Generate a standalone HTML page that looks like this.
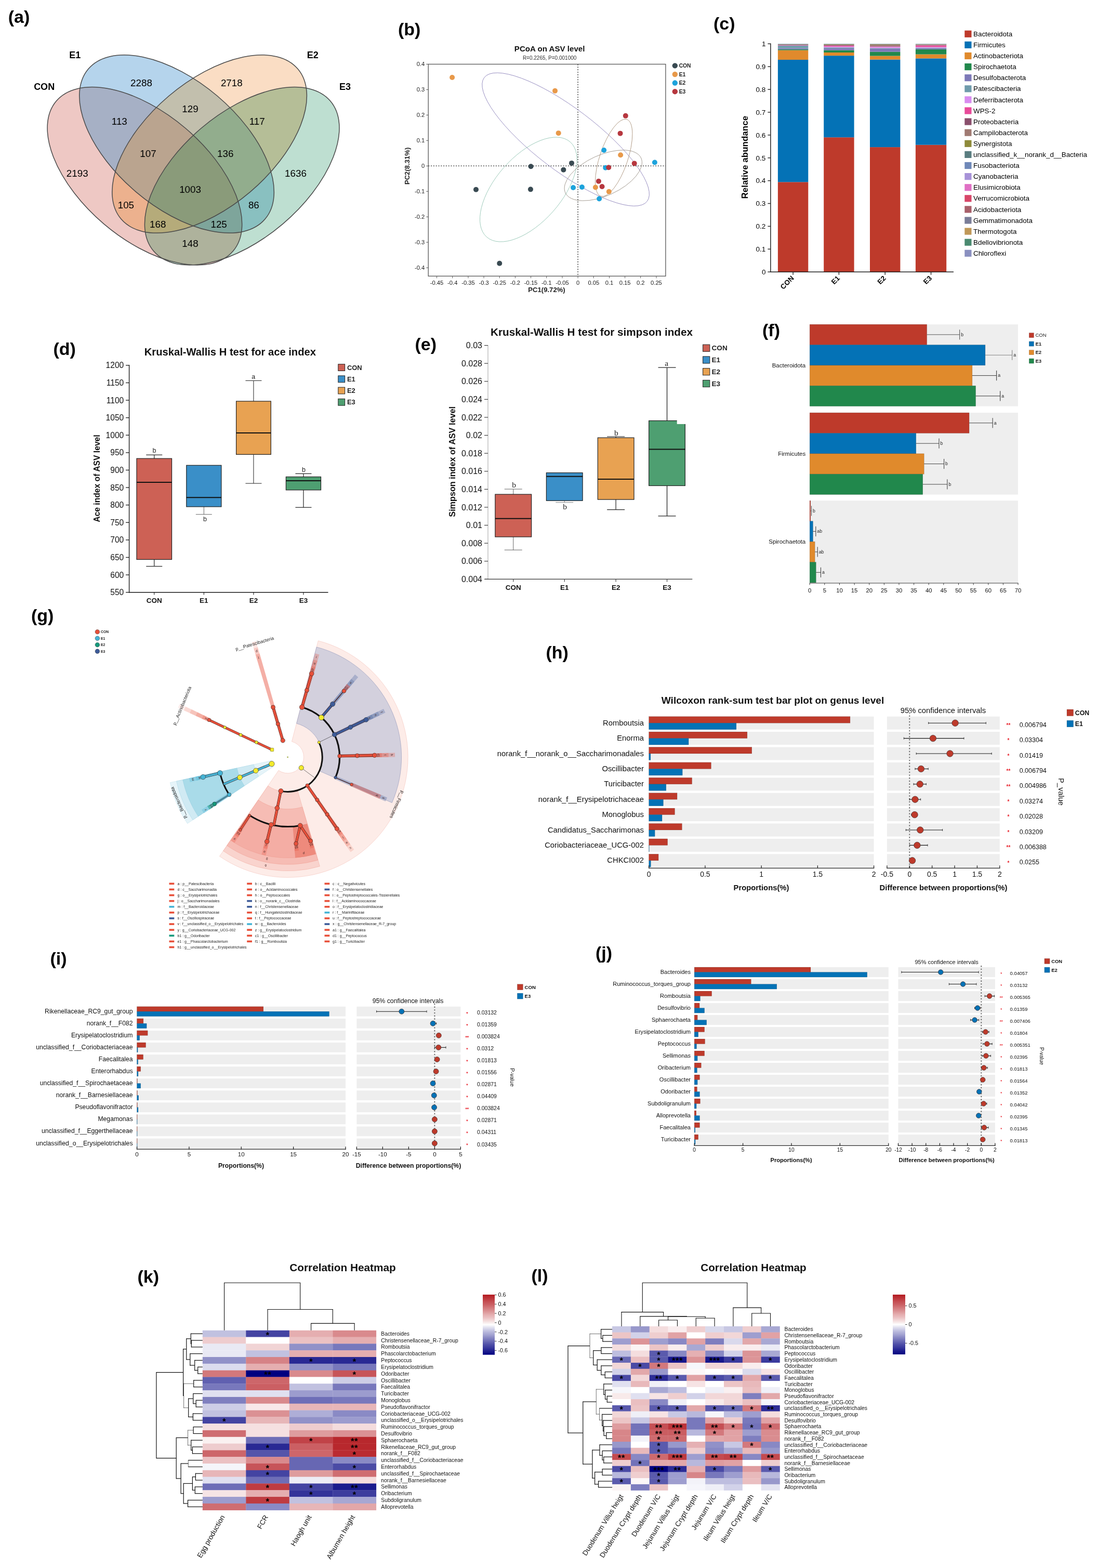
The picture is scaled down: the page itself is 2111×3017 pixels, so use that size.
<!DOCTYPE html>
<html lang="en">
<head>
<meta charset="utf-8">
<title>Figure</title>
<style>
html,body{margin:0;padding:0;background:#fff;}
body{width:2111px;height:3017px;overflow:hidden;}
svg{display:block;font-family:"Liberation Sans",Arial,sans-serif;}
</style>
</head>
<body>
<svg width="2111" height="3017" viewBox="0 0 2111 3017">
<rect x="0" y="0" width="2111" height="3017" fill="#ffffff"/>
<g id="p-a">
<text x="15.7" y="44" font-size="34" font-weight="bold">(a)</text>
<defs>
<clipPath id="vc0"><ellipse cx="278.4" cy="338.8" rx="223.1" ry="121" transform="rotate(40.3 278.4 338.8)" fill="#000"/></clipPath>
<clipPath id="vc1"><ellipse cx="340.05" cy="277.05" rx="223.1" ry="121" transform="rotate(40.3 340.05 277.05)" fill="#000"/></clipPath>
<clipPath id="vc2"><ellipse cx="403.1" cy="277.05" rx="223.1" ry="121" transform="rotate(-40.3 403.1 277.05)" fill="#000"/></clipPath>
<clipPath id="vc3"><ellipse cx="465.7" cy="338.8" rx="223.1" ry="121" transform="rotate(-40.3 465.7 338.8)" fill="#000"/></clipPath>
</defs>
<ellipse cx="278.4" cy="338.8" rx="223.1" ry="121" transform="rotate(40.3 278.4 338.8)" fill="rgb(238,200,196)"/>
<ellipse cx="340.05" cy="277.05" rx="223.1" ry="121" transform="rotate(40.3 340.05 277.05)" fill="rgb(181,212,236)"/>
<ellipse cx="403.1" cy="277.05" rx="223.1" ry="121" transform="rotate(-40.3 403.1 277.05)" fill="rgb(250,221,196)"/>
<ellipse cx="465.7" cy="338.8" rx="223.1" ry="121" transform="rotate(-40.3 465.7 338.8)" fill="rgb(190,223,209)"/>
<g clip-path="url(#vc0)"><ellipse cx="340.05" cy="277.05" rx="223.1" ry="121" transform="rotate(40.3 340.05 277.05)" fill="rgb(166,176,197)"/></g>
<g clip-path="url(#vc0)"><ellipse cx="403.1" cy="277.05" rx="223.1" ry="121" transform="rotate(-40.3 403.1 277.05)" fill="rgb(236,177,142)"/></g>
<g clip-path="url(#vc0)"><ellipse cx="465.7" cy="338.8" rx="223.1" ry="121" transform="rotate(-40.3 465.7 338.8)" fill="rgb(174,178,156)"/></g>
<g clip-path="url(#vc1)"><ellipse cx="403.1" cy="277.05" rx="223.1" ry="121" transform="rotate(-40.3 403.1 277.05)" fill="rgb(194,191,173)"/></g>
<g clip-path="url(#vc1)"><ellipse cx="465.7" cy="338.8" rx="223.1" ry="121" transform="rotate(-40.3 465.7 338.8)" fill="rgb(137,192,192)"/></g>
<g clip-path="url(#vc2)"><ellipse cx="465.7" cy="338.8" rx="223.1" ry="121" transform="rotate(-40.3 465.7 338.8)" fill="rgb(181,190,151)"/></g>
<g clip-path="url(#vc0)"><g clip-path="url(#vc1)"><ellipse cx="403.1" cy="277.05" rx="223.1" ry="121" transform="rotate(-40.3 403.1 277.05)" fill="rgb(186,164,143)"/></g></g>
<g clip-path="url(#vc0)"><g clip-path="url(#vc1)"><ellipse cx="465.7" cy="338.8" rx="223.1" ry="121" transform="rotate(-40.3 465.7 338.8)" fill="rgb(126,165,155)"/></g></g>
<g clip-path="url(#vc0)"><g clip-path="url(#vc2)"><ellipse cx="465.7" cy="338.8" rx="223.1" ry="121" transform="rotate(-40.3 465.7 338.8)" fill="rgb(181,171,122)"/></g></g>
<g clip-path="url(#vc1)"><g clip-path="url(#vc2)"><ellipse cx="465.7" cy="338.8" rx="223.1" ry="121" transform="rotate(-40.3 465.7 338.8)" fill="rgb(146,173,141)"/></g></g>
<g clip-path="url(#vc0)"><g clip-path="url(#vc1)"><g clip-path="url(#vc2)"><ellipse cx="465.7" cy="338.8" rx="223.1" ry="121" transform="rotate(-40.3 465.7 338.8)" fill="rgb(138,155,122)"/></g></g></g>
<ellipse cx="278.4" cy="338.8" rx="223.1" ry="121" transform="rotate(40.3 278.4 338.8)" fill="none" stroke="#4a4a4a" stroke-width="1.5"/>
<ellipse cx="340.05" cy="277.05" rx="223.1" ry="121" transform="rotate(40.3 340.05 277.05)" fill="none" stroke="#4a4a4a" stroke-width="1.5"/>
<ellipse cx="403.1" cy="277.05" rx="223.1" ry="121" transform="rotate(-40.3 403.1 277.05)" fill="none" stroke="#4a4a4a" stroke-width="1.5"/>
<ellipse cx="465.7" cy="338.8" rx="223.1" ry="121" transform="rotate(-40.3 465.7 338.8)" fill="none" stroke="#4a4a4a" stroke-width="1.5"/>
<text x="85.13" y="173.16" font-size="18" text-anchor="middle" font-weight="bold">CON</text>
<text x="144.27" y="112.23" font-size="18" text-anchor="middle" font-weight="bold">E1</text>
<text x="601.7" y="112.23" font-size="18" text-anchor="middle" font-weight="bold">E2</text>
<text x="663.98" y="173.16" font-size="18" text-anchor="middle" font-weight="bold">E3</text>
<text x="271.95" y="166.22" font-size="18.8" text-anchor="middle">2288</text>
<text x="445.79" y="166.22" font-size="18.8" text-anchor="middle">2718</text>
<text x="366.04" y="215.5" font-size="18.8" text-anchor="middle">129</text>
<text x="229.84" y="240.14" font-size="18.8" text-anchor="middle">113</text>
<text x="494.62" y="240.14" font-size="18.8" text-anchor="middle">117</text>
<text x="284.95" y="302.42" font-size="18.8" text-anchor="middle">107</text>
<text x="433.69" y="302.42" font-size="18.8" text-anchor="middle">136</text>
<text x="148.75" y="339.61" font-size="18.8" text-anchor="middle">2193</text>
<text x="569" y="339.61" font-size="18.8" text-anchor="middle">1636</text>
<text x="366.04" y="370.52" font-size="18.8" text-anchor="middle">1003</text>
<text x="242.38" y="401.43" font-size="18.8" text-anchor="middle">105</text>
<text x="488.35" y="401.43" font-size="18.8" text-anchor="middle">86</text>
<text x="303.76" y="438.17" font-size="18.8" text-anchor="middle">168</text>
<text x="421.15" y="438.17" font-size="18.8" text-anchor="middle">125</text>
<text x="366.04" y="475.36" font-size="18.8" text-anchor="middle">148</text>
</g>
<g id="p-b">
<text x="766" y="67.5" font-size="34" font-weight="bold">(b)</text>
<text x="1057.61" y="99.45" font-size="15.1" text-anchor="middle" font-weight="bold" fill="#111">PCoA on ASV level</text>
<text x="1057.61" y="115.14" font-size="10" text-anchor="middle" fill="#333">R=0.2265, P=0.001000</text>
<line x1="1112.1" y1="123.5" x2="1112.1" y2="531.3" stroke="#555" stroke-width="1.6" stroke-dasharray="2.2 2.6"/>
<line x1="824.2" y1="319.3" x2="1280.9" y2="319.3" stroke="#555" stroke-width="1.6" stroke-dasharray="2.2 2.6"/>
<ellipse cx="1088.6" cy="268.24" rx="196.79" ry="59.75" transform="rotate(37.2 1088.6 268.24)" fill="none" stroke="#8a80b8" stroke-width="0.8"/>
<ellipse cx="1016.91" cy="364.58" rx="121.73" ry="63.48" transform="rotate(-48.7 1016.91 364.58)" fill="none" stroke="#8fc3b0" stroke-width="0.8"/>
<ellipse cx="1160.78" cy="337.51" rx="80.17" ry="39.02" transform="rotate(-24.6 1160.78 337.51)" fill="none" stroke="#9a9186" stroke-width="0.8"/>
<ellipse cx="1181.21" cy="303.6" rx="78.04" ry="26.89" transform="rotate(-71.3 1181.21 303.6)" fill="none" stroke="#a89078" stroke-width="0.8"/>
<rect x="824.2" y="123.5" width="456.7" height="407.8" fill="none" stroke="#555" stroke-width="1.3"/>
<line x1="840.57" y1="531.3" x2="840.57" y2="535.3" stroke="#555" stroke-width="1"/>
<text x="840.57" y="548.3" font-size="11.2" text-anchor="middle" fill="#222">-0.45</text>
<line x1="870.74" y1="531.3" x2="870.74" y2="535.3" stroke="#555" stroke-width="1"/>
<text x="870.74" y="548.3" font-size="11.2" text-anchor="middle" fill="#222">-0.4</text>
<line x1="900.91" y1="531.3" x2="900.91" y2="535.3" stroke="#555" stroke-width="1"/>
<text x="900.91" y="548.3" font-size="11.2" text-anchor="middle" fill="#222">-0.35</text>
<line x1="931.08" y1="531.3" x2="931.08" y2="535.3" stroke="#555" stroke-width="1"/>
<text x="931.08" y="548.3" font-size="11.2" text-anchor="middle" fill="#222">-0.3</text>
<line x1="961.25" y1="531.3" x2="961.25" y2="535.3" stroke="#555" stroke-width="1"/>
<text x="961.25" y="548.3" font-size="11.2" text-anchor="middle" fill="#222">-0.25</text>
<line x1="991.42" y1="531.3" x2="991.42" y2="535.3" stroke="#555" stroke-width="1"/>
<text x="991.42" y="548.3" font-size="11.2" text-anchor="middle" fill="#222">-0.2</text>
<line x1="1021.59" y1="531.3" x2="1021.59" y2="535.3" stroke="#555" stroke-width="1"/>
<text x="1021.59" y="548.3" font-size="11.2" text-anchor="middle" fill="#222">-0.15</text>
<line x1="1051.76" y1="531.3" x2="1051.76" y2="535.3" stroke="#555" stroke-width="1"/>
<text x="1051.76" y="548.3" font-size="11.2" text-anchor="middle" fill="#222">-0.1</text>
<line x1="1081.93" y1="531.3" x2="1081.93" y2="535.3" stroke="#555" stroke-width="1"/>
<text x="1081.93" y="548.3" font-size="11.2" text-anchor="middle" fill="#222">-0.05</text>
<line x1="1112.1" y1="531.3" x2="1112.1" y2="535.3" stroke="#555" stroke-width="1"/>
<text x="1112.1" y="548.3" font-size="11.2" text-anchor="middle" fill="#222">0</text>
<line x1="1142.27" y1="531.3" x2="1142.27" y2="535.3" stroke="#555" stroke-width="1"/>
<text x="1142.27" y="548.3" font-size="11.2" text-anchor="middle" fill="#222">0.05</text>
<line x1="1172.44" y1="531.3" x2="1172.44" y2="535.3" stroke="#555" stroke-width="1"/>
<text x="1172.44" y="548.3" font-size="11.2" text-anchor="middle" fill="#222">0.1</text>
<line x1="1202.61" y1="531.3" x2="1202.61" y2="535.3" stroke="#555" stroke-width="1"/>
<text x="1202.61" y="548.3" font-size="11.2" text-anchor="middle" fill="#222">0.15</text>
<line x1="1232.78" y1="531.3" x2="1232.78" y2="535.3" stroke="#555" stroke-width="1"/>
<text x="1232.78" y="548.3" font-size="11.2" text-anchor="middle" fill="#222">0.2</text>
<line x1="1262.95" y1="531.3" x2="1262.95" y2="535.3" stroke="#555" stroke-width="1"/>
<text x="1262.95" y="548.3" font-size="11.2" text-anchor="middle" fill="#222">0.25</text>
<line x1="820.2" y1="515.14" x2="824.2" y2="515.14" stroke="#555" stroke-width="1"/>
<text x="817.2" y="519.14" font-size="11.2" text-anchor="end" fill="#222">-0.4</text>
<line x1="820.2" y1="466.18" x2="824.2" y2="466.18" stroke="#555" stroke-width="1"/>
<text x="817.2" y="470.18" font-size="11.2" text-anchor="end" fill="#222">-0.3</text>
<line x1="820.2" y1="417.22" x2="824.2" y2="417.22" stroke="#555" stroke-width="1"/>
<text x="817.2" y="421.22" font-size="11.2" text-anchor="end" fill="#222">-0.2</text>
<line x1="820.2" y1="368.26" x2="824.2" y2="368.26" stroke="#555" stroke-width="1"/>
<text x="817.2" y="372.26" font-size="11.2" text-anchor="end" fill="#222">-0.1</text>
<line x1="820.2" y1="319.3" x2="824.2" y2="319.3" stroke="#555" stroke-width="1"/>
<text x="817.2" y="323.3" font-size="11.2" text-anchor="end" fill="#222">0</text>
<line x1="820.2" y1="270.34" x2="824.2" y2="270.34" stroke="#555" stroke-width="1"/>
<text x="817.2" y="274.34" font-size="11.2" text-anchor="end" fill="#222">0.1</text>
<line x1="820.2" y1="221.38" x2="824.2" y2="221.38" stroke="#555" stroke-width="1"/>
<text x="817.2" y="225.38" font-size="11.2" text-anchor="end" fill="#222">0.2</text>
<line x1="820.2" y1="172.42" x2="824.2" y2="172.42" stroke="#555" stroke-width="1"/>
<text x="817.2" y="176.42" font-size="11.2" text-anchor="end" fill="#222">0.3</text>
<line x1="820.2" y1="123.46" x2="824.2" y2="123.46" stroke="#555" stroke-width="1"/>
<text x="817.2" y="127.46" font-size="11.2" text-anchor="end" fill="#222">0.4</text>
<text x="1052.01" y="561.74" font-size="13.1" text-anchor="middle" font-weight="bold" fill="#222">PC1(9.72%)</text>
<text x="788.38" y="319.4" font-size="13.1" text-anchor="middle" font-weight="bold" fill="#222" transform="rotate(-90 788.38 319.4)">PC2(8.31%)</text>
<circle cx="1021.59" cy="320.28" r="5" fill="#394a52"/>
<circle cx="1084.34" cy="326.64" r="5" fill="#394a52"/>
<circle cx="1100.03" cy="313.91" r="5" fill="#394a52"/>
<circle cx="915.99" cy="364.83" r="5" fill="#394a52"/>
<circle cx="1020.99" cy="364.34" r="5" fill="#394a52"/>
<circle cx="961.25" cy="506.82" r="5" fill="#394a52"/>
<circle cx="870.14" cy="148.92" r="5" fill="#e8994a"/>
<circle cx="1068.05" cy="174.87" r="5" fill="#e8994a"/>
<circle cx="1074.69" cy="256.14" r="5" fill="#e8994a"/>
<circle cx="1194.16" cy="298.25" r="5" fill="#e8994a"/>
<circle cx="1145.89" cy="360.43" r="5" fill="#e8994a"/>
<circle cx="1171.84" cy="368.75" r="5" fill="#e8994a"/>
<circle cx="1162.18" cy="288.94" r="5" fill="#1da3dc"/>
<circle cx="1259.93" cy="312.45" r="5" fill="#1da3dc"/>
<circle cx="1165.2" cy="322.73" r="5" fill="#1da3dc"/>
<circle cx="1103.05" cy="360.92" r="5" fill="#1da3dc"/>
<circle cx="1119.94" cy="359.94" r="5" fill="#1da3dc"/>
<circle cx="1153.13" cy="382.46" r="5" fill="#1da3dc"/>
<circle cx="1203.82" cy="222.85" r="5" fill="#b6373f"/>
<circle cx="1193.56" cy="256.63" r="5" fill="#b6373f"/>
<circle cx="1220.71" cy="314.4" r="5" fill="#b6373f"/>
<circle cx="1171.23" cy="322.24" r="5" fill="#b6373f"/>
<circle cx="1151.92" cy="348.68" r="5" fill="#b6373f"/>
<circle cx="1158.56" cy="358.96" r="5" fill="#b6373f"/>
<circle cx="1298.83" cy="126.34" r="5.2" fill="#394a52"/>
<text x="1306.68" y="129.94" font-size="10.3" font-weight="bold" fill="#222">CON</text>
<circle cx="1298.83" cy="142.96" r="5.2" fill="#e8994a"/>
<text x="1306.68" y="146.56" font-size="10.3" font-weight="bold" fill="#222">E1</text>
<circle cx="1298.83" cy="159.57" r="5.2" fill="#1da3dc"/>
<text x="1306.68" y="163.17" font-size="10.3" font-weight="bold" fill="#222">E2</text>
<circle cx="1298.83" cy="176.19" r="5.2" fill="#b6373f"/>
<text x="1306.68" y="179.79" font-size="10.3" font-weight="bold" fill="#222">E3</text>
</g>
<g id="p-c">
<text x="1373" y="56.5" font-size="34" font-weight="bold">(c)</text>
<rect x="1496.9" y="350.27" width="58.4" height="172.93" fill="#be3a2b"/>
<rect x="1496.9" y="115.02" width="58.4" height="235.25" fill="#0472b6"/>
<rect x="1496.9" y="96.59" width="58.4" height="18.43" fill="#e08a2c"/>
<rect x="1496.9" y="94.83" width="58.4" height="1.76" fill="#21884c"/>
<rect x="1496.9" y="92.64" width="58.4" height="2.19" fill="#7d79b8"/>
<rect x="1496.9" y="87.81" width="58.4" height="4.83" fill="#6f9bab"/>
<rect x="1496.9" y="87.37" width="58.4" height="0.44" fill="#d98cf0"/>
<rect x="1496.9" y="86.93" width="58.4" height="0.44" fill="#e84a9a"/>
<rect x="1496.9" y="86.06" width="58.4" height="0.88" fill="#8a4f6c"/>
<rect x="1496.9" y="85.62" width="58.4" height="0.44" fill="#a07a72"/>
<rect x="1496.9" y="85.18" width="58.4" height="0.44" fill="#8e8a3a"/>
<rect x="1496.9" y="84.74" width="58.4" height="0.44" fill="#5a7d80"/>
<rect x="1496.9" y="84.3" width="58.4" height="0.44" fill="#6f88b8"/>
<rect x="1585.2" y="264.25" width="58.4" height="258.95" fill="#be3a2b"/>
<rect x="1585.2" y="107.12" width="58.4" height="157.13" fill="#0472b6"/>
<rect x="1585.2" y="100.98" width="58.4" height="6.14" fill="#e08a2c"/>
<rect x="1585.2" y="96.59" width="58.4" height="4.39" fill="#21884c"/>
<rect x="1585.2" y="93.08" width="58.4" height="3.51" fill="#7d79b8"/>
<rect x="1585.2" y="91.32" width="58.4" height="1.76" fill="#6f9bab"/>
<rect x="1585.2" y="89.57" width="58.4" height="1.76" fill="#d98cf0"/>
<rect x="1585.2" y="87.81" width="58.4" height="1.76" fill="#e84a9a"/>
<rect x="1585.2" y="86.93" width="58.4" height="0.88" fill="#8a4f6c"/>
<rect x="1585.2" y="86.06" width="58.4" height="0.88" fill="#a07a72"/>
<rect x="1585.2" y="85.18" width="58.4" height="0.88" fill="#8e8a3a"/>
<rect x="1585.2" y="84.74" width="58.4" height="0.44" fill="#5a7d80"/>
<rect x="1585.2" y="84.3" width="58.4" height="0.44" fill="#6f88b8"/>
<rect x="1674" y="283.12" width="58.4" height="240.08" fill="#be3a2b"/>
<rect x="1674" y="114.58" width="58.4" height="168.54" fill="#0472b6"/>
<rect x="1674" y="107.56" width="58.4" height="7.02" fill="#e08a2c"/>
<rect x="1674" y="99.66" width="58.4" height="7.9" fill="#21884c"/>
<rect x="1674" y="93.96" width="58.4" height="5.71" fill="#7d79b8"/>
<rect x="1674" y="92.64" width="58.4" height="1.32" fill="#6f9bab"/>
<rect x="1674" y="90.44" width="58.4" height="2.19" fill="#d98cf0"/>
<rect x="1674" y="89.57" width="58.4" height="0.88" fill="#e84a9a"/>
<rect x="1674" y="88.25" width="58.4" height="1.32" fill="#8a4f6c"/>
<rect x="1674" y="86.06" width="58.4" height="2.19" fill="#a07a72"/>
<rect x="1674" y="85.18" width="58.4" height="0.88" fill="#8e8a3a"/>
<rect x="1674" y="84.74" width="58.4" height="0.44" fill="#5a7d80"/>
<rect x="1674" y="84.3" width="58.4" height="0.44" fill="#6f88b8"/>
<rect x="1761.9" y="278.73" width="59.3" height="244.47" fill="#be3a2b"/>
<rect x="1761.9" y="112.39" width="59.3" height="166.34" fill="#0472b6"/>
<rect x="1761.9" y="104.49" width="59.3" height="7.9" fill="#e08a2c"/>
<rect x="1761.9" y="94.83" width="59.3" height="9.66" fill="#21884c"/>
<rect x="1761.9" y="92.64" width="59.3" height="2.19" fill="#7d79b8"/>
<rect x="1761.9" y="91.76" width="59.3" height="0.88" fill="#6f9bab"/>
<rect x="1761.9" y="90.44" width="59.3" height="1.32" fill="#d98cf0"/>
<rect x="1761.9" y="87.37" width="59.3" height="3.07" fill="#e84a9a"/>
<rect x="1761.9" y="86.49" width="59.3" height="0.88" fill="#8a4f6c"/>
<rect x="1761.9" y="85.62" width="59.3" height="0.88" fill="#a07a72"/>
<rect x="1761.9" y="85.18" width="59.3" height="0.44" fill="#8e8a3a"/>
<rect x="1761.9" y="84.74" width="59.3" height="0.44" fill="#5a7d80"/>
<rect x="1761.9" y="84.3" width="59.3" height="0.44" fill="#6f88b8"/>
<line x1="1482.9" y1="83.6" x2="1482.9" y2="523.9" stroke="#222" stroke-width="1.5"/>
<line x1="1482.2" y1="523.2" x2="1835" y2="523.2" stroke="#222" stroke-width="1.5"/>
<line x1="1477.4" y1="523.2" x2="1482.9" y2="523.2" stroke="#222" stroke-width="1.4"/>
<text x="1473.4" y="528" font-size="13.5" text-anchor="end">0</text>
<line x1="1477.4" y1="479.31" x2="1482.9" y2="479.31" stroke="#222" stroke-width="1.4"/>
<text x="1473.4" y="484.11" font-size="13.5" text-anchor="end">0.1</text>
<line x1="1477.4" y1="435.42" x2="1482.9" y2="435.42" stroke="#222" stroke-width="1.4"/>
<text x="1473.4" y="440.22" font-size="13.5" text-anchor="end">0.2</text>
<line x1="1477.4" y1="391.53" x2="1482.9" y2="391.53" stroke="#222" stroke-width="1.4"/>
<text x="1473.4" y="396.33" font-size="13.5" text-anchor="end">0.3</text>
<line x1="1477.4" y1="347.64" x2="1482.9" y2="347.64" stroke="#222" stroke-width="1.4"/>
<text x="1473.4" y="352.44" font-size="13.5" text-anchor="end">0.4</text>
<line x1="1477.4" y1="303.75" x2="1482.9" y2="303.75" stroke="#222" stroke-width="1.4"/>
<text x="1473.4" y="308.55" font-size="13.5" text-anchor="end">0.5</text>
<line x1="1477.4" y1="259.86" x2="1482.9" y2="259.86" stroke="#222" stroke-width="1.4"/>
<text x="1473.4" y="264.66" font-size="13.5" text-anchor="end">0.6</text>
<line x1="1477.4" y1="215.97" x2="1482.9" y2="215.97" stroke="#222" stroke-width="1.4"/>
<text x="1473.4" y="220.77" font-size="13.5" text-anchor="end">0.7</text>
<line x1="1477.4" y1="172.08" x2="1482.9" y2="172.08" stroke="#222" stroke-width="1.4"/>
<text x="1473.4" y="176.88" font-size="13.5" text-anchor="end">0.8</text>
<line x1="1477.4" y1="128.19" x2="1482.9" y2="128.19" stroke="#222" stroke-width="1.4"/>
<text x="1473.4" y="132.99" font-size="13.5" text-anchor="end">0.9</text>
<line x1="1477.4" y1="84.3" x2="1482.9" y2="84.3" stroke="#222" stroke-width="1.4"/>
<text x="1473.4" y="89.1" font-size="13.5" text-anchor="end">1</text>
<text x="1439.44" y="302.71" font-size="17" text-anchor="middle" font-weight="bold" transform="rotate(-90 1439.44 302.71)">Relative abundance</text>
<line x1="1526.1" y1="523.2" x2="1526.1" y2="528.7" stroke="#222" stroke-width="1.4"/>
<text x="1528.6" y="536.2" font-size="13.5" text-anchor="end" font-weight="bold" transform="rotate(-45 1528.6 536.2)">CON</text>
<line x1="1614.4" y1="523.2" x2="1614.4" y2="528.7" stroke="#222" stroke-width="1.4"/>
<text x="1616.9" y="536.2" font-size="13.5" text-anchor="end" font-weight="bold" transform="rotate(-45 1616.9 536.2)">E1</text>
<line x1="1703.2" y1="523.2" x2="1703.2" y2="528.7" stroke="#222" stroke-width="1.4"/>
<text x="1705.7" y="536.2" font-size="13.5" text-anchor="end" font-weight="bold" transform="rotate(-45 1705.7 536.2)">E2</text>
<line x1="1791.55" y1="523.2" x2="1791.55" y2="528.7" stroke="#222" stroke-width="1.4"/>
<text x="1794.05" y="536.2" font-size="13.5" text-anchor="end" font-weight="bold" transform="rotate(-45 1794.05 536.2)">E3</text>
<rect x="1856.3" y="58.7" width="13.2" height="13.2" fill="#be3a2b"/>
<text x="1873" y="69.9" font-size="13.4">Bacteroidota</text>
<rect x="1856.3" y="79.8" width="13.2" height="13.2" fill="#0472b6"/>
<text x="1873" y="91" font-size="13.4">Firmicutes</text>
<rect x="1856.3" y="100.9" width="13.2" height="13.2" fill="#e08a2c"/>
<text x="1873" y="112.1" font-size="13.4">Actinobacteriota</text>
<rect x="1856.3" y="122" width="13.2" height="13.2" fill="#21884c"/>
<text x="1873" y="133.2" font-size="13.4">Spirochaetota</text>
<rect x="1856.3" y="143.1" width="13.2" height="13.2" fill="#7d79b8"/>
<text x="1873" y="154.3" font-size="13.4">Desulfobacterota</text>
<rect x="1856.3" y="164.2" width="13.2" height="13.2" fill="#6f9bab"/>
<text x="1873" y="175.4" font-size="13.4">Patescibacteria</text>
<rect x="1856.3" y="185.3" width="13.2" height="13.2" fill="#d98cf0"/>
<text x="1873" y="196.5" font-size="13.4">Deferribacterota</text>
<rect x="1856.3" y="206.4" width="13.2" height="13.2" fill="#e84a9a"/>
<text x="1873" y="217.6" font-size="13.4">WPS-2</text>
<rect x="1856.3" y="227.5" width="13.2" height="13.2" fill="#8a4f6c"/>
<text x="1873" y="238.7" font-size="13.4">Proteobacteria</text>
<rect x="1856.3" y="248.6" width="13.2" height="13.2" fill="#a07a72"/>
<text x="1873" y="259.8" font-size="13.4">Campilobacterota</text>
<rect x="1856.3" y="269.7" width="13.2" height="13.2" fill="#8e8a3a"/>
<text x="1873" y="280.9" font-size="13.4">Synergistota</text>
<rect x="1856.3" y="290.8" width="13.2" height="13.2" fill="#5a7d80"/>
<text x="1873" y="302" font-size="13.4">unclassified_k__norank_d__Bacteria</text>
<rect x="1856.3" y="311.9" width="13.2" height="13.2" fill="#6f88b8"/>
<text x="1873" y="323.1" font-size="13.4">Fusobacteriota</text>
<rect x="1856.3" y="333" width="13.2" height="13.2" fill="#a792d8"/>
<text x="1873" y="344.2" font-size="13.4">Cyanobacteria</text>
<rect x="1856.3" y="354.1" width="13.2" height="13.2" fill="#e070c4"/>
<text x="1873" y="365.3" font-size="13.4">Elusimicrobiota</text>
<rect x="1856.3" y="375.2" width="13.2" height="13.2" fill="#d84668"/>
<text x="1873" y="386.4" font-size="13.4">Verrucomicrobiota</text>
<rect x="1856.3" y="396.3" width="13.2" height="13.2" fill="#a8606a"/>
<text x="1873" y="407.5" font-size="13.4">Acidobacteriota</text>
<rect x="1856.3" y="417.4" width="13.2" height="13.2" fill="#7a7d98"/>
<text x="1873" y="428.6" font-size="13.4">Gemmatimonadota</text>
<rect x="1856.3" y="438.5" width="13.2" height="13.2" fill="#c09858"/>
<text x="1873" y="449.7" font-size="13.4">Thermotogota</text>
<rect x="1856.3" y="459.6" width="13.2" height="13.2" fill="#4a8a70"/>
<text x="1873" y="470.8" font-size="13.4">Bdellovibrionota</text>
<rect x="1856.3" y="480.7" width="13.2" height="13.2" fill="#8a90c0"/>
<text x="1873" y="491.9" font-size="13.4">Chloroflexi</text>
</g>
<g id="p-d">
<text x="102.5" y="682.5" font-size="34" font-weight="bold">(d)</text>
<text x="442.85" y="684.47" font-size="20.2" text-anchor="middle" font-weight="bold" fill="#111">Kruskal-Wallis H test for ace index</text>
<line x1="296.75" y1="875.3" x2="296.75" y2="882.2" stroke="#222" stroke-width="1.2"/>
<line x1="281.25" y1="875.3" x2="312.25" y2="875.3" stroke="#222" stroke-width="1.2"/>
<line x1="296.75" y1="1076.5" x2="296.75" y2="1089.6" stroke="#222" stroke-width="1.2"/>
<line x1="281.25" y1="1089.6" x2="312.25" y2="1089.6" stroke="#222" stroke-width="1.2"/>
<rect x="263" y="882.2" width="67.5" height="194.3" fill="#cd6155" stroke="#222" stroke-width="1.2"/>
<line x1="263" y1="928" x2="330.5" y2="928" stroke="#111" stroke-width="2"/>
<line x1="392.35" y1="975" x2="392.35" y2="989.8" stroke="#555" stroke-width="0.9"/>
<line x1="376.85" y1="989.8" x2="407.85" y2="989.8" stroke="#555" stroke-width="0.9"/>
<rect x="358.8" y="895.3" width="67.1" height="79.7" fill="#3a8fc8" stroke="#222" stroke-width="1.2"/>
<line x1="358.8" y1="957.2" x2="425.9" y2="957.2" stroke="#111" stroke-width="2"/>
<line x1="487.95" y1="732.4" x2="487.95" y2="772" stroke="#333" stroke-width="1.1"/>
<line x1="472.45" y1="732.4" x2="503.45" y2="732.4" stroke="#333" stroke-width="1.1"/>
<line x1="487.95" y1="874.4" x2="487.95" y2="930.1" stroke="#333" stroke-width="1.1"/>
<line x1="472.45" y1="930.1" x2="503.45" y2="930.1" stroke="#333" stroke-width="1.1"/>
<rect x="454.6" y="772" width="66.7" height="102.4" fill="#e8a252" stroke="#222" stroke-width="1.2"/>
<line x1="454.6" y1="833" x2="521.3" y2="833" stroke="#111" stroke-width="2"/>
<line x1="583.95" y1="911.4" x2="583.95" y2="917.5" stroke="#222" stroke-width="1.2"/>
<line x1="568.45" y1="911.4" x2="599.45" y2="911.4" stroke="#222" stroke-width="1.2"/>
<line x1="583.95" y1="942.8" x2="583.95" y2="976.3" stroke="#222" stroke-width="1.2"/>
<line x1="568.45" y1="976.3" x2="599.45" y2="976.3" stroke="#222" stroke-width="1.2"/>
<rect x="550.4" y="917.5" width="67.1" height="25.3" fill="#4e9f71" stroke="#222" stroke-width="1.2"/>
<line x1="550.4" y1="924.9" x2="617.5" y2="924.9" stroke="#111" stroke-width="2"/>
<line x1="248.6" y1="702.1" x2="248.6" y2="1140.4" stroke="#1a1a1a" stroke-width="1.4"/>
<line x1="247.9" y1="1139.7" x2="631.5" y2="1139.7" stroke="#1a1a1a" stroke-width="1.4"/>
<line x1="242.1" y1="1139.7" x2="248.6" y2="1139.7" stroke="#1a1a1a" stroke-width="1.3"/>
<text x="238.3" y="1145.2" font-size="15.6" text-anchor="end" fill="#111">550</text>
<line x1="242.1" y1="1106.1" x2="248.6" y2="1106.1" stroke="#1a1a1a" stroke-width="1.3"/>
<text x="238.3" y="1111.6" font-size="15.6" text-anchor="end" fill="#111">600</text>
<line x1="242.1" y1="1072.5" x2="248.6" y2="1072.5" stroke="#1a1a1a" stroke-width="1.3"/>
<text x="238.3" y="1078" font-size="15.6" text-anchor="end" fill="#111">650</text>
<line x1="242.1" y1="1038.9" x2="248.6" y2="1038.9" stroke="#1a1a1a" stroke-width="1.3"/>
<text x="238.3" y="1044.4" font-size="15.6" text-anchor="end" fill="#111">700</text>
<line x1="242.1" y1="1005.3" x2="248.6" y2="1005.3" stroke="#1a1a1a" stroke-width="1.3"/>
<text x="238.3" y="1010.8" font-size="15.6" text-anchor="end" fill="#111">750</text>
<line x1="242.1" y1="971.7" x2="248.6" y2="971.7" stroke="#1a1a1a" stroke-width="1.3"/>
<text x="238.3" y="977.2" font-size="15.6" text-anchor="end" fill="#111">800</text>
<line x1="242.1" y1="938.1" x2="248.6" y2="938.1" stroke="#1a1a1a" stroke-width="1.3"/>
<text x="238.3" y="943.6" font-size="15.6" text-anchor="end" fill="#111">850</text>
<line x1="242.1" y1="904.5" x2="248.6" y2="904.5" stroke="#1a1a1a" stroke-width="1.3"/>
<text x="238.3" y="910" font-size="15.6" text-anchor="end" fill="#111">900</text>
<line x1="242.1" y1="870.9" x2="248.6" y2="870.9" stroke="#1a1a1a" stroke-width="1.3"/>
<text x="238.3" y="876.4" font-size="15.6" text-anchor="end" fill="#111">950</text>
<line x1="242.1" y1="837.3" x2="248.6" y2="837.3" stroke="#1a1a1a" stroke-width="1.3"/>
<text x="238.3" y="842.8" font-size="15.6" text-anchor="end" fill="#111">1000</text>
<line x1="242.1" y1="803.7" x2="248.6" y2="803.7" stroke="#1a1a1a" stroke-width="1.3"/>
<text x="238.3" y="809.2" font-size="15.6" text-anchor="end" fill="#111">1050</text>
<line x1="242.1" y1="770.1" x2="248.6" y2="770.1" stroke="#1a1a1a" stroke-width="1.3"/>
<text x="238.3" y="775.6" font-size="15.6" text-anchor="end" fill="#111">1100</text>
<line x1="242.1" y1="736.5" x2="248.6" y2="736.5" stroke="#1a1a1a" stroke-width="1.3"/>
<text x="238.3" y="742" font-size="15.6" text-anchor="end" fill="#111">1150</text>
<line x1="242.1" y1="702.9" x2="248.6" y2="702.9" stroke="#1a1a1a" stroke-width="1.3"/>
<text x="238.3" y="708.4" font-size="15.6" text-anchor="end" fill="#111">1200</text>
<text x="191.95" y="920.56" font-size="15.7" text-anchor="middle" font-weight="bold" fill="#111" transform="rotate(-90 191.95 920.56)">Ace index of ASV level</text>
<line x1="296.75" y1="1139.7" x2="296.75" y2="1144.5" stroke="#222" stroke-width="1.1"/>
<text x="296.75" y="1159.6" font-size="13.5" text-anchor="middle" font-weight="bold" fill="#111">CON</text>
<line x1="392.35" y1="1139.7" x2="392.35" y2="1144.5" stroke="#222" stroke-width="1.1"/>
<text x="392.35" y="1159.6" font-size="13.5" text-anchor="middle" font-weight="bold" fill="#111">E1</text>
<line x1="487.95" y1="1139.7" x2="487.95" y2="1144.5" stroke="#222" stroke-width="1.1"/>
<text x="487.95" y="1159.6" font-size="13.5" text-anchor="middle" font-weight="bold" fill="#111">E2</text>
<line x1="583.95" y1="1139.7" x2="583.95" y2="1144.5" stroke="#222" stroke-width="1.1"/>
<text x="583.95" y="1159.6" font-size="13.5" text-anchor="middle" font-weight="bold" fill="#111">E3</text>
<text x="296.93" y="871.34" font-size="12.5" text-anchor="middle" fill="#222">b</text>
<text x="394.5" y="1003.33" font-size="12.5" text-anchor="middle" fill="#222">b</text>
<text x="487.72" y="728.9" font-size="12.5" text-anchor="middle" fill="#222">a</text>
<text x="584.42" y="908.37" font-size="12.5" text-anchor="middle" fill="#222">b</text>
<rect x="650.8" y="700.72" width="12.8" height="12.8" fill="#cd6155" stroke="#222" stroke-width="1"/>
<text x="668" y="711.52" font-size="12.9" font-weight="bold" fill="#222">CON</text>
<rect x="650.8" y="722.93" width="12.8" height="12.8" fill="#3a8fc8" stroke="#222" stroke-width="1"/>
<text x="668" y="733.73" font-size="12.9" font-weight="bold" fill="#222">E1</text>
<rect x="650.8" y="745.15" width="12.8" height="12.8" fill="#e8a252" stroke="#222" stroke-width="1"/>
<text x="668" y="755.95" font-size="12.9" font-weight="bold" fill="#222">E2</text>
<rect x="650.8" y="767.37" width="12.8" height="12.8" fill="#4e9f71" stroke="#222" stroke-width="1"/>
<text x="668" y="778.17" font-size="12.9" font-weight="bold" fill="#222">E3</text>
</g>
<g id="p-e">
<text x="798.5" y="673.5" font-size="34" font-weight="bold">(e)</text>
<text x="1138.5" y="646.17" font-size="20.7" text-anchor="middle" font-weight="bold" fill="#111">Kruskal-Wallis H test for simpson index</text>
<line x1="987.75" y1="941.1" x2="987.75" y2="951.1" stroke="#555" stroke-width="0.9"/>
<line x1="970.75" y1="941.1" x2="1004.75" y2="941.1" stroke="#555" stroke-width="0.9"/>
<line x1="987.75" y1="1033" x2="987.75" y2="1058.2" stroke="#555" stroke-width="0.9"/>
<line x1="970.75" y1="1058.2" x2="1004.75" y2="1058.2" stroke="#555" stroke-width="0.9"/>
<rect x="952.9" y="951.1" width="69.7" height="81.9" fill="#cd6155" stroke="#222" stroke-width="1.2"/>
<line x1="952.9" y1="997.7" x2="1022.6" y2="997.7" stroke="#111" stroke-width="2"/>
<line x1="1086.25" y1="963.3" x2="1086.25" y2="966.8" stroke="#777" stroke-width="0.9"/>
<line x1="1069.25" y1="966.8" x2="1103.25" y2="966.8" stroke="#777" stroke-width="0.9"/>
<rect x="1051.4" y="909.7" width="69.7" height="53.6" fill="#3a8fc8" stroke="#222" stroke-width="1.2"/>
<line x1="1051.4" y1="916.7" x2="1121.1" y2="916.7" stroke="#111" stroke-width="2"/>
<line x1="1185.15" y1="840" x2="1185.15" y2="842.2" stroke="#222" stroke-width="1.2"/>
<line x1="1168.15" y1="840" x2="1202.15" y2="840" stroke="#222" stroke-width="1.2"/>
<line x1="1185.15" y1="961.1" x2="1185.15" y2="980.7" stroke="#222" stroke-width="1.2"/>
<line x1="1168.15" y1="980.7" x2="1202.15" y2="980.7" stroke="#222" stroke-width="1.2"/>
<rect x="1150.3" y="842.2" width="69.7" height="118.9" fill="#e8a252" stroke="#222" stroke-width="1.2"/>
<line x1="1150.3" y1="921.9" x2="1220" y2="921.9" stroke="#111" stroke-width="2"/>
<line x1="1283.55" y1="707.2" x2="1283.55" y2="809.5" stroke="#222" stroke-width="1.3"/>
<line x1="1266.55" y1="707.2" x2="1300.55" y2="707.2" stroke="#222" stroke-width="1.3"/>
<line x1="1283.55" y1="934.5" x2="1283.55" y2="992.9" stroke="#222" stroke-width="1.3"/>
<line x1="1266.55" y1="992.9" x2="1300.55" y2="992.9" stroke="#222" stroke-width="1.3"/>
<rect x="1248.7" y="809.5" width="69.7" height="125" fill="#4e9f71" stroke="#222" stroke-width="1.2"/>
<line x1="1248.7" y1="864.4" x2="1318.4" y2="864.4" stroke="#111" stroke-width="2"/>
<rect x="1302.72" y="807.34" width="19" height="8.6" fill="#fff"/>
<line x1="939" y1="664" x2="939" y2="1114.9" stroke="#aaa" stroke-width="1.1"/>
<line x1="933" y1="1114.4" x2="1332.3" y2="1114.4" stroke="#333" stroke-width="1.1"/>
<line x1="932" y1="1114.4" x2="939" y2="1114.4" stroke="#333" stroke-width="1.1"/>
<text x="928" y="1120" font-size="16" text-anchor="end" fill="#111">0.004</text>
<line x1="932" y1="1079.8" x2="939" y2="1079.8" stroke="#333" stroke-width="1.1"/>
<text x="928" y="1085.4" font-size="16" text-anchor="end" fill="#111">0.006</text>
<line x1="932" y1="1045.2" x2="939" y2="1045.2" stroke="#333" stroke-width="1.1"/>
<text x="928" y="1050.8" font-size="16" text-anchor="end" fill="#111">0.008</text>
<line x1="932" y1="1010.6" x2="939" y2="1010.6" stroke="#333" stroke-width="1.1"/>
<text x="928" y="1016.2" font-size="16" text-anchor="end" fill="#111">0.01</text>
<line x1="932" y1="976" x2="939" y2="976" stroke="#333" stroke-width="1.1"/>
<text x="928" y="981.6" font-size="16" text-anchor="end" fill="#111">0.012</text>
<line x1="932" y1="941.4" x2="939" y2="941.4" stroke="#333" stroke-width="1.1"/>
<text x="928" y="947" font-size="16" text-anchor="end" fill="#111">0.014</text>
<line x1="932" y1="906.8" x2="939" y2="906.8" stroke="#333" stroke-width="1.1"/>
<text x="928" y="912.4" font-size="16" text-anchor="end" fill="#111">0.016</text>
<line x1="932" y1="872.2" x2="939" y2="872.2" stroke="#333" stroke-width="1.1"/>
<text x="928" y="877.8" font-size="16" text-anchor="end" fill="#111">0.018</text>
<line x1="932" y1="837.6" x2="939" y2="837.6" stroke="#333" stroke-width="1.1"/>
<text x="928" y="843.2" font-size="16" text-anchor="end" fill="#111">0.02</text>
<line x1="932" y1="803" x2="939" y2="803" stroke="#333" stroke-width="1.1"/>
<text x="928" y="808.6" font-size="16" text-anchor="end" fill="#111">0.022</text>
<line x1="932" y1="768.4" x2="939" y2="768.4" stroke="#333" stroke-width="1.1"/>
<text x="928" y="774" font-size="16" text-anchor="end" fill="#111">0.024</text>
<line x1="932" y1="733.8" x2="939" y2="733.8" stroke="#333" stroke-width="1.1"/>
<text x="928" y="739.4" font-size="16" text-anchor="end" fill="#111">0.026</text>
<line x1="932" y1="699.2" x2="939" y2="699.2" stroke="#333" stroke-width="1.1"/>
<text x="928" y="704.8" font-size="16" text-anchor="end" fill="#111">0.028</text>
<line x1="932" y1="664.6" x2="939" y2="664.6" stroke="#333" stroke-width="1.1"/>
<text x="928" y="670.2" font-size="16" text-anchor="end" fill="#111">0.03</text>
<text x="876.27" y="888.37" font-size="16.2" text-anchor="middle" font-weight="bold" fill="#111" transform="rotate(-90 876.27 888.37)">Simpson index of ASV level</text>
<line x1="987.75" y1="1114.4" x2="987.75" y2="1119.5" stroke="#333" stroke-width="1.1"/>
<text x="987.75" y="1135" font-size="13.5" text-anchor="middle" font-weight="bold" fill="#111">CON</text>
<line x1="1086.25" y1="1114.4" x2="1086.25" y2="1119.5" stroke="#333" stroke-width="1.1"/>
<text x="1086.25" y="1135" font-size="13.5" text-anchor="middle" font-weight="bold" fill="#111">E1</text>
<line x1="1185.15" y1="1114.4" x2="1185.15" y2="1119.5" stroke="#333" stroke-width="1.1"/>
<text x="1185.15" y="1135" font-size="13.5" text-anchor="middle" font-weight="bold" fill="#111">E2</text>
<line x1="1283.55" y1="1114.4" x2="1283.55" y2="1119.5" stroke="#333" stroke-width="1.1"/>
<text x="1283.55" y="1135" font-size="13.5" text-anchor="middle" font-weight="bold" fill="#111">E3</text>
<text x="989.09" y="938.02" font-size="15.5" text-anchor="middle" fill="#222" font-family='"Liberation Serif", "Times New Roman", serif'>b</text>
<text x="1087.1" y="979.84" font-size="15.5" text-anchor="middle" fill="#222" font-family='"Liberation Serif", "Times New Roman", serif'>b</text>
<text x="1185.98" y="837.84" font-size="15.5" text-anchor="middle" fill="#222" font-family='"Liberation Serif", "Times New Roman", serif'>b</text>
<text x="1282.68" y="704.11" font-size="15.5" text-anchor="middle" fill="#222" font-family='"Liberation Serif", "Times New Roman", serif'>a</text>
<rect x="1352.6" y="663.1" width="13.2" height="13.2" fill="#cd6155" stroke="#222" stroke-width="1"/>
<text x="1369.5" y="674.3" font-size="13.6" font-weight="bold" fill="#222">CON</text>
<rect x="1352.6" y="685.88" width="13.2" height="13.2" fill="#3a8fc8" stroke="#222" stroke-width="1"/>
<text x="1369.5" y="697.08" font-size="13.6" font-weight="bold" fill="#222">E1</text>
<rect x="1352.6" y="708.66" width="13.2" height="13.2" fill="#e8a252" stroke="#222" stroke-width="1"/>
<text x="1369.5" y="719.86" font-size="13.6" font-weight="bold" fill="#222">E2</text>
<rect x="1352.6" y="731.44" width="13.2" height="13.2" fill="#4e9f71" stroke="#222" stroke-width="1"/>
<text x="1369.5" y="742.64" font-size="13.6" font-weight="bold" fill="#222">E3</text>
</g>
<g id="p-f">
<text x="1467" y="647" font-size="34" font-weight="bold">(f)</text>
<rect x="1558.2" y="624.22" width="400.8" height="157.41" fill="#eeeeee"/>
<rect x="1558.2" y="624.22" width="225.43" height="39.35" fill="#be3a2b" stroke="rgba(0,0,0,0.25)" stroke-width="0.6"/>
<line x1="1783.63" y1="643.89" x2="1846.68" y2="643.89" stroke="#444" stroke-width="0.9"/>
<line x1="1846.68" y1="634.29" x2="1846.68" y2="653.5" stroke="#444" stroke-width="1"/>
<text x="1849.18" y="646.69" font-size="8.8" fill="#222">b</text>
<rect x="1558.2" y="663.57" width="337.75" height="39.35" fill="#0472b6" stroke="rgba(0,0,0,0.25)" stroke-width="0.6"/>
<line x1="1895.95" y1="683.25" x2="1947.72" y2="683.25" stroke="#777" stroke-width="0.9"/>
<line x1="1947.72" y1="673.64" x2="1947.72" y2="692.85" stroke="#777" stroke-width="1"/>
<text x="1950.22" y="686.05" font-size="8.8" fill="#222">a</text>
<rect x="1558.2" y="702.92" width="312.7" height="39.35" fill="#e08a2c" stroke="rgba(0,0,0,0.25)" stroke-width="0.6"/>
<line x1="1870.9" y1="722.6" x2="1917.66" y2="722.6" stroke="#222" stroke-width="0.9"/>
<line x1="1917.66" y1="713" x2="1917.66" y2="732.2" stroke="#222" stroke-width="1"/>
<text x="1920.16" y="725.4" font-size="8.8" fill="#222">a</text>
<rect x="1558.2" y="742.28" width="319.38" height="39.35" fill="#21884c" stroke="rgba(0,0,0,0.25)" stroke-width="0.6"/>
<line x1="1877.58" y1="761.95" x2="1924.76" y2="761.95" stroke="#222" stroke-width="0.9"/>
<line x1="1924.76" y1="752.35" x2="1924.76" y2="771.56" stroke="#222" stroke-width="1"/>
<text x="1927.26" y="764.75" font-size="8.8" fill="#222">a</text>
<text x="1550.23" y="706.72" font-size="11.5" text-anchor="end" fill="#111">Bacteroidota</text>
<rect x="1558.2" y="794.15" width="400.8" height="157.41" fill="#eeeeee"/>
<rect x="1558.2" y="794.15" width="306.85" height="39.35" fill="#be3a2b" stroke="rgba(0,0,0,0.25)" stroke-width="0.6"/>
<line x1="1865.05" y1="813.83" x2="1910.15" y2="813.83" stroke="#333" stroke-width="0.9"/>
<line x1="1910.15" y1="804.23" x2="1910.15" y2="823.43" stroke="#333" stroke-width="1"/>
<text x="1912.65" y="816.63" font-size="8.8" fill="#222">a</text>
<rect x="1558.2" y="833.51" width="204.56" height="39.35" fill="#0472b6" stroke="rgba(0,0,0,0.25)" stroke-width="0.6"/>
<line x1="1762.76" y1="853.18" x2="1807.01" y2="853.18" stroke="#333" stroke-width="0.9"/>
<line x1="1807.01" y1="843.58" x2="1807.01" y2="862.79" stroke="#333" stroke-width="1"/>
<text x="1809.51" y="855.98" font-size="8.8" fill="#222">b</text>
<rect x="1558.2" y="872.86" width="220" height="39.35" fill="#e08a2c" stroke="rgba(0,0,0,0.25)" stroke-width="0.6"/>
<line x1="1778.2" y1="892.54" x2="1816.62" y2="892.54" stroke="#333" stroke-width="0.9"/>
<line x1="1816.62" y1="882.93" x2="1816.62" y2="902.14" stroke="#333" stroke-width="1"/>
<text x="1819.12" y="895.34" font-size="8.8" fill="#222">b</text>
<rect x="1558.2" y="912.21" width="217.5" height="39.35" fill="#21884c" stroke="rgba(0,0,0,0.25)" stroke-width="0.6"/>
<line x1="1775.7" y1="931.89" x2="1822.88" y2="931.89" stroke="#333" stroke-width="0.9"/>
<line x1="1822.88" y1="922.29" x2="1822.88" y2="941.49" stroke="#333" stroke-width="1"/>
<text x="1825.38" y="934.69" font-size="8.8" fill="#222">b</text>
<text x="1550.23" y="876.66" font-size="11.5" text-anchor="end" fill="#111">Firmicutes</text>
<rect x="1558.2" y="963.26" width="400.8" height="157.83" fill="#eeeeee"/>
<rect x="1558.2" y="963.26" width="1.63" height="39.46" fill="#be3a2b" stroke="rgba(0,0,0,0.25)" stroke-width="0.6"/>
<line x1="1559.83" y1="982.99" x2="1561.5" y2="982.99" stroke="#555" stroke-width="0.9"/>
<line x1="1561.5" y1="973.38" x2="1561.5" y2="992.59" stroke="#555" stroke-width="1"/>
<text x="1564" y="985.79" font-size="8.8" fill="#222">b</text>
<rect x="1558.2" y="1002.71" width="6.23" height="39.46" fill="#0472b6" stroke="rgba(0,0,0,0.25)" stroke-width="0.6"/>
<line x1="1564.43" y1="1022.44" x2="1569.85" y2="1022.44" stroke="#333" stroke-width="0.9"/>
<line x1="1569.85" y1="1012.84" x2="1569.85" y2="1032.05" stroke="#333" stroke-width="1"/>
<text x="1572.35" y="1025.24" font-size="8.8" fill="#222">ab</text>
<rect x="1558.2" y="1042.17" width="9.98" height="39.46" fill="#e08a2c" stroke="rgba(0,0,0,0.25)" stroke-width="0.6"/>
<line x1="1568.18" y1="1061.9" x2="1573.19" y2="1061.9" stroke="#333" stroke-width="0.9"/>
<line x1="1573.19" y1="1052.3" x2="1573.19" y2="1071.5" stroke="#333" stroke-width="1"/>
<text x="1575.69" y="1064.7" font-size="8.8" fill="#222">ab</text>
<rect x="1558.2" y="1081.63" width="12.07" height="39.46" fill="#21884c" stroke="rgba(0,0,0,0.25)" stroke-width="0.6"/>
<line x1="1570.27" y1="1101.36" x2="1579.46" y2="1101.36" stroke="#333" stroke-width="0.9"/>
<line x1="1579.46" y1="1091.75" x2="1579.46" y2="1110.96" stroke="#333" stroke-width="1"/>
<text x="1581.96" y="1104.16" font-size="8.8" fill="#222">a</text>
<text x="1550.23" y="1045.97" font-size="11.5" text-anchor="end" fill="#111">Spirochaetota</text>
<line x1="1557.7" y1="1122" x2="1959.5" y2="1122" stroke="#333" stroke-width="1"/>
<line x1="1558.2" y1="1122" x2="1558.2" y2="1125.5" stroke="#333" stroke-width="1"/>
<text x="1558.2" y="1139.5" font-size="11.3" text-anchor="middle" fill="#111">0</text>
<line x1="1586.83" y1="1122" x2="1586.83" y2="1125.5" stroke="#333" stroke-width="1"/>
<text x="1586.83" y="1139.5" font-size="11.3" text-anchor="middle" fill="#111">5</text>
<line x1="1615.46" y1="1122" x2="1615.46" y2="1125.5" stroke="#333" stroke-width="1"/>
<text x="1615.46" y="1139.5" font-size="11.3" text-anchor="middle" fill="#111">10</text>
<line x1="1644.09" y1="1122" x2="1644.09" y2="1125.5" stroke="#333" stroke-width="1"/>
<text x="1644.09" y="1139.5" font-size="11.3" text-anchor="middle" fill="#111">15</text>
<line x1="1672.72" y1="1122" x2="1672.72" y2="1125.5" stroke="#333" stroke-width="1"/>
<text x="1672.72" y="1139.5" font-size="11.3" text-anchor="middle" fill="#111">20</text>
<line x1="1701.35" y1="1122" x2="1701.35" y2="1125.5" stroke="#333" stroke-width="1"/>
<text x="1701.35" y="1139.5" font-size="11.3" text-anchor="middle" fill="#111">25</text>
<line x1="1729.98" y1="1122" x2="1729.98" y2="1125.5" stroke="#333" stroke-width="1"/>
<text x="1729.98" y="1139.5" font-size="11.3" text-anchor="middle" fill="#111">30</text>
<line x1="1758.61" y1="1122" x2="1758.61" y2="1125.5" stroke="#333" stroke-width="1"/>
<text x="1758.61" y="1139.5" font-size="11.3" text-anchor="middle" fill="#111">35</text>
<line x1="1787.24" y1="1122" x2="1787.24" y2="1125.5" stroke="#333" stroke-width="1"/>
<text x="1787.24" y="1139.5" font-size="11.3" text-anchor="middle" fill="#111">40</text>
<line x1="1815.87" y1="1122" x2="1815.87" y2="1125.5" stroke="#333" stroke-width="1"/>
<text x="1815.87" y="1139.5" font-size="11.3" text-anchor="middle" fill="#111">45</text>
<line x1="1844.5" y1="1122" x2="1844.5" y2="1125.5" stroke="#333" stroke-width="1"/>
<text x="1844.5" y="1139.5" font-size="11.3" text-anchor="middle" fill="#111">50</text>
<line x1="1873.13" y1="1122" x2="1873.13" y2="1125.5" stroke="#333" stroke-width="1"/>
<text x="1873.13" y="1139.5" font-size="11.3" text-anchor="middle" fill="#111">55</text>
<line x1="1901.76" y1="1122" x2="1901.76" y2="1125.5" stroke="#333" stroke-width="1"/>
<text x="1901.76" y="1139.5" font-size="11.3" text-anchor="middle" fill="#111">60</text>
<line x1="1930.39" y1="1122" x2="1930.39" y2="1125.5" stroke="#333" stroke-width="1"/>
<text x="1930.39" y="1139.5" font-size="11.3" text-anchor="middle" fill="#111">65</text>
<line x1="1959.02" y1="1122" x2="1959.02" y2="1125.5" stroke="#333" stroke-width="1"/>
<text x="1959.02" y="1139.5" font-size="11.3" text-anchor="middle" fill="#111">70</text>
<rect x="1980.3" y="640.49" width="9.2" height="9.2" fill="#be3a2b" stroke="rgba(0,0,0,0.25)" stroke-width="0.6"/>
<text x="1992.4" y="648.39" font-size="9.6" fill="#222">CON</text>
<rect x="1980.3" y="656.99" width="9.2" height="9.2" fill="#0472b6" stroke="rgba(0,0,0,0.25)" stroke-width="0.6"/>
<text x="1992.4" y="664.89" font-size="9.6" font-weight="bold" fill="#222">E1</text>
<rect x="1980.3" y="673.48" width="9.2" height="9.2" fill="#e08a2c" stroke="rgba(0,0,0,0.25)" stroke-width="0.6"/>
<text x="1992.4" y="681.38" font-size="9.6" font-weight="bold" fill="#222">E2</text>
<rect x="1980.3" y="689.97" width="9.2" height="9.2" fill="#21884c" stroke="rgba(0,0,0,0.25)" stroke-width="0.6"/>
<text x="1992.4" y="697.87" font-size="9.6" font-weight="bold" fill="#222">E3</text>
</g>
<g id="p-g">
<text x="60" y="1196" font-size="34" font-weight="bold">(g)</text>
<path d="M561.47 1426.81L612.34 1232.88A231.5 231.5 0 1 1 422.48 1647.59L536.04 1482.35A31 31 0 1 0 561.47 1426.81Z" fill="#fdece8" stroke="#f2b8ae" stroke-width="0.5"/>
<path d="M570.6 1391.99L609.17 1244.97A219 219 0 0 1 754.28 1544.48L615 1483.62A67 67 0 0 0 570.6 1391.99Z" fill="#d3d0dd" stroke="#8d93b8" stroke-width="0.6"/>
<path d="M572.52 1521.07L615.43 1666.89A219 219 0 0 1 429.56 1637.28L515.65 1512.02A67 67 0 0 0 572.52 1521.07Z" fill="#f9d3cd" stroke="#f0a89d" stroke-width="0.5"/>
<path d="M581.83 1552.73L611.9 1654.9A206.5 206.5 0 0 1 436.64 1626.98L496.96 1539.21A100 100 0 0 0 581.83 1552.73Z" fill="#f6bcb4" stroke="#ee9a8e" stroke-width="0.5"/>
<path d="M591.43 1585.35L608.37 1642.91A194 194 0 0 1 443.72 1616.68L477.7 1567.23A134 134 0 0 0 591.43 1585.35Z" fill="#f4ada4" stroke="#ec9488" stroke-width="0.4"/>
<path d="M590.54 1585.61L607.07 1643.28A194 194 0 0 1 568.48 1650.23L563.88 1590.41A134 134 0 0 0 590.54 1585.61Z" fill="#ee8a7c" stroke="#e27a6c" stroke-width="0.4"/>
<path d="M526.08 1475.01L360.56 1584.57A231.5 231.5 0 0 1 327.33 1505.72L521.35 1463.77A33 33 0 0 0 526.08 1475.01Z" fill="#e6f4f9" stroke="#b9dfea" stroke-width="0.5"/>
<path d="M497.73 1493.78L370.98 1577.67A219 219 0 0 1 339.55 1503.08L488.11 1470.96A67 67 0 0 0 497.73 1493.78Z" fill="#d0eaf3" stroke="#a5d5e4" stroke-width="0.5"/>
<path d="M470.21 1511.99L381.4 1570.77A206.5 206.5 0 0 1 351.76 1500.44L455.86 1477.93A100 100 0 0 0 470.21 1511.99Z" fill="#a9dbe9" stroke="#8fcbdd" stroke-width="0.5"/>
<path d="M584.36 1361.59L614.43 1259.42L606.61 1257.18L577.96 1359.76Z" fill="#e8503a" fill-opacity="0.28"/>
<path d="M593.68 1329.1L610.99 1271.44L603.16 1269.19L587.28 1327.27Z" fill="#e8503a" fill-opacity="0.28"/>
<path d="M602.89 1296.99L607.4 1283.93L599.58 1281.69L596.49 1295.16Z" fill="#e8503a" fill-opacity="0.3"/>
<path d="M642.81 1356.76L689.3 1303.09L683.09 1297.82L637.73 1352.45Z" fill="#3d5b99" fill-opacity="0.28"/>
<path d="M642.68 1356.91L682.18 1311.47L675.97 1306.21L637.6 1352.6Z" fill="#3d5b99" fill-opacity="0.25"/>
<path d="M664.28 1331.44L673.77 1321.39L667.56 1316.12L659.2 1327.13Z" fill="#e8503a" fill-opacity="0.45"/>
<path d="M645.22 1416.59L741.59 1371.24L738.07 1363.9L642.34 1410.59Z" fill="#3d5b99" fill-opacity="0.28"/>
<path d="M675.7 1401.99L730.31 1376.65L726.8 1369.3L672.83 1395.98Z" fill="#3d5b99" fill-opacity="0.25"/>
<path d="M705.83 1387.56L718.59 1382.26L715.07 1374.92L702.95 1381.55Z" fill="#3d5b99" fill-opacity="0.25"/>
<path d="M653.65 1458.04L760.14 1456.54L759.97 1448.41L653.51 1451.38Z" fill="#e8503a" fill-opacity="0.28"/>
<path d="M687.44 1457.33L747.64 1456.81L747.47 1448.67L687.3 1450.67Z" fill="#e8503a" fill-opacity="0.28"/>
<path d="M720.83 1456.63L734.65 1457.08L734.48 1448.94L720.69 1449.97Z" fill="#e8503a" fill-opacity="0.3"/>
<path d="M644.2 1499.25L741.8 1541.89L745 1534.41L646.83 1493.13Z" fill="#3d5b99" fill-opacity="0.3"/>
<path d="M675.27 1512.57L730.31 1536.97L733.52 1529.48L677.89 1506.45Z" fill="#e8503a" fill-opacity="0.4"/>
<path d="M588.68 1513.51L674.61 1639.38L681.31 1634.76L594.16 1509.73Z" fill="#e8503a" fill-opacity="0.16"/>
<path d="M607.64 1541L667.51 1629.09L674.21 1624.47L613.13 1537.22Z" fill="#e8503a" fill-opacity="0.2"/>
<path d="M626.84 1568.83L660.41 1618.8L667.11 1614.18L632.32 1565.04Z" fill="#e8503a" fill-opacity="0.22"/>
<path d="M645.8 1596.32L653.03 1608.1L659.73 1603.48L651.28 1592.54Z" fill="#e8503a" fill-opacity="0.25"/>
<path d="M518.45 1585.94L503.37 1644.23L511.28 1646.17L524.92 1587.53Z" fill="#e8503a" fill-opacity="0.25"/>
<path d="M510.48 1618.38L506.47 1631.6L514.38 1633.55L516.95 1619.97Z" fill="#e8503a" fill-opacity="0.3"/>
<path d="M477.93 1567.2L444.53 1617.29L451.35 1621.72L483.52 1570.83Z" fill="#e8503a" fill-opacity="0.25"/>
<path d="M459.74 1595.21L451.61 1606.38L458.43 1610.82L465.33 1598.84Z" fill="#e8503a" fill-opacity="0.3"/>
<path d="M566.31 1623.55L566.9 1637.36L575 1636.58L572.94 1622.91Z" fill="#e8503a" fill-opacity="0.3"/>
<path d="M593.94 1619.09L596.82 1632.61L604.68 1630.49L600.37 1617.36Z" fill="#e8503a" fill-opacity="0.3"/>
<path d="M547.45 1423.9L492.53 1233.46L484.72 1235.75L541.06 1425.77Z" fill="#e8503a" fill-opacity="0.14"/>
<path d="M538.1 1391.94L496.04 1245.46L488.23 1247.74L531.71 1393.81Z" fill="#e8503a" fill-opacity="0.18"/>
<path d="M528.73 1359.88L499.55 1257.46L491.74 1259.74L522.34 1361.75Z" fill="#e8503a" fill-opacity="0.22"/>
<path d="M403.86 1382.34L346.04 1354.19L342.57 1361.55L401.01 1388.36Z" fill="#e8503a" fill-opacity="0.1"/>
<path d="M403.86 1382.34L357.35 1359.53L353.87 1366.89L401.01 1388.36Z" fill="#e8503a" fill-opacity="0.12"/>
<path d="M403.86 1382.34L368.65 1364.87L365.17 1372.23L401.01 1388.36Z" fill="#e8503a" fill-opacity="0.16"/>
<path d="M403.86 1382.34L379.95 1370.21L376.47 1377.57L401.01 1388.36Z" fill="#e8503a" fill-opacity="0.18"/>
<path d="M403.86 1382.34L391.7 1375.77L388.22 1383.13L401.01 1388.36Z" fill="#e8503a" fill-opacity="0.22"/>
<path d="M422.57 1484.11L363.8 1497.14L365.66 1505.06L424.1 1490.6Z" fill="#45b4d6" fill-opacity="0.3"/>
<path d="M390.06 1491.74L376.45 1494.17L378.31 1502.09L391.58 1498.22Z" fill="#45b4d6" fill-opacity="0.35"/>
<path d="M439.09 1526.08L387.97 1557.89L392.36 1564.75L442.67 1531.69Z" fill="#45b4d6" fill-opacity="0.3"/>
<path d="M410.95 1544.08L398.92 1550.89L403.31 1557.75L414.54 1549.69Z" fill="#159a7c" fill-opacity="0.5"/>
<line x1="579.8" y1="1477.35" x2="606.51" y2="1497.25" stroke="#222" stroke-width="0.6"/>
<line x1="613.81" y1="1428.34" x2="643.78" y2="1413.59" stroke="#222" stroke-width="0.6"/>
<path d="M613.81 1428.34A66.6 66.6 0 0 1 540.55 1522.11" fill="none" stroke="#111" stroke-width="3" stroke-linecap="round"/>
<path d="M581.16 1360.67A100 100 0 0 1 645.58 1496.03" fill="none" stroke="#111" stroke-width="3.2" stroke-linecap="round"/>
<path d="M577.75 1588.4A133.8 133.8 0 0 1 480.34 1568.76" fill="none" stroke="#111" stroke-width="3" stroke-linecap="round"/>
<path d="M441.01 1529.08A133.8 133.8 0 0 1 423.39 1487.58" fill="none" stroke="#111" stroke-width="3" stroke-linecap="round"/>
<line x1="544.25" y1="1424.84" x2="525.53" y2="1360.82" stroke="#3a1410" stroke-width="5.2"/>
<line x1="544.25" y1="1424.84" x2="525.53" y2="1360.82" stroke="#e8503a" stroke-width="4.1"/>
<line x1="523.49" y1="1442.57" x2="402.44" y2="1385.35" stroke="#3a1410" stroke-width="4.6"/>
<line x1="523.49" y1="1442.57" x2="402.44" y2="1385.35" stroke="#e8503a" stroke-width="3.5"/>
<line x1="522.92" y1="1469.76" x2="430.35" y2="1508.86" stroke="#3a1410" stroke-width="4.8"/>
<line x1="522.92" y1="1469.76" x2="430.35" y2="1508.86" stroke="#45b4d6" stroke-width="3.7"/>
<line x1="423.34" y1="1487.35" x2="390.82" y2="1494.98" stroke="#3a1410" stroke-width="4.8"/>
<line x1="423.34" y1="1487.35" x2="390.82" y2="1494.98" stroke="#45b4d6" stroke-width="3.7"/>
<line x1="440.88" y1="1528.89" x2="412.74" y2="1546.88" stroke="#3a1410" stroke-width="2.4"/>
<line x1="440.88" y1="1528.89" x2="412.74" y2="1546.88" stroke="#45b4d6" stroke-width="1.3"/>
<line x1="581.16" y1="1360.67" x2="599.69" y2="1296.08" stroke="#3a1410" stroke-width="5.2"/>
<line x1="581.16" y1="1360.67" x2="599.69" y2="1296.08" stroke="#e8503a" stroke-width="4.1"/>
<line x1="618.28" y1="1380.53" x2="640.14" y2="1354.75" stroke="#3a1410" stroke-width="5.2"/>
<line x1="618.28" y1="1380.53" x2="640.14" y2="1354.75" stroke="#3d5b99" stroke-width="4.1"/>
<line x1="640.14" y1="1354.75" x2="661.74" y2="1329.28" stroke="#3a1410" stroke-width="1.2"/>
<line x1="643.78" y1="1413.59" x2="704.39" y2="1384.56" stroke="#3a1410" stroke-width="5.2"/>
<line x1="643.78" y1="1413.59" x2="704.39" y2="1384.56" stroke="#3d5b99" stroke-width="4.1"/>
<line x1="653.58" y1="1454.71" x2="720.76" y2="1453.3" stroke="#3a1410" stroke-width="5.2"/>
<line x1="653.58" y1="1454.71" x2="720.76" y2="1453.3" stroke="#e8503a" stroke-width="4.1"/>
<line x1="645.51" y1="1496.19" x2="676.58" y2="1509.51" stroke="#3a1410" stroke-width="1.2"/>
<line x1="591.42" y1="1511.62" x2="648.54" y2="1594.43" stroke="#3a1410" stroke-width="5.2"/>
<line x1="591.42" y1="1511.62" x2="648.54" y2="1594.43" stroke="#e8503a" stroke-width="4.1"/>
<line x1="540.32" y1="1522.06" x2="526.92" y2="1587.91" stroke="#3a1410" stroke-width="5.2"/>
<line x1="540.32" y1="1522.06" x2="526.92" y2="1587.91" stroke="#e8503a" stroke-width="4.1"/>
<line x1="521.68" y1="1586.74" x2="513.72" y2="1619.17" stroke="#3a1410" stroke-width="5.2"/>
<line x1="521.68" y1="1586.74" x2="513.72" y2="1619.17" stroke="#e8503a" stroke-width="4.1"/>
<line x1="480.53" y1="1568.89" x2="462.29" y2="1596.87" stroke="#3a1410" stroke-width="4.2"/>
<line x1="480.53" y1="1568.89" x2="462.29" y2="1596.87" stroke="#e8503a" stroke-width="3.1"/>
<line x1="577.75" y1="1588.4" x2="569.63" y2="1623.23" stroke="#3a1410" stroke-width="4.8"/>
<line x1="577.75" y1="1588.4" x2="569.63" y2="1623.23" stroke="#e8503a" stroke-width="3.7"/>
<line x1="577.75" y1="1588.4" x2="597.72" y2="1618.07" stroke="#3a1410" stroke-width="4.8"/>
<line x1="577.75" y1="1588.4" x2="597.72" y2="1618.07" stroke="#e8503a" stroke-width="3.7"/>
<circle cx="544.25" cy="1424.84" r="4.2" fill="#e8503a" stroke="#2a2a2a" stroke-width="0.6"/>
<circle cx="534.91" cy="1392.88" r="3.8" fill="#e8503a" stroke="#2a2a2a" stroke-width="0.6"/>
<circle cx="525.53" cy="1360.82" r="4" fill="#e8503a" stroke="#2a2a2a" stroke-width="0.6"/>
<rect x="520.29" y="1439.37" width="6.4" height="6.4" fill="#f2ea2c" stroke="#5a5a10" stroke-width="0.5" rx="1"/>
<circle cx="493.39" cy="1428.34" r="3" fill="#f2ea2c" stroke="#2a2a2a" stroke-width="0.6"/>
<circle cx="463.19" cy="1414.06" r="3" fill="#f2ea2c" stroke="#2a2a2a" stroke-width="0.6"/>
<circle cx="432.63" cy="1399.62" r="2.8" fill="#f2ea2c" stroke="#2a2a2a" stroke-width="0.6"/>
<circle cx="402.44" cy="1385.35" r="3.4" fill="#e8503a" stroke="#2a2a2a" stroke-width="0.6"/>
<circle cx="522.88" cy="1469.65" r="5.2" fill="#f2ea2c" stroke="#2a2a2a" stroke-width="0.6"/>
<circle cx="492.29" cy="1482.82" r="4.8" fill="#f2ea2c" stroke="#2a2a2a" stroke-width="0.6"/>
<circle cx="461.55" cy="1495.87" r="4.8" fill="#f2ea2c" stroke="#2a2a2a" stroke-width="0.6"/>
<circle cx="423.39" cy="1487.58" r="5" fill="#45b4d6" stroke="#2a2a2a" stroke-width="0.6"/>
<circle cx="441.01" cy="1529.08" r="3.8" fill="#45b4d6" stroke="#2a2a2a" stroke-width="0.6"/>
<circle cx="390.82" cy="1494.98" r="4.8" fill="#45b4d6" stroke="#2a2a2a" stroke-width="0.6"/>
<circle cx="412.74" cy="1546.88" r="3.8" fill="#159a7c" stroke="#2a2a2a" stroke-width="0.6"/>
<circle cx="579.8" cy="1477.35" r="4.6" fill="#f2ea2c" stroke="#2a2a2a" stroke-width="0.6"/>
<circle cx="613.81" cy="1428.34" r="2.6" fill="#f2ea2c" stroke="#2a2a2a" stroke-width="0.6"/>
<circle cx="591.51" cy="1511.55" r="3.6" fill="#e8503a" stroke="#2a2a2a" stroke-width="0.6"/>
<circle cx="540.55" cy="1522.11" r="4.6" fill="#e8503a" stroke="#2a2a2a" stroke-width="0.6"/>
<circle cx="581.16" cy="1360.67" r="4.8" fill="#e8503a" stroke="#2a2a2a" stroke-width="0.6"/>
<circle cx="618.41" cy="1380.65" r="5" fill="#f2ea2c" stroke="#2a2a2a" stroke-width="0.6"/>
<circle cx="643.71" cy="1413.43" r="4.4" fill="#3d5b99" stroke="#2a2a2a" stroke-width="0.6"/>
<circle cx="653.58" cy="1454.71" r="3.8" fill="#e8503a" stroke="#2a2a2a" stroke-width="0.6"/>
<circle cx="645.58" cy="1496.03" r="2.8" fill="#3d5b99" stroke="#2a2a2a" stroke-width="0.6"/>
<circle cx="590.48" cy="1328.18" r="4" fill="#e8503a" stroke="#2a2a2a" stroke-width="0.6"/>
<circle cx="599.69" cy="1296.08" r="4.4" fill="#e8503a" stroke="#2a2a2a" stroke-width="0.6"/>
<circle cx="640.14" cy="1354.75" r="4.6" fill="#3d5b99" stroke="#2a2a2a" stroke-width="0.6"/>
<circle cx="661.97" cy="1329.47" r="3.8" fill="#e8503a" stroke="#2a2a2a" stroke-width="0.6"/>
<circle cx="674.37" cy="1399.2" r="4.2" fill="#3d5b99" stroke="#2a2a2a" stroke-width="0.6"/>
<circle cx="704.51" cy="1384.82" r="4.4" fill="#3d5b99" stroke="#2a2a2a" stroke-width="0.6"/>
<circle cx="687.37" cy="1454" r="4" fill="#e8503a" stroke="#2a2a2a" stroke-width="0.6"/>
<circle cx="720.76" cy="1453.3" r="4.2" fill="#e8503a" stroke="#2a2a2a" stroke-width="0.6"/>
<circle cx="676.58" cy="1509.51" r="2.8" fill="#e8503a" stroke="#2a2a2a" stroke-width="0.6"/>
<circle cx="610.38" cy="1539.11" r="3.6" fill="#e8503a" stroke="#2a2a2a" stroke-width="0.6"/>
<circle cx="629.58" cy="1566.94" r="3.6" fill="#e8503a" stroke="#2a2a2a" stroke-width="0.6"/>
<circle cx="648.3" cy="1594.59" r="4" fill="#e8503a" stroke="#2a2a2a" stroke-width="0.6"/>
<circle cx="533.32" cy="1554.72" r="4.4" fill="#e8503a" stroke="#2a2a2a" stroke-width="0.6"/>
<circle cx="480.34" cy="1568.76" r="2.4" fill="#e8503a" stroke="#2a2a2a" stroke-width="0.6"/>
<circle cx="521.91" cy="1586.79" r="4.4" fill="#e8503a" stroke="#2a2a2a" stroke-width="0.6"/>
<circle cx="577.75" cy="1588.4" r="4.4" fill="#e8503a" stroke="#2a2a2a" stroke-width="0.6"/>
<circle cx="462.29" cy="1596.87" r="2.8" fill="#e8503a" stroke="#2a2a2a" stroke-width="0.6"/>
<circle cx="513.72" cy="1619.17" r="4.4" fill="#e8503a" stroke="#2a2a2a" stroke-width="0.6"/>
<circle cx="569.63" cy="1623.23" r="4" fill="#e8503a" stroke="#2a2a2a" stroke-width="0.6"/>
<circle cx="597.72" cy="1618.07" r="4" fill="#e8503a" stroke="#2a2a2a" stroke-width="0.6"/>
<circle cx="553.6" cy="1456.8" r="1.1" fill="#c8d820" stroke="#666" stroke-width="0.4"/>
<text x="601.75" y="1290.87" font-size="6.2" text-anchor="middle" fill="#3a2020" transform="rotate(16 601.75 1288.87)">f1</text>
<text x="605.34" y="1278.37" font-size="6.2" text-anchor="middle" fill="#3a2020" transform="rotate(16 605.34 1276.37)">u</text>
<text x="608.78" y="1266.36" font-size="6.2" text-anchor="middle" fill="#3a2020" transform="rotate(16 608.78 1264.36)">i</text>
<text x="666.59" y="1325.56" font-size="6.2" text-anchor="middle" fill="#3a2020" transform="rotate(40.3 666.59 1323.56)">c1</text>
<text x="675" y="1315.65" font-size="6.2" text-anchor="middle" fill="#3a2020" transform="rotate(40.3 675 1313.65)">s</text>
<text x="711.15" y="1383.31" font-size="6.2" text-anchor="middle" fill="#3a2020" transform="rotate(64.4 711.15 1381.31)">x</text>
<text x="722.87" y="1377.7" font-size="6.2" text-anchor="middle" fill="#3a2020" transform="rotate(64.4 722.87 1375.7)">n</text>
<text x="734.15" y="1372.3" font-size="6.2" text-anchor="middle" fill="#3a2020" transform="rotate(64.4 734.15 1370.3)">f</text>
<text x="728.26" y="1455.14" font-size="6.2" text-anchor="middle" fill="#3a2020" transform="rotate(88.8 728.26 1453.14)">d1</text>
<text x="741.26" y="1454.87" font-size="6.2" text-anchor="middle" fill="#3a2020" transform="rotate(88.8 741.26 1452.87)">t</text>
<text x="753.76" y="1454.61" font-size="6.2" text-anchor="middle" fill="#3a2020" transform="rotate(88.8 753.76 1452.61)">h</text>
<text x="726.12" y="1532.74" font-size="6.2" text-anchor="middle" fill="#3a2020" transform="rotate(113.2 726.12 1530.74)">q</text>
<text x="737.61" y="1537.67" font-size="6.2" text-anchor="middle" fill="#3a2020" transform="rotate(113.2 737.61 1535.67)">k</text>
<text x="652.8" y="1602.6" font-size="6.2" text-anchor="middle" fill="#3a2020" transform="rotate(145.4 652.8 1600.6)">e1</text>
<text x="660.18" y="1613.3" font-size="6.2" text-anchor="middle" fill="#3a2020" transform="rotate(145.4 660.18 1611.3)">l</text>
<text x="667.28" y="1623.59" font-size="6.2" text-anchor="middle" fill="#3a2020" transform="rotate(145.4 667.28 1621.59)">e</text>
<text x="674.38" y="1633.88" font-size="6.2" text-anchor="middle" fill="#3a2020" transform="rotate(145.4 674.38 1631.88)">c</text>
<text x="511.93" y="1628.46" font-size="6.2" text-anchor="middle" fill="#3a2020" transform="rotate(-166.2 511.93 1626.46)">z</text>
<text x="508.83" y="1641.08" font-size="6.2" text-anchor="middle" fill="#3a2020" transform="rotate(-166.2 508.83 1639.08)">o</text>
<text x="458.45" y="1605.32" font-size="6.2" text-anchor="middle" fill="#3a2020" transform="rotate(-147 458.45 1603.32)">h1</text>
<text x="451.37" y="1616.22" font-size="6.2" text-anchor="middle" fill="#3a2020" transform="rotate(-147 451.37 1614.22)">v</text>
<text x="570.34" y="1632.7" font-size="6.2" text-anchor="middle" fill="#3a2020" transform="rotate(174.5 570.34 1630.7)">g1</text>
<text x="599.11" y="1627.47" font-size="6.2" text-anchor="middle" fill="#3a2020" transform="rotate(164.9 599.11 1625.47)">a1</text>
<text x="584.58" y="1643.93" font-size="6.2" text-anchor="middle" fill="#3a2020" transform="rotate(170.5 584.58 1641.93)">p</text>
<text x="513.69" y="1654.98" font-size="6.2" text-anchor="middle" fill="#3a2020" transform="rotate(-168.5 513.69 1652.98)">g</text>
<text x="511.19" y="1667.23" font-size="6.2" text-anchor="middle" fill="#3a2020" transform="rotate(-168.5 511.19 1665.23)">b</text>
<text x="497.41" y="1266.65" font-size="6.2" text-anchor="middle" fill="#3a2020" transform="rotate(-16.3 497.41 1264.65)">j</text>
<text x="493.9" y="1254.65" font-size="6.2" text-anchor="middle" fill="#3a2020" transform="rotate(-16.3 493.9 1252.65)">d</text>
<text x="395.66" y="1384.14" font-size="6.2" text-anchor="middle" fill="#3a2020" transform="rotate(-64.7 395.66 1382.14)">y</text>
<text x="383.52" y="1498.69" font-size="6.2" text-anchor="middle" fill="#3a2020" transform="rotate(-103.2 383.52 1496.69)">w</text>
<text x="370.86" y="1501.66" font-size="6.2" text-anchor="middle" fill="#3a2020" transform="rotate(-103.2 370.86 1499.66)">m</text>
<text x="406.42" y="1552.92" font-size="6.2" text-anchor="middle" fill="#3a2020" transform="rotate(-122.6 406.42 1550.92)">b1</text>
<text x="395.47" y="1559.93" font-size="6.2" text-anchor="middle" fill="#3a2020" transform="rotate(-122.6 395.47 1557.93)">r</text>
<text x="490.97" y="1241.21" font-size="9" text-anchor="middle" fill="#222" transform="rotate(-16.5 490.97 1241.21)">p__Patescibacteria</text>
<text x="353.17" y="1359.04" font-size="9" text-anchor="middle" fill="#222" transform="rotate(-67.5 353.17 1359.04)">p__Actinobacteriota</text>
<text x="346.49" y="1543.44" font-size="9" text-anchor="middle" fill="#222" transform="rotate(-113 346.49 1543.44)">p__Bacteroidota</text>
<text x="760.86" y="1546.92" font-size="9" text-anchor="middle" fill="#222" transform="rotate(113.5 760.86 1546.92)">p__Firmicutes</text>
<circle cx="187.4" cy="1215.8" r="4.3" fill="#e8503a" stroke="#333" stroke-width="0.5"/>
<text x="194" y="1218.2" font-size="6.8" font-weight="bold" fill="#222">CON</text>
<circle cx="187.4" cy="1228.25" r="4.3" fill="#45b4d6" stroke="#333" stroke-width="0.5"/>
<text x="194" y="1230.65" font-size="6.8" font-weight="bold" fill="#222">E1</text>
<circle cx="187.4" cy="1240.7" r="4.3" fill="#159a7c" stroke="#333" stroke-width="0.5"/>
<text x="194" y="1243.1" font-size="6.8" font-weight="bold" fill="#222">E2</text>
<circle cx="187.4" cy="1253.15" r="4.3" fill="#3d5b99" stroke="#333" stroke-width="0.5"/>
<text x="194" y="1255.55" font-size="6.8" font-weight="bold" fill="#222">E3</text>
<rect x="325.5" y="1698.5" width="9.8" height="3.6" fill="#e8503a"/>
<text x="341.4" y="1702.7" font-size="7.05" fill="#222">a : p__Patescibacteria</text>
<rect x="325.5" y="1709.61" width="9.8" height="3.6" fill="#e8503a"/>
<text x="341.4" y="1713.81" font-size="7.05" fill="#222">d : c__Saccharimonadia</text>
<rect x="325.5" y="1720.72" width="9.8" height="3.6" fill="#e8503a"/>
<text x="341.4" y="1724.92" font-size="7.05" fill="#222">g : o__Erysipelotrichales</text>
<rect x="325.5" y="1731.83" width="9.8" height="3.6" fill="#e8503a"/>
<text x="341.4" y="1736.03" font-size="7.05" fill="#222">j : o__Saccharimonadales</text>
<rect x="325.5" y="1742.94" width="9.8" height="3.6" fill="#45b4d6"/>
<text x="341.4" y="1747.14" font-size="7.05" fill="#222">m : f__Bacteroidaceae</text>
<rect x="325.5" y="1754.05" width="9.8" height="3.6" fill="#e8503a"/>
<text x="341.4" y="1758.25" font-size="7.05" fill="#222">p : f__Erysipelotrichaceae</text>
<rect x="325.5" y="1765.16" width="9.8" height="3.6" fill="#3d5b99"/>
<text x="341.4" y="1769.36" font-size="7.05" fill="#222">s : f__Oscillospiraceae</text>
<rect x="325.5" y="1776.27" width="9.8" height="3.6" fill="#e8503a"/>
<text x="341.4" y="1780.47" font-size="7.05" fill="#222">v : f__unclassified_o__Erysipelotrichales</text>
<rect x="325.5" y="1787.38" width="9.8" height="3.6" fill="#e8503a"/>
<text x="341.4" y="1791.58" font-size="7.05" fill="#222">y : g__Coriobacteriaceae_UCG-002</text>
<rect x="325.5" y="1798.49" width="9.8" height="3.6" fill="#159a7c"/>
<text x="341.4" y="1802.69" font-size="7.05" fill="#222">b1 : g__Odoribacter</text>
<rect x="325.5" y="1809.6" width="9.8" height="3.6" fill="#e8503a"/>
<text x="341.4" y="1813.8" font-size="7.05" fill="#222">e1 : g__Phascolarctobacterium</text>
<rect x="325.5" y="1820.71" width="9.8" height="3.6" fill="#e8503a"/>
<text x="341.4" y="1824.91" font-size="7.05" fill="#222">h1 : g__unclassified_o__Erysipelotrichales</text>
<rect x="475.2" y="1698.5" width="9.8" height="3.6" fill="#e8503a"/>
<text x="490.7" y="1702.7" font-size="7.05" fill="#222">b : c__Bacilli</text>
<rect x="475.2" y="1709.61" width="9.8" height="3.6" fill="#e8503a"/>
<text x="490.7" y="1713.81" font-size="7.05" fill="#222">e : o__Acidaminococcales</text>
<rect x="475.2" y="1720.72" width="9.8" height="3.6" fill="#e8503a"/>
<text x="490.7" y="1724.92" font-size="7.05" fill="#222">h : o__Peptococcales</text>
<rect x="475.2" y="1731.83" width="9.8" height="3.6" fill="#3d5b99"/>
<text x="490.7" y="1736.03" font-size="7.05" fill="#222">k : o__norank_c__Clostridia</text>
<rect x="475.2" y="1742.94" width="9.8" height="3.6" fill="#3d5b99"/>
<text x="490.7" y="1747.14" font-size="7.05" fill="#222">n : f__Christensenellaceae</text>
<rect x="475.2" y="1754.05" width="9.8" height="3.6" fill="#e8503a"/>
<text x="490.7" y="1758.25" font-size="7.05" fill="#222">q : f__Hungateiclostridiaceae</text>
<rect x="475.2" y="1765.16" width="9.8" height="3.6" fill="#e8503a"/>
<text x="490.7" y="1769.36" font-size="7.05" fill="#222">t : f__Peptococcaceae</text>
<rect x="475.2" y="1776.27" width="9.8" height="3.6" fill="#45b4d6"/>
<text x="490.7" y="1780.47" font-size="7.05" fill="#222">w : g__Bacteroides</text>
<rect x="475.2" y="1787.38" width="9.8" height="3.6" fill="#e8503a"/>
<text x="490.7" y="1791.58" font-size="7.05" fill="#222">z : g__Erysipelatoclostridium</text>
<rect x="475.2" y="1798.49" width="9.8" height="3.6" fill="#e8503a"/>
<text x="490.7" y="1802.69" font-size="7.05" fill="#222">c1 : g__Oscillibacter</text>
<rect x="475.2" y="1809.6" width="9.8" height="3.6" fill="#e8503a"/>
<text x="490.7" y="1813.8" font-size="7.05" fill="#222">f1 : g__Romboutsia</text>
<rect x="624.5" y="1698.5" width="9.8" height="3.6" fill="#e8503a"/>
<text x="640" y="1702.7" font-size="7.05" fill="#222">c : c__Negativicutes</text>
<rect x="624.5" y="1709.61" width="9.8" height="3.6" fill="#3d5b99"/>
<text x="640" y="1713.81" font-size="7.05" fill="#222">f : o__Christensenellales</text>
<rect x="624.5" y="1720.72" width="9.8" height="3.6" fill="#e8503a"/>
<text x="640" y="1724.92" font-size="7.05" fill="#222">i : o__Peptostreptococcales-Tissierellales</text>
<rect x="624.5" y="1731.83" width="9.8" height="3.6" fill="#e8503a"/>
<text x="640" y="1736.03" font-size="7.05" fill="#222">l : f__Acidaminococcaceae</text>
<rect x="624.5" y="1742.94" width="9.8" height="3.6" fill="#e8503a"/>
<text x="640" y="1747.14" font-size="7.05" fill="#222">o : f__Erysipelatoclostridiaceae</text>
<rect x="624.5" y="1754.05" width="9.8" height="3.6" fill="#45b4d6"/>
<text x="640" y="1758.25" font-size="7.05" fill="#222">r : f__Marinifilaceae</text>
<rect x="624.5" y="1765.16" width="9.8" height="3.6" fill="#e8503a"/>
<text x="640" y="1769.36" font-size="7.05" fill="#222">u : f__Peptostreptococcaceae</text>
<rect x="624.5" y="1776.27" width="9.8" height="3.6" fill="#3d5b99"/>
<text x="640" y="1780.47" font-size="7.05" fill="#222">x : g__Christensenellaceae_R-7_group</text>
<rect x="624.5" y="1787.38" width="9.8" height="3.6" fill="#e8503a"/>
<text x="640" y="1791.58" font-size="7.05" fill="#222">a1 : g__Faecalitalea</text>
<rect x="624.5" y="1798.49" width="9.8" height="3.6" fill="#e8503a"/>
<text x="640" y="1802.69" font-size="7.05" fill="#222">d1 : g__Peptococcus</text>
<rect x="624.5" y="1809.6" width="9.8" height="3.6" fill="#e8503a"/>
<text x="640" y="1813.8" font-size="7.05" fill="#222">g1 : g__Turicibacter</text>
</g>
<g id="p-h">
<text x="1050.5" y="1266.5" font-size="34" font-weight="bold">(h)</text>
<text x="1487" y="1354" font-size="19.1" text-anchor="middle" font-weight="bold" fill="#111">Wilcoxon rank-sum test bar plot on genus level</text>
<rect x="1248.7" y="1378.7" width="432.9" height="25" fill="#eeeeee"/>
<rect x="1706.9" y="1378.7" width="216.9" height="25" fill="#eeeeee"/>
<rect x="1248.7" y="1378.7" width="387.23" height="12.5" fill="#be3a2b" stroke="rgba(0,0,0,0.3)" stroke-width="0.5"/>
<rect x="1248.7" y="1391.2" width="168.18" height="12.5" fill="#0472b6" stroke="rgba(0,0,0,0.3)" stroke-width="0.5"/>
<text x="1239" y="1395.73" font-size="14.8" text-anchor="end" fill="#111">Romboutsia</text>
<rect x="1248.7" y="1408.1" width="432.9" height="25" fill="#eeeeee"/>
<rect x="1706.9" y="1408.1" width="216.9" height="25" fill="#eeeeee"/>
<rect x="1248.7" y="1408.1" width="189.18" height="12.5" fill="#be3a2b" stroke="rgba(0,0,0,0.3)" stroke-width="0.5"/>
<rect x="1248.7" y="1420.6" width="76.41" height="12.5" fill="#0472b6" stroke="rgba(0,0,0,0.3)" stroke-width="0.5"/>
<text x="1239" y="1425.13" font-size="14.8" text-anchor="end" fill="#111">Enorma</text>
<rect x="1248.7" y="1437.5" width="432.9" height="25" fill="#eeeeee"/>
<rect x="1706.9" y="1437.5" width="216.9" height="25" fill="#eeeeee"/>
<rect x="1248.7" y="1437.5" width="198.05" height="12.5" fill="#be3a2b" stroke="rgba(0,0,0,0.3)" stroke-width="0.5"/>
<rect x="1248.7" y="1450" width="3.25" height="12.5" fill="#0472b6" stroke="rgba(0,0,0,0.3)" stroke-width="0.5"/>
<text x="1239" y="1454.53" font-size="14.8" text-anchor="end" fill="#111">norank_f__norank_o__Saccharimonadales</text>
<rect x="1248.7" y="1466.9" width="432.9" height="25" fill="#eeeeee"/>
<rect x="1706.9" y="1466.9" width="216.9" height="25" fill="#eeeeee"/>
<rect x="1248.7" y="1466.9" width="119.7" height="12.5" fill="#be3a2b" stroke="rgba(0,0,0,0.3)" stroke-width="0.5"/>
<rect x="1248.7" y="1479.4" width="64.5" height="12.5" fill="#0472b6" stroke="rgba(0,0,0,0.3)" stroke-width="0.5"/>
<text x="1239" y="1483.93" font-size="14.8" text-anchor="end" fill="#111">Oscillibacter</text>
<rect x="1248.7" y="1496.3" width="432.9" height="25" fill="#eeeeee"/>
<rect x="1706.9" y="1496.3" width="216.9" height="25" fill="#eeeeee"/>
<rect x="1248.7" y="1496.3" width="82.9" height="12.5" fill="#be3a2b" stroke="rgba(0,0,0,0.3)" stroke-width="0.5"/>
<rect x="1248.7" y="1508.8" width="33.12" height="12.5" fill="#0472b6" stroke="rgba(0,0,0,0.3)" stroke-width="0.5"/>
<text x="1239" y="1513.33" font-size="14.8" text-anchor="end" fill="#111">Turicibacter</text>
<rect x="1248.7" y="1525.7" width="432.9" height="25" fill="#eeeeee"/>
<rect x="1706.9" y="1525.7" width="216.9" height="25" fill="#eeeeee"/>
<rect x="1248.7" y="1525.7" width="54.33" height="12.5" fill="#be3a2b" stroke="rgba(0,0,0,0.3)" stroke-width="0.5"/>
<rect x="1248.7" y="1538.2" width="27.71" height="12.5" fill="#0472b6" stroke="rgba(0,0,0,0.3)" stroke-width="0.5"/>
<text x="1239" y="1542.73" font-size="14.8" text-anchor="end" fill="#111">norank_f__Erysipelotrichaceae</text>
<rect x="1248.7" y="1555.1" width="432.9" height="25" fill="#eeeeee"/>
<rect x="1706.9" y="1555.1" width="216.9" height="25" fill="#eeeeee"/>
<rect x="1248.7" y="1555.1" width="49.78" height="12.5" fill="#be3a2b" stroke="rgba(0,0,0,0.3)" stroke-width="0.5"/>
<rect x="1248.7" y="1567.6" width="25.32" height="12.5" fill="#0472b6" stroke="rgba(0,0,0,0.3)" stroke-width="0.5"/>
<text x="1239" y="1572.13" font-size="14.8" text-anchor="end" fill="#111">Monoglobus</text>
<rect x="1248.7" y="1584.5" width="432.9" height="25" fill="#eeeeee"/>
<rect x="1706.9" y="1584.5" width="216.9" height="25" fill="#eeeeee"/>
<rect x="1248.7" y="1584.5" width="63.64" height="12.5" fill="#be3a2b" stroke="rgba(0,0,0,0.3)" stroke-width="0.5"/>
<rect x="1248.7" y="1597" width="11.47" height="12.5" fill="#0472b6" stroke="rgba(0,0,0,0.3)" stroke-width="0.5"/>
<text x="1239" y="1601.53" font-size="14.8" text-anchor="end" fill="#111">Candidatus_Saccharimonas</text>
<rect x="1248.7" y="1613.9" width="432.9" height="25" fill="#eeeeee"/>
<rect x="1706.9" y="1613.9" width="216.9" height="25" fill="#eeeeee"/>
<rect x="1248.7" y="1613.9" width="35.93" height="12.5" fill="#be3a2b" stroke="rgba(0,0,0,0.3)" stroke-width="0.5"/>
<rect x="1248.7" y="1626.4" width="0.6" height="12.5" fill="#0472b6" stroke="rgba(0,0,0,0.3)" stroke-width="0.5"/>
<text x="1239" y="1630.93" font-size="14.8" text-anchor="end" fill="#111">Coriobacteriaceae_UCG-002</text>
<rect x="1248.7" y="1643.3" width="432.9" height="25" fill="#eeeeee"/>
<rect x="1706.9" y="1643.3" width="216.9" height="25" fill="#eeeeee"/>
<rect x="1248.7" y="1643.3" width="18.4" height="12.5" fill="#be3a2b" stroke="rgba(0,0,0,0.3)" stroke-width="0.5"/>
<rect x="1248.7" y="1655.8" width="3.68" height="12.5" fill="#0472b6" stroke="rgba(0,0,0,0.3)" stroke-width="0.5"/>
<text x="1239" y="1660.33" font-size="14.8" text-anchor="end" fill="#111">CHKCI002</text>
<line x1="1750.28" y1="1370.7" x2="1750.28" y2="1670.3" stroke="#666" stroke-width="1.9" stroke-dasharray="2.4 3.3"/>
<line x1="1786.72" y1="1391.2" x2="1897.34" y2="1391.2" stroke="#1a1a1a" stroke-width="1.1"/>
<line x1="1786.72" y1="1389.2" x2="1786.72" y2="1393.2" stroke="#222" stroke-width="0.9"/>
<line x1="1897.34" y1="1389.2" x2="1897.34" y2="1393.2" stroke="#222" stroke-width="0.9"/>
<circle cx="1838.08" cy="1391.2" r="6.2" fill="#be3a2b" stroke="#3a2a2a" stroke-width="0.7"/>
<text x="1940.5" y="1398.95" font-size="10" text-anchor="middle" font-weight="bold" fill="#e8212b">**</text>
<text x="1961.7" y="1398.75" font-size="12.5" fill="#111">0.006794</text>
<line x1="1739.35" y1="1420.6" x2="1854.91" y2="1420.6" stroke="#1a1a1a" stroke-width="1.1"/>
<line x1="1739.35" y1="1418.6" x2="1739.35" y2="1422.6" stroke="#222" stroke-width="0.9"/>
<line x1="1854.91" y1="1418.6" x2="1854.91" y2="1422.6" stroke="#222" stroke-width="0.9"/>
<circle cx="1795.4" cy="1420.6" r="6.2" fill="#be3a2b" stroke="#3a2a2a" stroke-width="0.7"/>
<text x="1940.5" y="1428.35" font-size="10" text-anchor="middle" font-weight="bold" fill="#e8212b">*</text>
<text x="1961.7" y="1428.15" font-size="12.5" fill="#111">0.03304</text>
<line x1="1763.21" y1="1450" x2="1908.18" y2="1450" stroke="#1a1a1a" stroke-width="1.1"/>
<line x1="1763.21" y1="1448" x2="1763.21" y2="1452" stroke="#222" stroke-width="0.9"/>
<line x1="1908.18" y1="1448" x2="1908.18" y2="1452" stroke="#222" stroke-width="0.9"/>
<circle cx="1828.02" cy="1450" r="6.2" fill="#be3a2b" stroke="#3a2a2a" stroke-width="0.7"/>
<text x="1940.5" y="1457.75" font-size="10" text-anchor="middle" font-weight="bold" fill="#e8212b">*</text>
<text x="1961.7" y="1457.55" font-size="12.5" fill="#111">0.01419</text>
<line x1="1760.95" y1="1479.4" x2="1786.2" y2="1479.4" stroke="#1a1a1a" stroke-width="1.1"/>
<line x1="1760.95" y1="1477.4" x2="1760.95" y2="1481.4" stroke="#222" stroke-width="0.9"/>
<line x1="1786.2" y1="1477.4" x2="1786.2" y2="1481.4" stroke="#222" stroke-width="0.9"/>
<circle cx="1772.4" cy="1479.4" r="6.2" fill="#be3a2b" stroke="#3a2a2a" stroke-width="0.7"/>
<text x="1940.5" y="1487.15" font-size="10" text-anchor="middle" font-weight="bold" fill="#e8212b">**</text>
<text x="1961.7" y="1486.95" font-size="12.5" fill="#111">0.006794</text>
<line x1="1758.09" y1="1508.8" x2="1782.29" y2="1508.8" stroke="#1a1a1a" stroke-width="1.1"/>
<line x1="1758.09" y1="1506.8" x2="1758.09" y2="1510.8" stroke="#222" stroke-width="0.9"/>
<line x1="1782.29" y1="1506.8" x2="1782.29" y2="1510.8" stroke="#222" stroke-width="0.9"/>
<circle cx="1770.23" cy="1508.8" r="6.2" fill="#be3a2b" stroke="#3a2a2a" stroke-width="0.7"/>
<text x="1940.5" y="1516.55" font-size="10" text-anchor="middle" font-weight="bold" fill="#e8212b">**</text>
<text x="1961.7" y="1516.35" font-size="12.5" fill="#111">0.004986</text>
<line x1="1750.28" y1="1538.2" x2="1771.62" y2="1538.2" stroke="#1a1a1a" stroke-width="1.1"/>
<line x1="1750.28" y1="1536.2" x2="1750.28" y2="1540.2" stroke="#222" stroke-width="0.9"/>
<line x1="1771.62" y1="1536.2" x2="1771.62" y2="1540.2" stroke="#222" stroke-width="0.9"/>
<circle cx="1760.95" cy="1538.2" r="6.2" fill="#be3a2b" stroke="#3a2a2a" stroke-width="0.7"/>
<text x="1940.5" y="1545.95" font-size="10" text-anchor="middle" font-weight="bold" fill="#e8212b">*</text>
<text x="1961.7" y="1545.75" font-size="12.5" fill="#111">0.03274</text>
<line x1="1753.75" y1="1567.6" x2="1765.03" y2="1567.6" stroke="#1a1a1a" stroke-width="1.1"/>
<line x1="1753.75" y1="1565.6" x2="1753.75" y2="1569.6" stroke="#222" stroke-width="0.9"/>
<line x1="1765.03" y1="1565.6" x2="1765.03" y2="1569.6" stroke="#222" stroke-width="0.9"/>
<circle cx="1760.08" cy="1567.6" r="6.2" fill="#be3a2b" stroke="#3a2a2a" stroke-width="0.7"/>
<text x="1940.5" y="1575.35" font-size="10" text-anchor="middle" font-weight="bold" fill="#e8212b">*</text>
<text x="1961.7" y="1575.15" font-size="12.5" fill="#111">0.02028</text>
<line x1="1743.34" y1="1597" x2="1813.61" y2="1597" stroke="#1a1a1a" stroke-width="1.1"/>
<line x1="1743.34" y1="1595" x2="1743.34" y2="1599" stroke="#222" stroke-width="0.9"/>
<line x1="1813.61" y1="1595" x2="1813.61" y2="1599" stroke="#222" stroke-width="0.9"/>
<circle cx="1770.76" cy="1597" r="6.2" fill="#be3a2b" stroke="#3a2a2a" stroke-width="0.7"/>
<text x="1940.5" y="1604.75" font-size="10" text-anchor="middle" font-weight="bold" fill="#e8212b">*</text>
<text x="1961.7" y="1604.55" font-size="12.5" fill="#111">0.03209</text>
<line x1="1750.28" y1="1626.4" x2="1784.98" y2="1626.4" stroke="#1a1a1a" stroke-width="1.1"/>
<line x1="1750.28" y1="1624.4" x2="1750.28" y2="1628.4" stroke="#222" stroke-width="0.9"/>
<line x1="1784.98" y1="1624.4" x2="1784.98" y2="1628.4" stroke="#222" stroke-width="0.9"/>
<circle cx="1764.86" cy="1626.4" r="6.2" fill="#be3a2b" stroke="#3a2a2a" stroke-width="0.7"/>
<text x="1940.5" y="1634.15" font-size="10" text-anchor="middle" font-weight="bold" fill="#e8212b">**</text>
<text x="1961.7" y="1633.95" font-size="12.5" fill="#111">0.006388</text>
<circle cx="1755.57" cy="1655.8" r="6.2" fill="#be3a2b" stroke="#3a2a2a" stroke-width="0.7"/>
<text x="1940.5" y="1663.55" font-size="10" text-anchor="middle" font-weight="bold" fill="#e8212b">*</text>
<text x="1961.7" y="1663.35" font-size="12.5" fill="#111">0.0255</text>
<line x1="1248.1" y1="1670.3" x2="1682.2" y2="1670.3" stroke="#1a1a1a" stroke-width="1.25"/>
<line x1="1248.7" y1="1665.3" x2="1248.7" y2="1670.8" stroke="#1a1a1a" stroke-width="1.2"/>
<text x="1248.7" y="1687.1" font-size="14" text-anchor="middle" fill="#111">0</text>
<line x1="1356.92" y1="1665.3" x2="1356.92" y2="1670.8" stroke="#1a1a1a" stroke-width="1.2"/>
<text x="1356.92" y="1687.1" font-size="14" text-anchor="middle" fill="#111">0.5</text>
<line x1="1465.15" y1="1665.3" x2="1465.15" y2="1670.8" stroke="#1a1a1a" stroke-width="1.2"/>
<text x="1465.15" y="1687.1" font-size="14" text-anchor="middle" fill="#111">1</text>
<line x1="1573.38" y1="1665.3" x2="1573.38" y2="1670.8" stroke="#1a1a1a" stroke-width="1.2"/>
<text x="1573.38" y="1687.1" font-size="14" text-anchor="middle" fill="#111">1.5</text>
<line x1="1681.6" y1="1665.3" x2="1681.6" y2="1670.8" stroke="#1a1a1a" stroke-width="1.2"/>
<text x="1681.6" y="1687.1" font-size="14" text-anchor="middle" fill="#111">2</text>
<line x1="1706.3" y1="1670.3" x2="1924.4" y2="1670.3" stroke="#1a1a1a" stroke-width="1.25"/>
<line x1="1706.9" y1="1665.3" x2="1706.9" y2="1670.8" stroke="#1a1a1a" stroke-width="1.2"/>
<text x="1706.9" y="1687.1" font-size="14" text-anchor="middle" fill="#111">-0.5</text>
<line x1="1750.28" y1="1665.3" x2="1750.28" y2="1670.8" stroke="#1a1a1a" stroke-width="1.2"/>
<text x="1750.28" y="1687.1" font-size="14" text-anchor="middle" fill="#111">0</text>
<line x1="1793.66" y1="1665.3" x2="1793.66" y2="1670.8" stroke="#1a1a1a" stroke-width="1.2"/>
<text x="1793.66" y="1687.1" font-size="14" text-anchor="middle" fill="#111">0.5</text>
<line x1="1837.04" y1="1665.3" x2="1837.04" y2="1670.8" stroke="#1a1a1a" stroke-width="1.2"/>
<text x="1837.04" y="1687.1" font-size="14" text-anchor="middle" fill="#111">1</text>
<line x1="1880.42" y1="1665.3" x2="1880.42" y2="1670.8" stroke="#1a1a1a" stroke-width="1.2"/>
<text x="1880.42" y="1687.1" font-size="14" text-anchor="middle" fill="#111">1.5</text>
<line x1="1923.8" y1="1665.3" x2="1923.8" y2="1670.8" stroke="#1a1a1a" stroke-width="1.2"/>
<text x="1923.8" y="1687.1" font-size="14" text-anchor="middle" fill="#111">2</text>
<text x="1465" y="1713" font-size="14.8" text-anchor="middle" font-weight="bold" fill="#111">Proportions(%)</text>
<text x="1815.5" y="1713" font-size="14.8" text-anchor="middle" font-weight="bold" fill="#111">Difference between proportions(%)</text>
<text x="1815" y="1371.5" font-size="14.8" text-anchor="middle" fill="#111">95% confidence intervals</text>
<text x="2036.5" y="1523.5" font-size="14.7" text-anchor="middle" fill="#111" transform="rotate(90 2036.5 1523.5)">P_value</text>
<rect x="2053" y="1365" width="12.6" height="12.6" fill="#be3a2b" stroke="rgba(0,0,0,0.3)" stroke-width="0.5"/>
<text x="2068.8" y="1375.73" font-size="12.3" font-weight="bold" fill="#111">CON</text>
<rect x="2053" y="1386.2" width="12.6" height="12.6" fill="#0472b6" stroke="rgba(0,0,0,0.3)" stroke-width="0.5"/>
<text x="2068.8" y="1396.93" font-size="12.3" font-weight="bold" fill="#111">E1</text>
</g>
<g id="p-i">
<text x="96.5" y="1856" font-size="34" font-weight="bold">(i)</text>
<rect x="263.5" y="1936.8" width="401.5" height="18.8" fill="#eeeeee"/>
<rect x="686.3" y="1936.8" width="200.1" height="18.8" fill="#eeeeee"/>
<rect x="263.5" y="1936.8" width="243.31" height="9.4" fill="#be3a2b" stroke="rgba(0,0,0,0.3)" stroke-width="0.5"/>
<rect x="263.5" y="1946.2" width="369.98" height="9.4" fill="#0472b6" stroke="rgba(0,0,0,0.3)" stroke-width="0.5"/>
<text x="255.5" y="1949.79" font-size="12.2" text-anchor="end" fill="#111">Rikenellaceae_RC9_gut_group</text>
<rect x="263.5" y="1959.87" width="401.5" height="18.8" fill="#eeeeee"/>
<rect x="686.3" y="1959.87" width="200.1" height="18.8" fill="#eeeeee"/>
<rect x="263.5" y="1959.87" width="12.35" height="9.4" fill="#be3a2b" stroke="rgba(0,0,0,0.3)" stroke-width="0.5"/>
<rect x="263.5" y="1969.27" width="18.67" height="9.4" fill="#0472b6" stroke="rgba(0,0,0,0.3)" stroke-width="0.5"/>
<text x="255.5" y="1972.86" font-size="12.2" text-anchor="end" fill="#111">norank_f__F082</text>
<rect x="263.5" y="1982.93" width="401.5" height="18.8" fill="#eeeeee"/>
<rect x="686.3" y="1982.93" width="200.1" height="18.8" fill="#eeeeee"/>
<rect x="263.5" y="1982.93" width="20.68" height="9.4" fill="#be3a2b" stroke="rgba(0,0,0,0.3)" stroke-width="0.5"/>
<rect x="263.5" y="1992.33" width="5.22" height="9.4" fill="#0472b6" stroke="rgba(0,0,0,0.3)" stroke-width="0.5"/>
<text x="255.5" y="1995.92" font-size="12.2" text-anchor="end" fill="#111">Erysipelatoclostridium</text>
<rect x="263.5" y="2005.99" width="401.5" height="18.8" fill="#eeeeee"/>
<rect x="686.3" y="2005.99" width="200.1" height="18.8" fill="#eeeeee"/>
<rect x="263.5" y="2005.99" width="17.06" height="9.4" fill="#be3a2b" stroke="rgba(0,0,0,0.3)" stroke-width="0.5"/>
<rect x="263.5" y="2015.39" width="1.61" height="9.4" fill="#0472b6" stroke="rgba(0,0,0,0.3)" stroke-width="0.5"/>
<text x="255.5" y="2018.99" font-size="12.2" text-anchor="end" fill="#111">unclassified_f__Coriobacteriaceae</text>
<rect x="263.5" y="2029.06" width="401.5" height="18.8" fill="#eeeeee"/>
<rect x="686.3" y="2029.06" width="200.1" height="18.8" fill="#eeeeee"/>
<rect x="263.5" y="2029.06" width="12.05" height="9.4" fill="#be3a2b" stroke="rgba(0,0,0,0.3)" stroke-width="0.5"/>
<rect x="263.5" y="2038.46" width="2.01" height="9.4" fill="#0472b6" stroke="rgba(0,0,0,0.3)" stroke-width="0.5"/>
<text x="255.5" y="2042.05" font-size="12.2" text-anchor="end" fill="#111">Faecalitalea</text>
<rect x="263.5" y="2052.12" width="401.5" height="18.8" fill="#eeeeee"/>
<rect x="686.3" y="2052.12" width="200.1" height="18.8" fill="#eeeeee"/>
<rect x="263.5" y="2052.12" width="7.23" height="9.4" fill="#be3a2b" stroke="rgba(0,0,0,0.3)" stroke-width="0.5"/>
<rect x="263.5" y="2061.53" width="2.41" height="9.4" fill="#0472b6" stroke="rgba(0,0,0,0.3)" stroke-width="0.5"/>
<text x="255.5" y="2065.12" font-size="12.2" text-anchor="end" fill="#111">Enterorhabdus</text>
<rect x="263.5" y="2075.19" width="401.5" height="18.8" fill="#eeeeee"/>
<rect x="686.3" y="2075.19" width="200.1" height="18.8" fill="#eeeeee"/>
<rect x="263.5" y="2075.19" width="0.8" height="9.4" fill="#be3a2b" stroke="rgba(0,0,0,0.3)" stroke-width="0.5"/>
<rect x="263.5" y="2084.59" width="7.23" height="9.4" fill="#0472b6" stroke="rgba(0,0,0,0.3)" stroke-width="0.5"/>
<text x="255.5" y="2088.18" font-size="12.2" text-anchor="end" fill="#111">unclassified_f__Spirochaetaceae</text>
<rect x="263.5" y="2098.26" width="401.5" height="18.8" fill="#eeeeee"/>
<rect x="686.3" y="2098.26" width="200.1" height="18.8" fill="#eeeeee"/>
<rect x="263.5" y="2098.26" width="0.8" height="9.4" fill="#be3a2b" stroke="rgba(0,0,0,0.3)" stroke-width="0.5"/>
<rect x="263.5" y="2107.66" width="3.21" height="9.4" fill="#0472b6" stroke="rgba(0,0,0,0.3)" stroke-width="0.5"/>
<text x="255.5" y="2111.25" font-size="12.2" text-anchor="end" fill="#111">norank_f__Barnesiellaceae</text>
<rect x="263.5" y="2121.32" width="401.5" height="18.8" fill="#eeeeee"/>
<rect x="686.3" y="2121.32" width="200.1" height="18.8" fill="#eeeeee"/>
<rect x="263.5" y="2121.32" width="0.8" height="9.4" fill="#be3a2b" stroke="rgba(0,0,0,0.3)" stroke-width="0.5"/>
<rect x="263.5" y="2130.72" width="2.41" height="9.4" fill="#0472b6" stroke="rgba(0,0,0,0.3)" stroke-width="0.5"/>
<text x="255.5" y="2134.31" font-size="12.2" text-anchor="end" fill="#111">Pseudoflavonifractor</text>
<rect x="263.5" y="2144.38" width="401.5" height="18.8" fill="#eeeeee"/>
<rect x="686.3" y="2144.38" width="200.1" height="18.8" fill="#eeeeee"/>
<rect x="263.5" y="2144.38" width="0.6" height="9.4" fill="#be3a2b" stroke="rgba(0,0,0,0.3)" stroke-width="0.5"/>
<rect x="263.5" y="2153.78" width="0.6" height="9.4" fill="#0472b6" stroke="rgba(0,0,0,0.3)" stroke-width="0.5"/>
<text x="255.5" y="2157.38" font-size="12.2" text-anchor="end" fill="#111">Megamonas</text>
<rect x="263.5" y="2167.45" width="401.5" height="18.8" fill="#eeeeee"/>
<rect x="686.3" y="2167.45" width="200.1" height="18.8" fill="#eeeeee"/>
<rect x="263.5" y="2167.45" width="0.6" height="9.4" fill="#be3a2b" stroke="rgba(0,0,0,0.3)" stroke-width="0.5"/>
<rect x="263.5" y="2176.85" width="0.6" height="9.4" fill="#0472b6" stroke="rgba(0,0,0,0.3)" stroke-width="0.5"/>
<text x="255.5" y="2180.44" font-size="12.2" text-anchor="end" fill="#111">unclassified_f__Eggerthellaceae</text>
<rect x="263.5" y="2190.51" width="401.5" height="18.8" fill="#eeeeee"/>
<rect x="686.3" y="2190.51" width="200.1" height="18.8" fill="#eeeeee"/>
<rect x="263.5" y="2190.51" width="0.6" height="9.4" fill="#be3a2b" stroke="rgba(0,0,0,0.3)" stroke-width="0.5"/>
<rect x="263.5" y="2199.91" width="0.6" height="9.4" fill="#0472b6" stroke="rgba(0,0,0,0.3)" stroke-width="0.5"/>
<text x="255.5" y="2203.51" font-size="12.2" text-anchor="end" fill="#111">unclassified_o__Erysipelotrichales</text>
<line x1="836.38" y1="1930.8" x2="836.38" y2="2211.2" stroke="#666" stroke-width="1.9" stroke-dasharray="2.4 3.3"/>
<line x1="724.62" y1="1946.2" x2="821.07" y2="1946.2" stroke="#1a1a1a" stroke-width="1.1"/>
<line x1="724.62" y1="1944.2" x2="724.62" y2="1948.2" stroke="#222" stroke-width="0.9"/>
<line x1="821.07" y1="1944.2" x2="821.07" y2="1948.2" stroke="#222" stroke-width="0.9"/>
<circle cx="772.84" cy="1946.2" r="5" fill="#0472b6" stroke="#3a2a2a" stroke-width="0.7"/>
<text x="898.8" y="1952.71" font-size="8.4" text-anchor="middle" font-weight="bold" fill="#e8212b">*</text>
<text x="918" y="1951.81" font-size="10.5" fill="#111">0.03132</text>
<line x1="829.37" y1="1969.27" x2="839.68" y2="1969.27" stroke="#1a1a1a" stroke-width="1.1"/>
<line x1="829.37" y1="1967.27" x2="829.37" y2="1971.27" stroke="#222" stroke-width="0.9"/>
<line x1="839.68" y1="1967.27" x2="839.68" y2="1971.27" stroke="#222" stroke-width="0.9"/>
<circle cx="833.07" cy="1969.27" r="5" fill="#0472b6" stroke="#3a2a2a" stroke-width="0.7"/>
<text x="898.8" y="1975.78" font-size="8.4" text-anchor="middle" font-weight="bold" fill="#e8212b">*</text>
<text x="918" y="1974.88" font-size="10.5" fill="#111">0.01359</text>
<circle cx="844.28" cy="1992.33" r="5" fill="#be3a2b" stroke="#3a2a2a" stroke-width="0.7"/>
<text x="898.8" y="1998.84" font-size="8.4" text-anchor="middle" font-weight="bold" fill="#e8212b">**</text>
<text x="918" y="1997.94" font-size="10.5" fill="#111">0.003824</text>
<line x1="836.38" y1="2015.39" x2="857.99" y2="2015.39" stroke="#1a1a1a" stroke-width="1.1"/>
<line x1="836.38" y1="2013.39" x2="836.38" y2="2017.39" stroke="#222" stroke-width="0.9"/>
<line x1="857.99" y1="2013.39" x2="857.99" y2="2017.39" stroke="#222" stroke-width="0.9"/>
<circle cx="843.78" cy="2015.39" r="5" fill="#be3a2b" stroke="#3a2a2a" stroke-width="0.7"/>
<text x="898.8" y="2021.9" font-size="8.4" text-anchor="middle" font-weight="bold" fill="#e8212b">*</text>
<text x="918" y="2021.01" font-size="10.5" fill="#111">0.0312</text>
<line x1="837.38" y1="2038.46" x2="845.38" y2="2038.46" stroke="#1a1a1a" stroke-width="1.1"/>
<line x1="837.38" y1="2036.46" x2="837.38" y2="2040.46" stroke="#222" stroke-width="0.9"/>
<line x1="845.38" y1="2036.46" x2="845.38" y2="2040.46" stroke="#222" stroke-width="0.9"/>
<circle cx="841.08" cy="2038.46" r="5" fill="#be3a2b" stroke="#3a2a2a" stroke-width="0.7"/>
<text x="898.8" y="2044.97" font-size="8.4" text-anchor="middle" font-weight="bold" fill="#e8212b">*</text>
<text x="918" y="2044.07" font-size="10.5" fill="#111">0.01813</text>
<circle cx="839.08" cy="2061.53" r="5" fill="#be3a2b" stroke="#3a2a2a" stroke-width="0.7"/>
<text x="898.8" y="2068.04" font-size="8.4" text-anchor="middle" font-weight="bold" fill="#e8212b">*</text>
<text x="918" y="2067.13" font-size="10.5" fill="#111">0.01556</text>
<circle cx="833.07" cy="2084.59" r="5" fill="#0472b6" stroke="#3a2a2a" stroke-width="0.7"/>
<text x="898.8" y="2091.1" font-size="8.4" text-anchor="middle" font-weight="bold" fill="#e8212b">*</text>
<text x="918" y="2090.2" font-size="10.5" fill="#111">0.02871</text>
<line x1="833.37" y1="2107.66" x2="839.38" y2="2107.66" stroke="#1a1a1a" stroke-width="1.1"/>
<line x1="833.37" y1="2105.66" x2="833.37" y2="2109.66" stroke="#222" stroke-width="0.9"/>
<line x1="839.38" y1="2105.66" x2="839.38" y2="2109.66" stroke="#222" stroke-width="0.9"/>
<circle cx="835.27" cy="2107.66" r="5" fill="#0472b6" stroke="#3a2a2a" stroke-width="0.7"/>
<text x="898.8" y="2114.17" font-size="8.4" text-anchor="middle" font-weight="bold" fill="#e8212b">*</text>
<text x="918" y="2113.26" font-size="10.5" fill="#111">0.04409</text>
<circle cx="835.57" cy="2130.72" r="5" fill="#0472b6" stroke="#3a2a2a" stroke-width="0.7"/>
<text x="898.8" y="2137.23" font-size="8.4" text-anchor="middle" font-weight="bold" fill="#e8212b">**</text>
<text x="918" y="2136.33" font-size="10.5" fill="#111">0.003824</text>
<circle cx="836.38" cy="2153.78" r="5" fill="#be3a2b" stroke="#3a2a2a" stroke-width="0.7"/>
<text x="898.8" y="2160.3" font-size="8.4" text-anchor="middle" font-weight="bold" fill="#e8212b">*</text>
<text x="918" y="2159.39" font-size="10.5" fill="#111">0.02871</text>
<circle cx="836.38" cy="2176.85" r="5" fill="#be3a2b" stroke="#3a2a2a" stroke-width="0.7"/>
<text x="898.8" y="2183.36" font-size="8.4" text-anchor="middle" font-weight="bold" fill="#e8212b">*</text>
<text x="918" y="2182.46" font-size="10.5" fill="#111">0.04311</text>
<circle cx="836.38" cy="2199.91" r="5" fill="#be3a2b" stroke="#3a2a2a" stroke-width="0.7"/>
<text x="898.8" y="2206.43" font-size="8.4" text-anchor="middle" font-weight="bold" fill="#e8212b">*</text>
<text x="918" y="2205.52" font-size="10.5" fill="#111">0.03435</text>
<line x1="262.9" y1="2211.2" x2="665.6" y2="2211.2" stroke="#1a1a1a" stroke-width="1.25"/>
<line x1="263.5" y1="2206.2" x2="263.5" y2="2211.7" stroke="#1a1a1a" stroke-width="1.2"/>
<text x="263.5" y="2225.12" font-size="11.6" text-anchor="middle" fill="#111">0</text>
<line x1="363.88" y1="2206.2" x2="363.88" y2="2211.7" stroke="#1a1a1a" stroke-width="1.2"/>
<text x="363.88" y="2225.12" font-size="11.6" text-anchor="middle" fill="#111">5</text>
<line x1="464.25" y1="2206.2" x2="464.25" y2="2211.7" stroke="#1a1a1a" stroke-width="1.2"/>
<text x="464.25" y="2225.12" font-size="11.6" text-anchor="middle" fill="#111">10</text>
<line x1="564.62" y1="2206.2" x2="564.62" y2="2211.7" stroke="#1a1a1a" stroke-width="1.2"/>
<text x="564.62" y="2225.12" font-size="11.6" text-anchor="middle" fill="#111">15</text>
<line x1="665" y1="2206.2" x2="665" y2="2211.7" stroke="#1a1a1a" stroke-width="1.2"/>
<text x="665" y="2225.12" font-size="11.6" text-anchor="middle" fill="#111">20</text>
<line x1="685.7" y1="2211.2" x2="887" y2="2211.2" stroke="#1a1a1a" stroke-width="1.25"/>
<line x1="686.3" y1="2206.2" x2="686.3" y2="2211.7" stroke="#1a1a1a" stroke-width="1.2"/>
<text x="686.3" y="2225.12" font-size="11.6" text-anchor="middle" fill="#111">-15</text>
<line x1="736.32" y1="2206.2" x2="736.32" y2="2211.7" stroke="#1a1a1a" stroke-width="1.2"/>
<text x="736.32" y="2225.12" font-size="11.6" text-anchor="middle" fill="#111">-10</text>
<line x1="786.35" y1="2206.2" x2="786.35" y2="2211.7" stroke="#1a1a1a" stroke-width="1.2"/>
<text x="786.35" y="2225.12" font-size="11.6" text-anchor="middle" fill="#111">-5</text>
<line x1="836.38" y1="2206.2" x2="836.38" y2="2211.7" stroke="#1a1a1a" stroke-width="1.2"/>
<text x="836.38" y="2225.12" font-size="11.6" text-anchor="middle" fill="#111">0</text>
<line x1="886.4" y1="2206.2" x2="886.4" y2="2211.7" stroke="#1a1a1a" stroke-width="1.2"/>
<text x="886.4" y="2225.12" font-size="11.6" text-anchor="middle" fill="#111">5</text>
<text x="464" y="2247" font-size="12.2" text-anchor="middle" font-weight="bold" fill="#111">Proportions(%)</text>
<text x="786" y="2247" font-size="12.2" text-anchor="middle" font-weight="bold" fill="#111">Difference between proportions(%)</text>
<text x="785" y="1930" font-size="12.3" text-anchor="middle" fill="#111">95% confidence intervals</text>
<text x="981.5" y="2073" font-size="10.5" text-anchor="middle" fill="#111" transform="rotate(90 981.5 2073)">P-value</text>
<rect x="995.4" y="1893.7" width="11" height="11" fill="#be3a2b" stroke="rgba(0,0,0,0.3)" stroke-width="0.5"/>
<text x="1009.6" y="1902.66" font-size="9.6" font-weight="bold" fill="#111">CON</text>
<rect x="995.4" y="1911.1" width="11" height="11" fill="#0472b6" stroke="rgba(0,0,0,0.3)" stroke-width="0.5"/>
<text x="1009.6" y="1920.06" font-size="9.6" font-weight="bold" fill="#111">E3</text>
</g>
<g id="p-j">
<text x="1146" y="1845" font-size="34" font-weight="bold">(j)</text>
<rect x="1336.2" y="1861" width="373.6" height="19.1" fill="#eeeeee"/>
<rect x="1728.5" y="1861" width="186.4" height="19.1" fill="#eeeeee"/>
<rect x="1336.2" y="1861" width="223.79" height="9.55" fill="#be3a2b" stroke="rgba(0,0,0,0.3)" stroke-width="0.5"/>
<rect x="1336.2" y="1870.55" width="332.5" height="9.55" fill="#0472b6" stroke="rgba(0,0,0,0.3)" stroke-width="0.5"/>
<text x="1329" y="1873.73" font-size="11.05" text-anchor="end" fill="#111">Bacteroides</text>
<rect x="1336.2" y="1884" width="373.6" height="19.1" fill="#eeeeee"/>
<rect x="1728.5" y="1884" width="186.4" height="19.1" fill="#eeeeee"/>
<rect x="1336.2" y="1884" width="109.09" height="9.55" fill="#be3a2b" stroke="rgba(0,0,0,0.3)" stroke-width="0.5"/>
<rect x="1336.2" y="1893.55" width="158.59" height="9.55" fill="#0472b6" stroke="rgba(0,0,0,0.3)" stroke-width="0.5"/>
<text x="1329" y="1896.73" font-size="11.05" text-anchor="end" fill="#111">Ruminococcus_torques_group</text>
<rect x="1336.2" y="1907" width="373.6" height="19.1" fill="#eeeeee"/>
<rect x="1728.5" y="1907" width="186.4" height="19.1" fill="#eeeeee"/>
<rect x="1336.2" y="1907" width="33.44" height="9.55" fill="#be3a2b" stroke="rgba(0,0,0,0.3)" stroke-width="0.5"/>
<rect x="1336.2" y="1916.55" width="11.21" height="9.55" fill="#0472b6" stroke="rgba(0,0,0,0.3)" stroke-width="0.5"/>
<text x="1329" y="1919.73" font-size="11.05" text-anchor="end" fill="#111">Romboutsia</text>
<rect x="1336.2" y="1930" width="373.6" height="19.1" fill="#eeeeee"/>
<rect x="1728.5" y="1930" width="186.4" height="19.1" fill="#eeeeee"/>
<rect x="1336.2" y="1930" width="9.9" height="9.55" fill="#be3a2b" stroke="rgba(0,0,0,0.3)" stroke-width="0.5"/>
<rect x="1336.2" y="1939.55" width="19.43" height="9.55" fill="#0472b6" stroke="rgba(0,0,0,0.3)" stroke-width="0.5"/>
<text x="1329" y="1942.73" font-size="11.05" text-anchor="end" fill="#111">Desulfovibrio</text>
<rect x="1336.2" y="1953" width="373.6" height="19.1" fill="#eeeeee"/>
<rect x="1728.5" y="1953" width="186.4" height="19.1" fill="#eeeeee"/>
<rect x="1336.2" y="1953" width="5.98" height="9.55" fill="#be3a2b" stroke="rgba(0,0,0,0.3)" stroke-width="0.5"/>
<rect x="1336.2" y="1962.55" width="23.54" height="9.55" fill="#0472b6" stroke="rgba(0,0,0,0.3)" stroke-width="0.5"/>
<text x="1329" y="1965.73" font-size="11.05" text-anchor="end" fill="#111">Sphaerochaeta</text>
<rect x="1336.2" y="1976" width="373.6" height="19.1" fill="#eeeeee"/>
<rect x="1728.5" y="1976" width="186.4" height="19.1" fill="#eeeeee"/>
<rect x="1336.2" y="1976" width="19.43" height="9.55" fill="#be3a2b" stroke="rgba(0,0,0,0.3)" stroke-width="0.5"/>
<rect x="1336.2" y="1985.55" width="7.47" height="9.55" fill="#0472b6" stroke="rgba(0,0,0,0.3)" stroke-width="0.5"/>
<text x="1329" y="1988.73" font-size="11.05" text-anchor="end" fill="#111">Erysipelatoclostridium</text>
<rect x="1336.2" y="1999" width="373.6" height="19.1" fill="#eeeeee"/>
<rect x="1728.5" y="1999" width="186.4" height="19.1" fill="#eeeeee"/>
<rect x="1336.2" y="1999" width="20.36" height="9.55" fill="#be3a2b" stroke="rgba(0,0,0,0.3)" stroke-width="0.5"/>
<rect x="1336.2" y="2008.55" width="4.3" height="9.55" fill="#0472b6" stroke="rgba(0,0,0,0.3)" stroke-width="0.5"/>
<text x="1329" y="2011.73" font-size="11.05" text-anchor="end" fill="#111">Peptococcus</text>
<rect x="1336.2" y="2022" width="373.6" height="19.1" fill="#eeeeee"/>
<rect x="1728.5" y="2022" width="186.4" height="19.1" fill="#eeeeee"/>
<rect x="1336.2" y="2022" width="19.43" height="9.55" fill="#be3a2b" stroke="rgba(0,0,0,0.3)" stroke-width="0.5"/>
<rect x="1336.2" y="2031.55" width="5.98" height="9.55" fill="#0472b6" stroke="rgba(0,0,0,0.3)" stroke-width="0.5"/>
<text x="1329" y="2034.73" font-size="11.05" text-anchor="end" fill="#111">Sellimonas</text>
<rect x="1336.2" y="2045" width="373.6" height="19.1" fill="#eeeeee"/>
<rect x="1728.5" y="2045" width="186.4" height="19.1" fill="#eeeeee"/>
<rect x="1336.2" y="2045" width="13.08" height="9.55" fill="#be3a2b" stroke="rgba(0,0,0,0.3)" stroke-width="0.5"/>
<rect x="1336.2" y="2054.55" width="5.23" height="9.55" fill="#0472b6" stroke="rgba(0,0,0,0.3)" stroke-width="0.5"/>
<text x="1329" y="2057.73" font-size="11.05" text-anchor="end" fill="#111">Oribacterium</text>
<rect x="1336.2" y="2068" width="373.6" height="19.1" fill="#eeeeee"/>
<rect x="1728.5" y="2068" width="186.4" height="19.1" fill="#eeeeee"/>
<rect x="1336.2" y="2068" width="10.27" height="9.55" fill="#be3a2b" stroke="rgba(0,0,0,0.3)" stroke-width="0.5"/>
<rect x="1336.2" y="2077.55" width="5.98" height="9.55" fill="#0472b6" stroke="rgba(0,0,0,0.3)" stroke-width="0.5"/>
<text x="1329" y="2080.73" font-size="11.05" text-anchor="end" fill="#111">Oscillibacter</text>
<rect x="1336.2" y="2091" width="373.6" height="19.1" fill="#eeeeee"/>
<rect x="1728.5" y="2091" width="186.4" height="19.1" fill="#eeeeee"/>
<rect x="1336.2" y="2091" width="5.23" height="9.55" fill="#be3a2b" stroke="rgba(0,0,0,0.3)" stroke-width="0.5"/>
<rect x="1336.2" y="2100.55" width="10.27" height="9.55" fill="#0472b6" stroke="rgba(0,0,0,0.3)" stroke-width="0.5"/>
<text x="1329" y="2103.73" font-size="11.05" text-anchor="end" fill="#111">Odoribacter</text>
<rect x="1336.2" y="2114" width="373.6" height="19.1" fill="#eeeeee"/>
<rect x="1728.5" y="2114" width="186.4" height="19.1" fill="#eeeeee"/>
<rect x="1336.2" y="2114" width="11.21" height="9.55" fill="#be3a2b" stroke="rgba(0,0,0,0.3)" stroke-width="0.5"/>
<rect x="1336.2" y="2123.55" width="3.92" height="9.55" fill="#0472b6" stroke="rgba(0,0,0,0.3)" stroke-width="0.5"/>
<text x="1329" y="2126.73" font-size="11.05" text-anchor="end" fill="#111">Subdoligranulum</text>
<rect x="1336.2" y="2137" width="373.6" height="19.1" fill="#eeeeee"/>
<rect x="1728.5" y="2137" width="186.4" height="19.1" fill="#eeeeee"/>
<rect x="1336.2" y="2137" width="3.55" height="9.55" fill="#be3a2b" stroke="rgba(0,0,0,0.3)" stroke-width="0.5"/>
<rect x="1336.2" y="2146.55" width="10.27" height="9.55" fill="#0472b6" stroke="rgba(0,0,0,0.3)" stroke-width="0.5"/>
<text x="1329" y="2149.73" font-size="11.05" text-anchor="end" fill="#111">Alloprevotella</text>
<rect x="1336.2" y="2160" width="373.6" height="19.1" fill="#eeeeee"/>
<rect x="1728.5" y="2160" width="186.4" height="19.1" fill="#eeeeee"/>
<rect x="1336.2" y="2160" width="10.27" height="9.55" fill="#be3a2b" stroke="rgba(0,0,0,0.3)" stroke-width="0.5"/>
<rect x="1336.2" y="2169.55" width="1.59" height="9.55" fill="#0472b6" stroke="rgba(0,0,0,0.3)" stroke-width="0.5"/>
<text x="1329" y="2172.73" font-size="11.05" text-anchor="end" fill="#111">Faecalitalea</text>
<rect x="1336.2" y="2183" width="373.6" height="19.1" fill="#eeeeee"/>
<rect x="1728.5" y="2183" width="186.4" height="19.1" fill="#eeeeee"/>
<rect x="1336.2" y="2183" width="7.47" height="9.55" fill="#be3a2b" stroke="rgba(0,0,0,0.3)" stroke-width="0.5"/>
<rect x="1336.2" y="2192.55" width="1.87" height="9.55" fill="#0472b6" stroke="rgba(0,0,0,0.3)" stroke-width="0.5"/>
<text x="1329" y="2195.73" font-size="11.05" text-anchor="end" fill="#111">Turicibacter</text>
<line x1="1888.27" y1="1858" x2="1888.27" y2="2204" stroke="#666" stroke-width="1.9" stroke-dasharray="2.4 3.3"/>
<line x1="1734.89" y1="1870.55" x2="1883.21" y2="1870.55" stroke="#1a1a1a" stroke-width="1.1"/>
<line x1="1734.89" y1="1868.55" x2="1734.89" y2="1872.55" stroke="#222" stroke-width="0.9"/>
<line x1="1883.21" y1="1868.55" x2="1883.21" y2="1872.55" stroke="#222" stroke-width="0.9"/>
<circle cx="1810.25" cy="1870.55" r="4.8" fill="#0472b6" stroke="#3a2a2a" stroke-width="0.7"/>
<text x="1926.7" y="1876.38" font-size="7.52" text-anchor="middle" font-weight="bold" fill="#e8212b">*</text>
<text x="1943.6" y="1875.7" font-size="9.4" fill="#111">0.04057</text>
<line x1="1826.36" y1="1893.55" x2="1878.95" y2="1893.55" stroke="#1a1a1a" stroke-width="1.1"/>
<line x1="1826.36" y1="1891.55" x2="1826.36" y2="1895.55" stroke="#222" stroke-width="0.9"/>
<line x1="1878.95" y1="1891.55" x2="1878.95" y2="1895.55" stroke="#222" stroke-width="0.9"/>
<circle cx="1853.12" cy="1893.55" r="4.8" fill="#0472b6" stroke="#3a2a2a" stroke-width="0.7"/>
<text x="1926.7" y="1899.38" font-size="7.52" text-anchor="middle" font-weight="bold" fill="#e8212b">*</text>
<text x="1943.6" y="1898.7" font-size="9.4" fill="#111">0.03132</text>
<line x1="1895.19" y1="1916.55" x2="1913.44" y2="1916.55" stroke="#1a1a1a" stroke-width="1.1"/>
<line x1="1895.19" y1="1914.55" x2="1895.19" y2="1918.55" stroke="#222" stroke-width="0.9"/>
<line x1="1913.44" y1="1914.55" x2="1913.44" y2="1918.55" stroke="#222" stroke-width="0.9"/>
<circle cx="1904.12" cy="1916.55" r="4.8" fill="#be3a2b" stroke="#3a2a2a" stroke-width="0.7"/>
<text x="1926.7" y="1922.38" font-size="7.52" text-anchor="middle" font-weight="bold" fill="#e8212b">**</text>
<text x="1943.6" y="1921.7" font-size="9.4" fill="#111">0.005365</text>
<line x1="1875.62" y1="1939.55" x2="1886.27" y2="1939.55" stroke="#1a1a1a" stroke-width="1.1"/>
<line x1="1875.62" y1="1937.55" x2="1875.62" y2="1941.55" stroke="#222" stroke-width="0.9"/>
<line x1="1886.27" y1="1937.55" x2="1886.27" y2="1941.55" stroke="#222" stroke-width="0.9"/>
<circle cx="1881.08" cy="1939.55" r="4.8" fill="#0472b6" stroke="#3a2a2a" stroke-width="0.7"/>
<text x="1926.7" y="1945.38" font-size="7.52" text-anchor="middle" font-weight="bold" fill="#e8212b">*</text>
<text x="1943.6" y="1944.7" font-size="9.4" fill="#111">0.01359</text>
<line x1="1867.63" y1="1962.55" x2="1883.61" y2="1962.55" stroke="#1a1a1a" stroke-width="1.1"/>
<line x1="1867.63" y1="1960.55" x2="1867.63" y2="1964.55" stroke="#222" stroke-width="0.9"/>
<line x1="1883.61" y1="1960.55" x2="1883.61" y2="1964.55" stroke="#222" stroke-width="0.9"/>
<circle cx="1875.62" cy="1962.55" r="4.8" fill="#0472b6" stroke="#3a2a2a" stroke-width="0.7"/>
<text x="1926.7" y="1968.38" font-size="7.52" text-anchor="middle" font-weight="bold" fill="#e8212b">**</text>
<text x="1943.6" y="1967.7" font-size="9.4" fill="#111">0.007406</text>
<line x1="1890.4" y1="1985.55" x2="1903.18" y2="1985.55" stroke="#1a1a1a" stroke-width="1.1"/>
<line x1="1890.4" y1="1983.55" x2="1890.4" y2="1987.55" stroke="#222" stroke-width="0.9"/>
<line x1="1903.18" y1="1983.55" x2="1903.18" y2="1987.55" stroke="#222" stroke-width="0.9"/>
<circle cx="1896.53" cy="1985.55" r="4.8" fill="#be3a2b" stroke="#3a2a2a" stroke-width="0.7"/>
<text x="1926.7" y="1991.38" font-size="7.52" text-anchor="middle" font-weight="bold" fill="#e8212b">*</text>
<text x="1943.6" y="1990.7" font-size="9.4" fill="#111">0.01804</text>
<line x1="1891.73" y1="2008.55" x2="1909.17" y2="2008.55" stroke="#1a1a1a" stroke-width="1.1"/>
<line x1="1891.73" y1="2006.55" x2="1891.73" y2="2010.55" stroke="#222" stroke-width="0.9"/>
<line x1="1909.17" y1="2006.55" x2="1909.17" y2="2010.55" stroke="#222" stroke-width="0.9"/>
<circle cx="1899.32" cy="2008.55" r="4.8" fill="#be3a2b" stroke="#3a2a2a" stroke-width="0.7"/>
<text x="1926.7" y="2014.38" font-size="7.52" text-anchor="middle" font-weight="bold" fill="#e8212b">**</text>
<text x="1943.6" y="2013.7" font-size="9.4" fill="#111">0.005351</text>
<line x1="1889.87" y1="2031.55" x2="1906.51" y2="2031.55" stroke="#1a1a1a" stroke-width="1.1"/>
<line x1="1889.87" y1="2029.55" x2="1889.87" y2="2033.55" stroke="#222" stroke-width="0.9"/>
<line x1="1906.51" y1="2029.55" x2="1906.51" y2="2033.55" stroke="#222" stroke-width="0.9"/>
<circle cx="1897.33" cy="2031.55" r="4.8" fill="#be3a2b" stroke="#3a2a2a" stroke-width="0.7"/>
<text x="1926.7" y="2037.38" font-size="7.52" text-anchor="middle" font-weight="bold" fill="#e8212b">*</text>
<text x="1943.6" y="2036.7" font-size="9.4" fill="#111">0.02395</text>
<line x1="1888.27" y1="2054.55" x2="1900.25" y2="2054.55" stroke="#1a1a1a" stroke-width="1.1"/>
<line x1="1888.27" y1="2052.55" x2="1888.27" y2="2056.55" stroke="#222" stroke-width="0.9"/>
<line x1="1900.25" y1="2052.55" x2="1900.25" y2="2056.55" stroke="#222" stroke-width="0.9"/>
<circle cx="1893.33" cy="2054.55" r="4.8" fill="#be3a2b" stroke="#3a2a2a" stroke-width="0.7"/>
<text x="1926.7" y="2060.38" font-size="7.52" text-anchor="middle" font-weight="bold" fill="#e8212b">*</text>
<text x="1943.6" y="2059.7" font-size="9.4" fill="#111">0.01813</text>
<circle cx="1891.2" cy="2077.55" r="4.8" fill="#be3a2b" stroke="#3a2a2a" stroke-width="0.7"/>
<text x="1926.7" y="2083.38" font-size="7.52" text-anchor="middle" font-weight="bold" fill="#e8212b">*</text>
<text x="1943.6" y="2082.7" font-size="9.4" fill="#111">0.01564</text>
<circle cx="1884.28" cy="2100.55" r="4.8" fill="#0472b6" stroke="#3a2a2a" stroke-width="0.7"/>
<text x="1926.7" y="2106.38" font-size="7.52" text-anchor="middle" font-weight="bold" fill="#e8212b">*</text>
<text x="1943.6" y="2105.7" font-size="9.4" fill="#111">0.01352</text>
<line x1="1889.07" y1="2123.55" x2="1898.92" y2="2123.55" stroke="#1a1a1a" stroke-width="1.1"/>
<line x1="1889.07" y1="2121.55" x2="1889.07" y2="2125.55" stroke="#222" stroke-width="0.9"/>
<line x1="1898.92" y1="2121.55" x2="1898.92" y2="2125.55" stroke="#222" stroke-width="0.9"/>
<circle cx="1892.8" cy="2123.55" r="4.8" fill="#be3a2b" stroke="#3a2a2a" stroke-width="0.7"/>
<text x="1926.7" y="2129.38" font-size="7.52" text-anchor="middle" font-weight="bold" fill="#e8212b">*</text>
<text x="1943.6" y="2128.7" font-size="9.4" fill="#111">0.04042</text>
<circle cx="1883.21" cy="2146.55" r="4.8" fill="#0472b6" stroke="#3a2a2a" stroke-width="0.7"/>
<text x="1926.7" y="2152.38" font-size="7.52" text-anchor="middle" font-weight="bold" fill="#e8212b">*</text>
<text x="1943.6" y="2151.7" font-size="9.4" fill="#111">0.02395</text>
<line x1="1888.27" y1="2169.55" x2="1901.99" y2="2169.55" stroke="#1a1a1a" stroke-width="1.1"/>
<line x1="1888.27" y1="2167.55" x2="1888.27" y2="2171.55" stroke="#222" stroke-width="0.9"/>
<line x1="1901.99" y1="2167.55" x2="1901.99" y2="2171.55" stroke="#222" stroke-width="0.9"/>
<circle cx="1893.86" cy="2169.55" r="4.8" fill="#be3a2b" stroke="#3a2a2a" stroke-width="0.7"/>
<text x="1926.7" y="2175.38" font-size="7.52" text-anchor="middle" font-weight="bold" fill="#e8212b">*</text>
<text x="1943.6" y="2174.7" font-size="9.4" fill="#111">0.01345</text>
<circle cx="1891.2" cy="2192.55" r="4.8" fill="#be3a2b" stroke="#3a2a2a" stroke-width="0.7"/>
<text x="1926.7" y="2198.38" font-size="7.52" text-anchor="middle" font-weight="bold" fill="#e8212b">*</text>
<text x="1943.6" y="2197.7" font-size="9.4" fill="#111">0.01813</text>
<line x1="1335.6" y1="2204" x2="1710.4" y2="2204" stroke="#1a1a1a" stroke-width="1.25"/>
<line x1="1336.2" y1="2199.5" x2="1336.2" y2="2204.5" stroke="#1a1a1a" stroke-width="1.2"/>
<text x="1336.2" y="2216.24" font-size="10.2" text-anchor="middle" fill="#111">0</text>
<line x1="1429.6" y1="2199.5" x2="1429.6" y2="2204.5" stroke="#1a1a1a" stroke-width="1.2"/>
<text x="1429.6" y="2216.24" font-size="10.2" text-anchor="middle" fill="#111">5</text>
<line x1="1523" y1="2199.5" x2="1523" y2="2204.5" stroke="#1a1a1a" stroke-width="1.2"/>
<text x="1523" y="2216.24" font-size="10.2" text-anchor="middle" fill="#111">10</text>
<line x1="1616.4" y1="2199.5" x2="1616.4" y2="2204.5" stroke="#1a1a1a" stroke-width="1.2"/>
<text x="1616.4" y="2216.24" font-size="10.2" text-anchor="middle" fill="#111">15</text>
<line x1="1709.8" y1="2199.5" x2="1709.8" y2="2204.5" stroke="#1a1a1a" stroke-width="1.2"/>
<text x="1709.8" y="2216.24" font-size="10.2" text-anchor="middle" fill="#111">20</text>
<line x1="1727.9" y1="2204" x2="1915.5" y2="2204" stroke="#1a1a1a" stroke-width="1.25"/>
<line x1="1728.5" y1="2199.5" x2="1728.5" y2="2204.5" stroke="#1a1a1a" stroke-width="1.2"/>
<text x="1728.5" y="2216.24" font-size="10.2" text-anchor="middle" fill="#111">-12</text>
<line x1="1755.13" y1="2199.5" x2="1755.13" y2="2204.5" stroke="#1a1a1a" stroke-width="1.2"/>
<text x="1755.13" y="2216.24" font-size="10.2" text-anchor="middle" fill="#111">-10</text>
<line x1="1781.76" y1="2199.5" x2="1781.76" y2="2204.5" stroke="#1a1a1a" stroke-width="1.2"/>
<text x="1781.76" y="2216.24" font-size="10.2" text-anchor="middle" fill="#111">-8</text>
<line x1="1808.39" y1="2199.5" x2="1808.39" y2="2204.5" stroke="#1a1a1a" stroke-width="1.2"/>
<text x="1808.39" y="2216.24" font-size="10.2" text-anchor="middle" fill="#111">-6</text>
<line x1="1835.01" y1="2199.5" x2="1835.01" y2="2204.5" stroke="#1a1a1a" stroke-width="1.2"/>
<text x="1835.01" y="2216.24" font-size="10.2" text-anchor="middle" fill="#111">-4</text>
<line x1="1861.64" y1="2199.5" x2="1861.64" y2="2204.5" stroke="#1a1a1a" stroke-width="1.2"/>
<text x="1861.64" y="2216.24" font-size="10.2" text-anchor="middle" fill="#111">-2</text>
<line x1="1888.27" y1="2199.5" x2="1888.27" y2="2204.5" stroke="#1a1a1a" stroke-width="1.2"/>
<text x="1888.27" y="2216.24" font-size="10.2" text-anchor="middle" fill="#111">0</text>
<line x1="1914.9" y1="2199.5" x2="1914.9" y2="2204.5" stroke="#1a1a1a" stroke-width="1.2"/>
<text x="1914.9" y="2216.24" font-size="10.2" text-anchor="middle" fill="#111">2</text>
<text x="1522.6" y="2235.5" font-size="11.1" text-anchor="middle" font-weight="bold" fill="#111">Proportions(%)</text>
<text x="1821.6" y="2235.5" font-size="11.1" text-anchor="middle" font-weight="bold" fill="#111">Difference between proportions(%)</text>
<text x="1821.6" y="1855" font-size="11" text-anchor="middle" fill="#111">95% confidence intervals</text>
<text x="2000.5" y="2032" font-size="10" text-anchor="middle" fill="#111" transform="rotate(90 2000.5 2032)">P-value</text>
<rect x="2009.9" y="1844.3" width="10.2" height="10.2" fill="#be3a2b" stroke="rgba(0,0,0,0.3)" stroke-width="0.5"/>
<text x="2023.3" y="1852.78" font-size="9.4" font-weight="bold" fill="#111">CON</text>
<rect x="2009.9" y="1861.1" width="10.2" height="10.2" fill="#0472b6" stroke="rgba(0,0,0,0.3)" stroke-width="0.5"/>
<text x="2023.3" y="1869.58" font-size="9.4" font-weight="bold" fill="#111">E2</text>
</g>
<g id="p-k">
<text x="264.5" y="2467.5" font-size="34" font-weight="bold">(k)</text>
<text x="659.5" y="2445.5" font-size="20.8" text-anchor="middle" font-weight="bold" fill="#111">Correlation Heatmap</text>
<rect x="389.8" y="2559.8" width="83.8" height="13.11" fill="#c1c1e0"/>
<rect x="473.3" y="2559.8" width="83.8" height="13.11" fill="#4444a2"/>
<rect x="556.8" y="2559.8" width="83.8" height="13.11" fill="#e5aeb0"/>
<rect x="640.3" y="2559.8" width="83.8" height="13.11" fill="#d98a8d"/>
<rect x="389.8" y="2572.61" width="83.8" height="13.11" fill="#eeccce"/>
<rect x="473.3" y="2572.61" width="83.8" height="13.11" fill="#ffffff"/>
<rect x="556.8" y="2572.61" width="83.8" height="13.11" fill="#ebc1c3"/>
<rect x="640.3" y="2572.61" width="83.8" height="13.11" fill="#e5aeb0"/>
<rect x="389.8" y="2585.42" width="83.8" height="13.11" fill="#e9e9f4"/>
<rect x="473.3" y="2585.42" width="83.8" height="13.11" fill="#f1d4d5"/>
<rect x="556.8" y="2585.42" width="83.8" height="13.11" fill="#9191c8"/>
<rect x="640.3" y="2585.42" width="83.8" height="13.11" fill="#7878bc"/>
<rect x="389.8" y="2598.23" width="83.8" height="13.11" fill="#e9e9f4"/>
<rect x="473.3" y="2598.23" width="83.8" height="13.11" fill="#c1c1e0"/>
<rect x="556.8" y="2598.23" width="83.8" height="13.11" fill="#e5aeb0"/>
<rect x="640.3" y="2598.23" width="83.8" height="13.11" fill="#e5aeb0"/>
<rect x="389.8" y="2611.04" width="83.8" height="13.11" fill="#9191c8"/>
<rect x="473.3" y="2611.04" width="83.8" height="13.11" fill="#d68286"/>
<rect x="556.8" y="2611.04" width="83.8" height="13.11" fill="#292994"/>
<rect x="640.3" y="2611.04" width="83.8" height="13.11" fill="#292994"/>
<rect x="389.8" y="2623.85" width="83.8" height="13.11" fill="#dcdcee"/>
<rect x="473.3" y="2623.85" width="83.8" height="13.11" fill="#e5aeb0"/>
<rect x="556.8" y="2623.85" width="83.8" height="13.11" fill="#9191c8"/>
<rect x="640.3" y="2623.85" width="83.8" height="13.11" fill="#7878bc"/>
<rect x="389.8" y="2636.66" width="83.8" height="13.11" fill="#d3787b"/>
<rect x="473.3" y="2636.66" width="83.8" height="13.11" fill="#000080"/>
<rect x="556.8" y="2636.66" width="83.8" height="13.11" fill="#d98a8d"/>
<rect x="640.3" y="2636.66" width="83.8" height="13.11" fill="#c75459"/>
<rect x="389.8" y="2649.47" width="83.8" height="13.11" fill="#6060b0"/>
<rect x="473.3" y="2649.47" width="83.8" height="13.11" fill="#cd666a"/>
<rect x="556.8" y="2649.47" width="83.8" height="13.11" fill="#ffffff"/>
<rect x="640.3" y="2649.47" width="83.8" height="13.11" fill="#cdcde6"/>
<rect x="389.8" y="2662.28" width="83.8" height="13.11" fill="#7878bc"/>
<rect x="473.3" y="2662.28" width="83.8" height="13.11" fill="#cb5f63"/>
<rect x="556.8" y="2662.28" width="83.8" height="13.11" fill="#c1c1e0"/>
<rect x="640.3" y="2662.28" width="83.8" height="13.11" fill="#7878bc"/>
<rect x="389.8" y="2675.09" width="83.8" height="13.11" fill="#e0e0f0"/>
<rect x="473.3" y="2675.09" width="83.8" height="13.11" fill="#e0e0f0"/>
<rect x="556.8" y="2675.09" width="83.8" height="13.11" fill="#9c9cce"/>
<rect x="640.3" y="2675.09" width="83.8" height="13.11" fill="#9c9cce"/>
<rect x="389.8" y="2687.9" width="83.8" height="13.11" fill="#7f7fbf"/>
<rect x="473.3" y="2687.9" width="83.8" height="13.11" fill="#d98a8d"/>
<rect x="556.8" y="2687.9" width="83.8" height="13.11" fill="#6e6eb7"/>
<rect x="640.3" y="2687.9" width="83.8" height="13.11" fill="#7878bc"/>
<rect x="389.8" y="2700.71" width="83.8" height="13.11" fill="#cdcde6"/>
<rect x="473.3" y="2700.71" width="83.8" height="13.11" fill="#f8e8e9"/>
<rect x="556.8" y="2700.71" width="83.8" height="13.11" fill="#e7b6b8"/>
<rect x="640.3" y="2700.71" width="83.8" height="13.11" fill="#e7b6b8"/>
<rect x="389.8" y="2713.52" width="83.8" height="13.11" fill="#c1c1e0"/>
<rect x="473.3" y="2713.52" width="83.8" height="13.11" fill="#db9194"/>
<rect x="556.8" y="2713.52" width="83.8" height="13.11" fill="#aeaed7"/>
<rect x="640.3" y="2713.52" width="83.8" height="13.11" fill="#8a8ac5"/>
<rect x="389.8" y="2726.33" width="83.8" height="13.11" fill="#4444a2"/>
<rect x="473.3" y="2726.33" width="83.8" height="13.11" fill="#e7b6b8"/>
<rect x="556.8" y="2726.33" width="83.8" height="13.11" fill="#9191c8"/>
<rect x="640.3" y="2726.33" width="83.8" height="13.11" fill="#9c9cce"/>
<rect x="389.8" y="2739.14" width="83.8" height="13.11" fill="#f5e0e1"/>
<rect x="473.3" y="2739.14" width="83.8" height="13.11" fill="#f5e0e1"/>
<rect x="556.8" y="2739.14" width="83.8" height="13.11" fill="#eeccce"/>
<rect x="640.3" y="2739.14" width="83.8" height="13.11" fill="#f4dcdd"/>
<rect x="389.8" y="2751.95" width="83.8" height="13.11" fill="#cf6d71"/>
<rect x="473.3" y="2751.95" width="83.8" height="13.11" fill="#f5e0e1"/>
<rect x="556.8" y="2751.95" width="83.8" height="13.11" fill="#de9c9e"/>
<rect x="640.3" y="2751.95" width="83.8" height="13.11" fill="#db9194"/>
<rect x="389.8" y="2764.76" width="83.8" height="13.11" fill="#faf1f1"/>
<rect x="473.3" y="2764.76" width="83.8" height="13.11" fill="#6e6eb7"/>
<rect x="556.8" y="2764.76" width="83.8" height="13.11" fill="#c14348"/>
<rect x="640.3" y="2764.76" width="83.8" height="13.11" fill="#b8282d"/>
<rect x="389.8" y="2777.57" width="83.8" height="13.11" fill="#eeccce"/>
<rect x="473.3" y="2777.57" width="83.8" height="13.11" fill="#292994"/>
<rect x="556.8" y="2777.57" width="83.8" height="13.11" fill="#cb5f63"/>
<rect x="640.3" y="2777.57" width="83.8" height="13.11" fill="#b8282d"/>
<rect x="389.8" y="2790.38" width="83.8" height="13.11" fill="#cd666a"/>
<rect x="473.3" y="2790.38" width="83.8" height="13.11" fill="#5555aa"/>
<rect x="556.8" y="2790.38" width="83.8" height="13.11" fill="#cd666a"/>
<rect x="640.3" y="2790.38" width="83.8" height="13.11" fill="#ba2b31"/>
<rect x="389.8" y="2803.19" width="83.8" height="13.11" fill="#ebc1c3"/>
<rect x="473.3" y="2803.19" width="83.8" height="13.11" fill="#d98a8d"/>
<rect x="556.8" y="2803.19" width="83.8" height="13.11" fill="#6767b3"/>
<rect x="640.3" y="2803.19" width="83.8" height="13.11" fill="#8a8ac5"/>
<rect x="389.8" y="2816" width="83.8" height="13.11" fill="#f5f5fa"/>
<rect x="473.3" y="2816" width="83.8" height="13.11" fill="#c75459"/>
<rect x="556.8" y="2816" width="83.8" height="13.11" fill="#6767b3"/>
<rect x="640.3" y="2816" width="83.8" height="13.11" fill="#4b4ba5"/>
<rect x="389.8" y="2828.81" width="83.8" height="13.11" fill="#e7b6b8"/>
<rect x="473.3" y="2828.81" width="83.8" height="13.11" fill="#4444a2"/>
<rect x="556.8" y="2828.81" width="83.8" height="13.11" fill="#de9c9e"/>
<rect x="640.3" y="2828.81" width="83.8" height="13.11" fill="#cf6d71"/>
<rect x="389.8" y="2841.62" width="83.8" height="13.11" fill="#e0e0f0"/>
<rect x="473.3" y="2841.62" width="83.8" height="13.11" fill="#6e6eb7"/>
<rect x="556.8" y="2841.62" width="83.8" height="13.11" fill="#ededf6"/>
<rect x="640.3" y="2841.62" width="83.8" height="13.11" fill="#f4dcdd"/>
<rect x="389.8" y="2854.43" width="83.8" height="13.11" fill="#6e6eb7"/>
<rect x="473.3" y="2854.43" width="83.8" height="13.11" fill="#bf3c41"/>
<rect x="556.8" y="2854.43" width="83.8" height="13.11" fill="#4444a2"/>
<rect x="640.3" y="2854.43" width="83.8" height="13.11" fill="#1b1b8d"/>
<rect x="389.8" y="2867.24" width="83.8" height="13.11" fill="#f6e4e5"/>
<rect x="473.3" y="2867.24" width="83.8" height="13.11" fill="#e5aeb0"/>
<rect x="556.8" y="2867.24" width="83.8" height="13.11" fill="#333399"/>
<rect x="640.3" y="2867.24" width="83.8" height="13.11" fill="#3d3d9e"/>
<rect x="389.8" y="2880.05" width="83.8" height="13.11" fill="#9c9cce"/>
<rect x="473.3" y="2880.05" width="83.8" height="13.11" fill="#bf3c41"/>
<rect x="556.8" y="2880.05" width="83.8" height="13.11" fill="#c1c1e0"/>
<rect x="640.3" y="2880.05" width="83.8" height="13.11" fill="#a7a7d3"/>
<rect x="389.8" y="2892.86" width="83.8" height="13.11" fill="#cf6d71"/>
<rect x="473.3" y="2892.86" width="83.8" height="13.11" fill="#8a8ac5"/>
<rect x="556.8" y="2892.86" width="83.8" height="13.11" fill="#e7b6b8"/>
<rect x="640.3" y="2892.86" width="83.8" height="13.11" fill="#e2a7a9"/>
<text x="515.05" y="2574.54" font-size="17" text-anchor="middle" font-weight="bold" letter-spacing="0.5">*</text>
<text x="598.55" y="2625.78" font-size="17" text-anchor="middle" font-weight="bold" letter-spacing="0.5">*</text>
<text x="682.05" y="2625.78" font-size="17" text-anchor="middle" font-weight="bold" letter-spacing="0.5">*</text>
<text x="515.05" y="2651.39" font-size="17" text-anchor="middle" font-weight="bold" letter-spacing="0.5">**</text>
<text x="682.05" y="2651.39" font-size="17" text-anchor="middle" font-weight="bold" letter-spacing="0.5">*</text>
<text x="431.55" y="2741.07" font-size="17" text-anchor="middle" font-weight="bold" letter-spacing="0.5">*</text>
<text x="598.55" y="2779.49" font-size="17" text-anchor="middle" font-weight="bold" letter-spacing="0.5">*</text>
<text x="682.05" y="2779.49" font-size="17" text-anchor="middle" font-weight="bold" letter-spacing="0.5">**</text>
<text x="515.05" y="2792.31" font-size="17" text-anchor="middle" font-weight="bold" letter-spacing="0.5">*</text>
<text x="682.05" y="2792.31" font-size="17" text-anchor="middle" font-weight="bold" letter-spacing="0.5">**</text>
<text x="682.05" y="2805.12" font-size="17" text-anchor="middle" font-weight="bold" letter-spacing="0.5">*</text>
<text x="515.05" y="2830.74" font-size="17" text-anchor="middle" font-weight="bold" letter-spacing="0.5">*</text>
<text x="682.05" y="2830.74" font-size="17" text-anchor="middle" font-weight="bold" letter-spacing="0.5">*</text>
<text x="515.05" y="2843.55" font-size="17" text-anchor="middle" font-weight="bold" letter-spacing="0.5">*</text>
<text x="515.05" y="2869.16" font-size="17" text-anchor="middle" font-weight="bold" letter-spacing="0.5">*</text>
<text x="598.55" y="2869.16" font-size="17" text-anchor="middle" font-weight="bold" letter-spacing="0.5">*</text>
<text x="682.05" y="2869.16" font-size="17" text-anchor="middle" font-weight="bold" letter-spacing="0.5">**</text>
<text x="598.55" y="2881.98" font-size="17" text-anchor="middle" font-weight="bold" letter-spacing="0.5">*</text>
<text x="682.05" y="2881.98" font-size="17" text-anchor="middle" font-weight="bold" letter-spacing="0.5">*</text>
<text x="515.05" y="2894.79" font-size="17" text-anchor="middle" font-weight="bold" letter-spacing="0.5">*</text>
<text x="733.3" y="2569.83" font-size="10.35" fill="#111">Bacteroides</text>
<text x="733.3" y="2582.64" font-size="10.35" fill="#111">Christensenellaceae_R-7_group</text>
<text x="733.3" y="2595.45" font-size="10.35" fill="#111">Romboutsia</text>
<text x="733.3" y="2608.26" font-size="10.35" fill="#111">Phascolarctobacterium</text>
<text x="733.3" y="2621.07" font-size="10.35" fill="#111">Peptococcus</text>
<text x="733.3" y="2633.88" font-size="10.35" fill="#111">Erysipelatoclostridium</text>
<text x="733.3" y="2646.69" font-size="10.35" fill="#111">Odoribacter</text>
<text x="733.3" y="2659.5" font-size="10.35" fill="#111">Oscillibacter</text>
<text x="733.3" y="2672.31" font-size="10.35" fill="#111">Faecalitalea</text>
<text x="733.3" y="2685.12" font-size="10.35" fill="#111">Turicibacter</text>
<text x="733.3" y="2697.93" font-size="10.35" fill="#111">Monoglobus</text>
<text x="733.3" y="2710.74" font-size="10.35" fill="#111">Pseudoflavonifractor</text>
<text x="733.3" y="2723.55" font-size="10.35" fill="#111">Coriobacteriaceae_UCG-002</text>
<text x="733.3" y="2736.36" font-size="10.35" fill="#111">unclassified_o__Erysipelotrichales</text>
<text x="733.3" y="2749.17" font-size="10.35" fill="#111">Ruminococcus_torques_group</text>
<text x="733.3" y="2761.98" font-size="10.35" fill="#111">Desulfovibrio</text>
<text x="733.3" y="2774.79" font-size="10.35" fill="#111">Sphaerochaeta</text>
<text x="733.3" y="2787.6" font-size="10.35" fill="#111">Rikenellaceae_RC9_gut_group</text>
<text x="733.3" y="2800.41" font-size="10.35" fill="#111">norank_f__F082</text>
<text x="733.3" y="2813.22" font-size="10.35" fill="#111">unclassified_f__Coriobacteriaceae</text>
<text x="733.3" y="2826.03" font-size="10.35" fill="#111">Enterorhabdus</text>
<text x="733.3" y="2838.84" font-size="10.35" fill="#111">unclassified_f__Spirochaetaceae</text>
<text x="733.3" y="2851.65" font-size="10.35" fill="#111">norank_f__Barnesiellaceae</text>
<text x="733.3" y="2864.46" font-size="10.35" fill="#111">Sellimonas</text>
<text x="733.3" y="2877.27" font-size="10.35" fill="#111">Oribacterium</text>
<text x="733.3" y="2890.08" font-size="10.35" fill="#111">Subdoligranulum</text>
<text x="733.3" y="2902.89" font-size="10.35" fill="#111">Alloprevotella</text>
<text x="433.05" y="2918.67" font-size="13.7" text-anchor="end" fill="#111" transform="rotate(-60 433.05 2918.67)">Egg production</text>
<text x="516.55" y="2918.67" font-size="13.7" text-anchor="end" fill="#111" transform="rotate(-60 516.55 2918.67)">FCR</text>
<text x="600.05" y="2918.67" font-size="13.7" text-anchor="end" fill="#111" transform="rotate(-60 600.05 2918.67)">Haogh unit</text>
<text x="683.55" y="2918.67" font-size="13.7" text-anchor="end" fill="#111" transform="rotate(-60 683.55 2918.67)">Albumen height</text>
<line x1="368.3" y1="2579.02" x2="389.8" y2="2579.02" stroke="#111" stroke-width="1.2"/>
<line x1="368.3" y1="2591.83" x2="389.8" y2="2591.83" stroke="#111" stroke-width="1.2"/>
<line x1="368.3" y1="2578.42" x2="368.3" y2="2592.43" stroke="#111" stroke-width="1.2"/>
<line x1="367.3" y1="2566.21" x2="389.8" y2="2566.21" stroke="#111" stroke-width="1.2"/>
<line x1="367.3" y1="2585.42" x2="368.3" y2="2585.42" stroke="#111" stroke-width="1.2"/>
<line x1="367.3" y1="2565.61" x2="367.3" y2="2586.02" stroke="#111" stroke-width="1.2"/>
<line x1="380.7" y1="2630.26" x2="389.8" y2="2630.26" stroke="#111" stroke-width="1.2"/>
<line x1="380.7" y1="2643.07" x2="389.8" y2="2643.07" stroke="#111" stroke-width="1.2"/>
<line x1="380.7" y1="2629.66" x2="380.7" y2="2643.66" stroke="#111" stroke-width="1.2"/>
<line x1="374.7" y1="2617.45" x2="389.8" y2="2617.45" stroke="#111" stroke-width="1.2"/>
<line x1="374.7" y1="2636.66" x2="380.7" y2="2636.66" stroke="#111" stroke-width="1.2"/>
<line x1="374.7" y1="2616.85" x2="374.7" y2="2637.26" stroke="#111" stroke-width="1.2"/>
<line x1="365.8" y1="2604.64" x2="389.8" y2="2604.64" stroke="#111" stroke-width="1.2"/>
<line x1="365.8" y1="2627.05" x2="374.7" y2="2627.05" stroke="#111" stroke-width="1.2"/>
<line x1="365.8" y1="2604.04" x2="365.8" y2="2627.65" stroke="#111" stroke-width="1.2"/>
<line x1="358.8" y1="2575.81" x2="367.3" y2="2575.81" stroke="#111" stroke-width="1.2"/>
<line x1="358.8" y1="2615.84" x2="365.8" y2="2615.84" stroke="#111" stroke-width="1.2"/>
<line x1="358.8" y1="2575.21" x2="358.8" y2="2616.44" stroke="#111" stroke-width="1.2"/>
<line x1="372.7" y1="2655.88" x2="389.8" y2="2655.88" stroke="#111" stroke-width="1.2"/>
<line x1="372.7" y1="2668.69" x2="389.8" y2="2668.69" stroke="#111" stroke-width="1.2"/>
<line x1="372.7" y1="2655.28" x2="372.7" y2="2669.29" stroke="#111" stroke-width="1.2"/>
<line x1="377.2" y1="2694.31" x2="389.8" y2="2694.31" stroke="#111" stroke-width="1.2"/>
<line x1="377.2" y1="2707.12" x2="389.8" y2="2707.12" stroke="#111" stroke-width="1.2"/>
<line x1="377.2" y1="2693.71" x2="377.2" y2="2707.72" stroke="#111" stroke-width="1.2"/>
<line x1="371.8" y1="2681.5" x2="389.8" y2="2681.5" stroke="#111" stroke-width="1.2"/>
<line x1="371.8" y1="2700.71" x2="377.2" y2="2700.71" stroke="#111" stroke-width="1.2"/>
<line x1="371.8" y1="2680.9" x2="371.8" y2="2701.31" stroke="#111" stroke-width="1.2"/>
<line x1="371.4" y1="2719.93" x2="389.8" y2="2719.93" stroke="#111" stroke-width="1.2"/>
<line x1="371.4" y1="2732.74" x2="389.8" y2="2732.74" stroke="#111" stroke-width="1.2"/>
<line x1="371.4" y1="2719.33" x2="371.4" y2="2733.34" stroke="#111" stroke-width="1.2"/>
<line x1="362.7" y1="2691.1" x2="371.8" y2="2691.1" stroke="#111" stroke-width="1.2"/>
<line x1="362.7" y1="2726.33" x2="371.4" y2="2726.33" stroke="#111" stroke-width="1.2"/>
<line x1="362.7" y1="2690.5" x2="362.7" y2="2726.93" stroke="#111" stroke-width="1.2"/>
<line x1="353.6" y1="2662.28" x2="372.7" y2="2662.28" stroke="#111" stroke-width="0.6"/>
<line x1="353.6" y1="2708.72" x2="362.7" y2="2708.72" stroke="#111" stroke-width="0.6"/>
<line x1="353.6" y1="2661.68" x2="353.6" y2="2709.32" stroke="#111" stroke-width="0.6"/>
<line x1="352.6" y1="2595.83" x2="358.8" y2="2595.83" stroke="#111" stroke-width="1.2"/>
<line x1="352.6" y1="2685.5" x2="353.6" y2="2685.5" stroke="#111" stroke-width="1.2"/>
<line x1="352.6" y1="2595.23" x2="352.6" y2="2686.1" stroke="#111" stroke-width="1.2"/>
<line x1="372.1" y1="2745.55" x2="389.8" y2="2745.55" stroke="#111" stroke-width="1.2"/>
<line x1="372.1" y1="2758.36" x2="389.8" y2="2758.36" stroke="#111" stroke-width="1.2"/>
<line x1="372.1" y1="2744.95" x2="372.1" y2="2758.95" stroke="#111" stroke-width="1.2"/>
<line x1="370.4" y1="2783.98" x2="389.8" y2="2783.98" stroke="#111" stroke-width="1.2"/>
<line x1="370.4" y1="2796.79" x2="389.8" y2="2796.79" stroke="#111" stroke-width="1.2"/>
<line x1="370.4" y1="2783.38" x2="370.4" y2="2797.39" stroke="#111" stroke-width="1.2"/>
<line x1="367.7" y1="2771.16" x2="389.8" y2="2771.16" stroke="#111" stroke-width="1.2"/>
<line x1="367.7" y1="2790.38" x2="370.4" y2="2790.38" stroke="#111" stroke-width="1.2"/>
<line x1="367.7" y1="2770.57" x2="367.7" y2="2790.98" stroke="#111" stroke-width="1.2"/>
<line x1="361.5" y1="2751.95" x2="372.1" y2="2751.95" stroke="#111" stroke-width="0.6"/>
<line x1="361.5" y1="2780.77" x2="367.7" y2="2780.77" stroke="#111" stroke-width="0.6"/>
<line x1="361.5" y1="2751.35" x2="361.5" y2="2781.37" stroke="#111" stroke-width="0.6"/>
<line x1="362.3" y1="2809.6" x2="389.8" y2="2809.6" stroke="#111" stroke-width="1.2"/>
<line x1="362.3" y1="2822.41" x2="389.8" y2="2822.41" stroke="#111" stroke-width="1.2"/>
<line x1="362.3" y1="2809" x2="362.3" y2="2823.01" stroke="#111" stroke-width="0.6"/>
<line x1="376.4" y1="2835.22" x2="389.8" y2="2835.22" stroke="#111" stroke-width="1.2"/>
<line x1="376.4" y1="2848.03" x2="389.8" y2="2848.03" stroke="#111" stroke-width="1.2"/>
<line x1="376.4" y1="2834.62" x2="376.4" y2="2848.62" stroke="#111" stroke-width="1.2"/>
<line x1="375.3" y1="2860.84" x2="389.8" y2="2860.84" stroke="#111" stroke-width="1.2"/>
<line x1="375.3" y1="2873.65" x2="389.8" y2="2873.65" stroke="#111" stroke-width="1.2"/>
<line x1="375.3" y1="2860.24" x2="375.3" y2="2874.25" stroke="#111" stroke-width="1.2"/>
<line x1="370.4" y1="2841.62" x2="376.4" y2="2841.62" stroke="#111" stroke-width="1.2"/>
<line x1="370.4" y1="2867.24" x2="375.3" y2="2867.24" stroke="#111" stroke-width="1.2"/>
<line x1="370.4" y1="2841.02" x2="370.4" y2="2867.84" stroke="#111" stroke-width="1.2"/>
<line x1="361.5" y1="2886.46" x2="389.8" y2="2886.46" stroke="#111" stroke-width="1.2"/>
<line x1="361.5" y1="2899.27" x2="389.8" y2="2899.27" stroke="#111" stroke-width="1.2"/>
<line x1="361.5" y1="2885.86" x2="361.5" y2="2899.87" stroke="#111" stroke-width="1.2"/>
<line x1="353.2" y1="2854.43" x2="370.4" y2="2854.43" stroke="#111" stroke-width="1.2"/>
<line x1="353.2" y1="2892.86" x2="361.5" y2="2892.86" stroke="#111" stroke-width="1.2"/>
<line x1="353.2" y1="2853.83" x2="353.2" y2="2893.46" stroke="#111" stroke-width="1.2"/>
<line x1="348.1" y1="2816" x2="362.3" y2="2816" stroke="#111" stroke-width="1.2"/>
<line x1="348.1" y1="2873.65" x2="353.2" y2="2873.65" stroke="#111" stroke-width="1.2"/>
<line x1="348.1" y1="2815.4" x2="348.1" y2="2874.25" stroke="#111" stroke-width="1.2"/>
<line x1="339.2" y1="2766.36" x2="361.5" y2="2766.36" stroke="#111" stroke-width="1.2"/>
<line x1="339.2" y1="2844.82" x2="348.1" y2="2844.82" stroke="#111" stroke-width="1.2"/>
<line x1="339.2" y1="2765.76" x2="339.2" y2="2845.42" stroke="#111" stroke-width="1.2"/>
<line x1="300.9" y1="2640.66" x2="352.6" y2="2640.66" stroke="#111" stroke-width="1.2"/>
<line x1="300.9" y1="2805.59" x2="339.2" y2="2805.59" stroke="#111" stroke-width="1.2"/>
<line x1="300.9" y1="2640.06" x2="300.9" y2="2806.19" stroke="#111" stroke-width="1.2"/>
<line x1="598.55" y1="2546.4" x2="598.55" y2="2559.8" stroke="#111" stroke-width="1.1"/>
<line x1="682.05" y1="2546.4" x2="682.05" y2="2559.8" stroke="#111" stroke-width="1.1"/>
<line x1="598" y1="2546.4" x2="682.6" y2="2546.4" stroke="#111" stroke-width="1.1"/>
<line x1="515.05" y1="2519.5" x2="515.05" y2="2559.8" stroke="#111" stroke-width="1.1"/>
<line x1="640.3" y1="2519.5" x2="640.3" y2="2546.4" stroke="#111" stroke-width="1.1"/>
<line x1="514.5" y1="2519.5" x2="640.85" y2="2519.5" stroke="#111" stroke-width="1.1"/>
<line x1="431.55" y1="2468.2" x2="431.55" y2="2559.8" stroke="#111" stroke-width="1.1"/>
<line x1="577.67" y1="2468.2" x2="577.67" y2="2519.5" stroke="#111" stroke-width="1.1"/>
<line x1="431" y1="2468.2" x2="578.22" y2="2468.2" stroke="#111" stroke-width="1.1"/>
<defs><linearGradient id="gk" x1="0" y1="0" x2="0" y2="1"><stop offset="0" stop-color="#b41a20"/><stop offset="0.04" stop-color="#ba2c31"/><stop offset="0.08" stop-color="#c03d42"/><stop offset="0.12" stop-color="#c54f54"/><stop offset="0.17" stop-color="#cb6165"/><stop offset="0.21" stop-color="#d17477"/><stop offset="0.25" stop-color="#d78689"/><stop offset="0.29" stop-color="#dd999b"/><stop offset="0.33" stop-color="#e4acae"/><stop offset="0.38" stop-color="#eabfc1"/><stop offset="0.42" stop-color="#f1d3d4"/><stop offset="0.46" stop-color="#f7e8e8"/><stop offset="0.5" stop-color="#ffffff"/><stop offset="0.54" stop-color="#e5e5f2"/><stop offset="0.58" stop-color="#cecee7"/><stop offset="0.62" stop-color="#b8b8dc"/><stop offset="0.67" stop-color="#a2a2d1"/><stop offset="0.71" stop-color="#8d8dc6"/><stop offset="0.75" stop-color="#7878bc"/><stop offset="0.79" stop-color="#6464b2"/><stop offset="0.83" stop-color="#4f4fa8"/><stop offset="0.88" stop-color="#3b3b9e"/><stop offset="0.92" stop-color="#272794"/><stop offset="0.96" stop-color="#14148a"/><stop offset="1" stop-color="#000080"/></linearGradient></defs>
<rect x="929" y="2491" width="23" height="115.7" fill="url(#gk)"/>
<line x1="952" y1="2491.45" x2="955.5" y2="2491.45" stroke="#222" stroke-width="0.9"/>
<text x="958.5" y="2495.33" font-size="10.8" fill="#111">0.6</text>
<line x1="952" y1="2509.27" x2="955.5" y2="2509.27" stroke="#222" stroke-width="0.9"/>
<text x="958.5" y="2513.16" font-size="10.8" fill="#111">0.4</text>
<line x1="952" y1="2527.1" x2="955.5" y2="2527.1" stroke="#222" stroke-width="0.9"/>
<text x="958.5" y="2530.99" font-size="10.8" fill="#111">0.2</text>
<line x1="952" y1="2544.93" x2="955.5" y2="2544.93" stroke="#222" stroke-width="0.9"/>
<text x="958.5" y="2548.82" font-size="10.8" fill="#111">0</text>
<line x1="952" y1="2562.76" x2="955.5" y2="2562.76" stroke="#222" stroke-width="0.9"/>
<text x="958.5" y="2566.64" font-size="10.8" fill="#111">-0.2</text>
<line x1="952" y1="2580.58" x2="955.5" y2="2580.58" stroke="#222" stroke-width="0.9"/>
<text x="958.5" y="2584.47" font-size="10.8" fill="#111">-0.4</text>
<line x1="952" y1="2598.41" x2="955.5" y2="2598.41" stroke="#222" stroke-width="0.9"/>
<text x="958.5" y="2602.3" font-size="10.8" fill="#111">-0.6</text>
</g>
<g id="p-l">
<text x="1022.5" y="2465.5" font-size="34" font-weight="bold">(l)</text>
<text x="1450" y="2445.5" font-size="20.7" text-anchor="middle" font-weight="bold" fill="#111">Correlation Heatmap</text>
<rect x="1178.1" y="2551.9" width="36.12" height="11.99" fill="#c8c8e4"/>
<rect x="1213.92" y="2551.9" width="36.12" height="11.99" fill="#9898cb"/>
<rect x="1249.74" y="2551.9" width="36.12" height="11.99" fill="#f4ddde"/>
<rect x="1285.56" y="2551.9" width="36.12" height="11.99" fill="#f9edee"/>
<rect x="1321.38" y="2551.9" width="36.12" height="11.99" fill="#efcecf"/>
<rect x="1357.2" y="2551.9" width="36.12" height="11.99" fill="#d9d9ec"/>
<rect x="1393.02" y="2551.9" width="36.12" height="11.99" fill="#c8c8e4"/>
<rect x="1428.84" y="2551.9" width="36.12" height="11.99" fill="#efcecf"/>
<rect x="1464.66" y="2551.9" width="36.12" height="11.99" fill="#a8a8d3"/>
<rect x="1178.1" y="2563.59" width="36.12" height="11.99" fill="#ecc5c6"/>
<rect x="1213.92" y="2563.59" width="36.12" height="11.99" fill="#d2d2e9"/>
<rect x="1249.74" y="2563.59" width="36.12" height="11.99" fill="#efcecf"/>
<rect x="1285.56" y="2563.59" width="36.12" height="11.99" fill="#e1a2a5"/>
<rect x="1321.38" y="2563.59" width="36.12" height="11.99" fill="#ffffff"/>
<rect x="1357.2" y="2563.59" width="36.12" height="11.99" fill="#efcecf"/>
<rect x="1393.02" y="2563.59" width="36.12" height="11.99" fill="#f2d7d8"/>
<rect x="1428.84" y="2563.59" width="36.12" height="11.99" fill="#9e9ecf"/>
<rect x="1464.66" y="2563.59" width="36.12" height="11.99" fill="#e1a2a5"/>
<rect x="1178.1" y="2575.28" width="36.12" height="11.99" fill="#9e9ecf"/>
<rect x="1213.92" y="2575.28" width="36.12" height="11.99" fill="#dc9497"/>
<rect x="1249.74" y="2575.28" width="36.12" height="11.99" fill="#9e9ecf"/>
<rect x="1285.56" y="2575.28" width="36.12" height="11.99" fill="#8888c4"/>
<rect x="1321.38" y="2575.28" width="36.12" height="11.99" fill="#e1a2a5"/>
<rect x="1357.2" y="2575.28" width="36.12" height="11.99" fill="#7e7ebf"/>
<rect x="1393.02" y="2575.28" width="36.12" height="11.99" fill="#d9d9ec"/>
<rect x="1428.84" y="2575.28" width="36.12" height="11.99" fill="#e2a8aa"/>
<rect x="1464.66" y="2575.28" width="36.12" height="11.99" fill="#a8a8d3"/>
<rect x="1178.1" y="2586.97" width="36.12" height="11.99" fill="#f4ddde"/>
<rect x="1213.92" y="2586.97" width="36.12" height="11.99" fill="#fbf4f4"/>
<rect x="1249.74" y="2586.97" width="36.12" height="11.99" fill="#ecc5c6"/>
<rect x="1285.56" y="2586.97" width="36.12" height="11.99" fill="#f9edee"/>
<rect x="1321.38" y="2586.97" width="36.12" height="11.99" fill="#a8a8d3"/>
<rect x="1357.2" y="2586.97" width="36.12" height="11.99" fill="#efcecf"/>
<rect x="1393.02" y="2586.97" width="36.12" height="11.99" fill="#f9edee"/>
<rect x="1428.84" y="2586.97" width="36.12" height="11.99" fill="#f9edee"/>
<rect x="1464.66" y="2586.97" width="36.12" height="11.99" fill="#ebebf5"/>
<rect x="1178.1" y="2598.66" width="36.12" height="11.99" fill="#bebedf"/>
<rect x="1213.92" y="2598.66" width="36.12" height="11.99" fill="#f4ddde"/>
<rect x="1249.74" y="2598.66" width="36.12" height="11.99" fill="#5a5aad"/>
<rect x="1285.56" y="2598.66" width="36.12" height="11.99" fill="#8888c4"/>
<rect x="1321.38" y="2598.66" width="36.12" height="11.99" fill="#e5b0b3"/>
<rect x="1357.2" y="2598.66" width="36.12" height="11.99" fill="#8888c4"/>
<rect x="1393.02" y="2598.66" width="36.12" height="11.99" fill="#d2d2e9"/>
<rect x="1428.84" y="2598.66" width="36.12" height="11.99" fill="#dc9497"/>
<rect x="1464.66" y="2598.66" width="36.12" height="11.99" fill="#a8a8d3"/>
<rect x="1178.1" y="2610.35" width="36.12" height="11.99" fill="#6969b4"/>
<rect x="1213.92" y="2610.35" width="36.12" height="11.99" fill="#eabfc1"/>
<rect x="1249.74" y="2610.35" width="36.12" height="11.99" fill="#5a5aad"/>
<rect x="1285.56" y="2610.35" width="36.12" height="11.99" fill="#18188c"/>
<rect x="1321.38" y="2610.35" width="36.12" height="11.99" fill="#dc9497"/>
<rect x="1357.2" y="2610.35" width="36.12" height="11.99" fill="#18188c"/>
<rect x="1393.02" y="2610.35" width="36.12" height="11.99" fill="#3b3b9e"/>
<rect x="1428.84" y="2610.35" width="36.12" height="11.99" fill="#dc9497"/>
<rect x="1464.66" y="2610.35" width="36.12" height="11.99" fill="#3b3b9e"/>
<rect x="1178.1" y="2622.04" width="36.12" height="11.99" fill="#f2d7d8"/>
<rect x="1213.92" y="2622.04" width="36.12" height="11.99" fill="#4a4aa5"/>
<rect x="1249.74" y="2622.04" width="36.12" height="11.99" fill="#d3787c"/>
<rect x="1285.56" y="2622.04" width="36.12" height="11.99" fill="#ecc5c6"/>
<rect x="1321.38" y="2622.04" width="36.12" height="11.99" fill="#f6f6fb"/>
<rect x="1357.2" y="2622.04" width="36.12" height="11.99" fill="#f2d7d8"/>
<rect x="1393.02" y="2622.04" width="36.12" height="11.99" fill="#f2d7d8"/>
<rect x="1428.84" y="2622.04" width="36.12" height="11.99" fill="#f9edee"/>
<rect x="1464.66" y="2622.04" width="36.12" height="11.99" fill="#ffffff"/>
<rect x="1178.1" y="2633.73" width="36.12" height="11.99" fill="#d2d2e9"/>
<rect x="1213.92" y="2633.73" width="36.12" height="11.99" fill="#e2a8aa"/>
<rect x="1249.74" y="2633.73" width="36.12" height="11.99" fill="#9898cb"/>
<rect x="1285.56" y="2633.73" width="36.12" height="11.99" fill="#fcf7f8"/>
<rect x="1321.38" y="2633.73" width="36.12" height="11.99" fill="#fcf7f8"/>
<rect x="1357.2" y="2633.73" width="36.12" height="11.99" fill="#ffffff"/>
<rect x="1393.02" y="2633.73" width="36.12" height="11.99" fill="#fcf7f8"/>
<rect x="1428.84" y="2633.73" width="36.12" height="11.99" fill="#d9d9ec"/>
<rect x="1464.66" y="2633.73" width="36.12" height="11.99" fill="#f6e3e4"/>
<rect x="1178.1" y="2645.42" width="36.12" height="11.99" fill="#4a4aa5"/>
<rect x="1213.92" y="2645.42" width="36.12" height="11.99" fill="#f2d7d8"/>
<rect x="1249.74" y="2645.42" width="36.12" height="11.99" fill="#2c2c96"/>
<rect x="1285.56" y="2645.42" width="36.12" height="11.99" fill="#5a5aad"/>
<rect x="1321.38" y="2645.42" width="36.12" height="11.99" fill="#e1a2a5"/>
<rect x="1357.2" y="2645.42" width="36.12" height="11.99" fill="#4a4aa5"/>
<rect x="1393.02" y="2645.42" width="36.12" height="11.99" fill="#5a5aad"/>
<rect x="1428.84" y="2645.42" width="36.12" height="11.99" fill="#e2a8aa"/>
<rect x="1464.66" y="2645.42" width="36.12" height="11.99" fill="#5a5aad"/>
<rect x="1178.1" y="2657.11" width="36.12" height="11.99" fill="#e0e0f0"/>
<rect x="1213.92" y="2657.11" width="36.12" height="11.99" fill="#e8b9bb"/>
<rect x="1249.74" y="2657.11" width="36.12" height="11.99" fill="#efeff7"/>
<rect x="1285.56" y="2657.11" width="36.12" height="11.99" fill="#ffffff"/>
<rect x="1321.38" y="2657.11" width="36.12" height="11.99" fill="#f6e3e4"/>
<rect x="1357.2" y="2657.11" width="36.12" height="11.99" fill="#ffffff"/>
<rect x="1393.02" y="2657.11" width="36.12" height="11.99" fill="#ecc5c6"/>
<rect x="1428.84" y="2657.11" width="36.12" height="11.99" fill="#e8b9bb"/>
<rect x="1464.66" y="2657.11" width="36.12" height="11.99" fill="#ffffff"/>
<rect x="1178.1" y="2668.8" width="36.12" height="11.99" fill="#f6f6fb"/>
<rect x="1213.92" y="2668.8" width="36.12" height="11.99" fill="#ffffff"/>
<rect x="1249.74" y="2668.8" width="36.12" height="11.99" fill="#a8a8d3"/>
<rect x="1285.56" y="2668.8" width="36.12" height="11.99" fill="#bebedf"/>
<rect x="1321.38" y="2668.8" width="36.12" height="11.99" fill="#ffffff"/>
<rect x="1357.2" y="2668.8" width="36.12" height="11.99" fill="#efeff7"/>
<rect x="1393.02" y="2668.8" width="36.12" height="11.99" fill="#faf0f1"/>
<rect x="1428.84" y="2668.8" width="36.12" height="11.99" fill="#eabfc1"/>
<rect x="1464.66" y="2668.8" width="36.12" height="11.99" fill="#efeff7"/>
<rect x="1178.1" y="2680.49" width="36.12" height="11.99" fill="#f8eaea"/>
<rect x="1213.92" y="2680.49" width="36.12" height="11.99" fill="#e0e0f0"/>
<rect x="1249.74" y="2680.49" width="36.12" height="11.99" fill="#f6e3e4"/>
<rect x="1285.56" y="2680.49" width="36.12" height="11.99" fill="#efcecf"/>
<rect x="1321.38" y="2680.49" width="36.12" height="11.99" fill="#d2d2e9"/>
<rect x="1357.2" y="2680.49" width="36.12" height="11.99" fill="#f2d7d8"/>
<rect x="1393.02" y="2680.49" width="36.12" height="11.99" fill="#f2d7d8"/>
<rect x="1428.84" y="2680.49" width="36.12" height="11.99" fill="#7e7ebf"/>
<rect x="1464.66" y="2680.49" width="36.12" height="11.99" fill="#e2a8aa"/>
<rect x="1178.1" y="2692.18" width="36.12" height="11.99" fill="#ffffff"/>
<rect x="1213.92" y="2692.18" width="36.12" height="11.99" fill="#eabfc1"/>
<rect x="1249.74" y="2692.18" width="36.12" height="11.99" fill="#8888c4"/>
<rect x="1285.56" y="2692.18" width="36.12" height="11.99" fill="#efeff7"/>
<rect x="1321.38" y="2692.18" width="36.12" height="11.99" fill="#ffffff"/>
<rect x="1357.2" y="2692.18" width="36.12" height="11.99" fill="#f8eaea"/>
<rect x="1393.02" y="2692.18" width="36.12" height="11.99" fill="#f2d7d8"/>
<rect x="1428.84" y="2692.18" width="36.12" height="11.99" fill="#eabfc1"/>
<rect x="1464.66" y="2692.18" width="36.12" height="11.99" fill="#f6f6fb"/>
<rect x="1178.1" y="2703.87" width="36.12" height="11.99" fill="#5a5aad"/>
<rect x="1213.92" y="2703.87" width="36.12" height="11.99" fill="#ecc5c6"/>
<rect x="1249.74" y="2703.87" width="36.12" height="11.99" fill="#5a5aad"/>
<rect x="1285.56" y="2703.87" width="36.12" height="11.99" fill="#5a5aad"/>
<rect x="1321.38" y="2703.87" width="36.12" height="11.99" fill="#e2a8aa"/>
<rect x="1357.2" y="2703.87" width="36.12" height="11.99" fill="#5a5aad"/>
<rect x="1393.02" y="2703.87" width="36.12" height="11.99" fill="#6969b4"/>
<rect x="1428.84" y="2703.87" width="36.12" height="11.99" fill="#d3787c"/>
<rect x="1464.66" y="2703.87" width="36.12" height="11.99" fill="#2c2c96"/>
<rect x="1178.1" y="2715.56" width="36.12" height="11.99" fill="#f2d7d8"/>
<rect x="1213.92" y="2715.56" width="36.12" height="11.99" fill="#efeff7"/>
<rect x="1249.74" y="2715.56" width="36.12" height="11.99" fill="#f6e3e4"/>
<rect x="1285.56" y="2715.56" width="36.12" height="11.99" fill="#c8c8e4"/>
<rect x="1321.38" y="2715.56" width="36.12" height="11.99" fill="#b8b8dc"/>
<rect x="1357.2" y="2715.56" width="36.12" height="11.99" fill="#f6f6fb"/>
<rect x="1393.02" y="2715.56" width="36.12" height="11.99" fill="#bebedf"/>
<rect x="1428.84" y="2715.56" width="36.12" height="11.99" fill="#9e9ecf"/>
<rect x="1464.66" y="2715.56" width="36.12" height="11.99" fill="#f4ddde"/>
<rect x="1178.1" y="2727.25" width="36.12" height="11.99" fill="#ecc5c6"/>
<rect x="1213.92" y="2727.25" width="36.12" height="11.99" fill="#c8c8e4"/>
<rect x="1249.74" y="2727.25" width="36.12" height="11.99" fill="#e5b0b3"/>
<rect x="1285.56" y="2727.25" width="36.12" height="11.99" fill="#e5b0b3"/>
<rect x="1321.38" y="2727.25" width="36.12" height="11.99" fill="#7878bc"/>
<rect x="1357.2" y="2727.25" width="36.12" height="11.99" fill="#e1a2a5"/>
<rect x="1393.02" y="2727.25" width="36.12" height="11.99" fill="#efcecf"/>
<rect x="1428.84" y="2727.25" width="36.12" height="11.99" fill="#7878bc"/>
<rect x="1464.66" y="2727.25" width="36.12" height="11.99" fill="#e1a2a5"/>
<rect x="1178.1" y="2738.94" width="36.12" height="11.99" fill="#df9c9f"/>
<rect x="1213.92" y="2738.94" width="36.12" height="11.99" fill="#7272b9"/>
<rect x="1249.74" y="2738.94" width="36.12" height="11.99" fill="#c54f54"/>
<rect x="1285.56" y="2738.94" width="36.12" height="11.99" fill="#bd343a"/>
<rect x="1321.38" y="2738.94" width="36.12" height="11.99" fill="#7878bc"/>
<rect x="1357.2" y="2738.94" width="36.12" height="11.99" fill="#c54f54"/>
<rect x="1393.02" y="2738.94" width="36.12" height="11.99" fill="#d3787c"/>
<rect x="1428.84" y="2738.94" width="36.12" height="11.99" fill="#7272b9"/>
<rect x="1464.66" y="2738.94" width="36.12" height="11.99" fill="#ce6a6e"/>
<rect x="1178.1" y="2750.63" width="36.12" height="11.99" fill="#d78689"/>
<rect x="1213.92" y="2750.63" width="36.12" height="11.99" fill="#7272b9"/>
<rect x="1249.74" y="2750.63" width="36.12" height="11.99" fill="#ca5d61"/>
<rect x="1285.56" y="2750.63" width="36.12" height="11.99" fill="#ca5d61"/>
<rect x="1321.38" y="2750.63" width="36.12" height="11.99" fill="#b8b8dc"/>
<rect x="1357.2" y="2750.63" width="36.12" height="11.99" fill="#d3787c"/>
<rect x="1393.02" y="2750.63" width="36.12" height="11.99" fill="#e1a2a5"/>
<rect x="1428.84" y="2750.63" width="36.12" height="11.99" fill="#9e9ecf"/>
<rect x="1464.66" y="2750.63" width="36.12" height="11.99" fill="#d98c8f"/>
<rect x="1178.1" y="2762.32" width="36.12" height="11.99" fill="#d78689"/>
<rect x="1213.92" y="2762.32" width="36.12" height="11.99" fill="#f3f3f9"/>
<rect x="1249.74" y="2762.32" width="36.12" height="11.99" fill="#ce6a6e"/>
<rect x="1285.56" y="2762.32" width="36.12" height="11.99" fill="#ce6a6e"/>
<rect x="1321.38" y="2762.32" width="36.12" height="11.99" fill="#ffffff"/>
<rect x="1357.2" y="2762.32" width="36.12" height="11.99" fill="#e2a8aa"/>
<rect x="1393.02" y="2762.32" width="36.12" height="11.99" fill="#e1a2a5"/>
<rect x="1428.84" y="2762.32" width="36.12" height="11.99" fill="#7e7ebf"/>
<rect x="1464.66" y="2762.32" width="36.12" height="11.99" fill="#d98c8f"/>
<rect x="1178.1" y="2774.01" width="36.12" height="11.99" fill="#9898cb"/>
<rect x="1213.92" y="2774.01" width="36.12" height="11.99" fill="#ffffff"/>
<rect x="1249.74" y="2774.01" width="36.12" height="11.99" fill="#5a5aad"/>
<rect x="1285.56" y="2774.01" width="36.12" height="11.99" fill="#9898cb"/>
<rect x="1321.38" y="2774.01" width="36.12" height="11.99" fill="#e5b0b3"/>
<rect x="1357.2" y="2774.01" width="36.12" height="11.99" fill="#9191c8"/>
<rect x="1393.02" y="2774.01" width="36.12" height="11.99" fill="#c8c8e4"/>
<rect x="1428.84" y="2774.01" width="36.12" height="11.99" fill="#d3787c"/>
<rect x="1464.66" y="2774.01" width="36.12" height="11.99" fill="#8888c4"/>
<rect x="1178.1" y="2785.7" width="36.12" height="11.99" fill="#7878bc"/>
<rect x="1213.92" y="2785.7" width="36.12" height="11.99" fill="#e8b9bb"/>
<rect x="1249.74" y="2785.7" width="36.12" height="11.99" fill="#5a5aad"/>
<rect x="1285.56" y="2785.7" width="36.12" height="11.99" fill="#7272b9"/>
<rect x="1321.38" y="2785.7" width="36.12" height="11.99" fill="#efcecf"/>
<rect x="1357.2" y="2785.7" width="36.12" height="11.99" fill="#8888c4"/>
<rect x="1393.02" y="2785.7" width="36.12" height="11.99" fill="#a8a8d3"/>
<rect x="1428.84" y="2785.7" width="36.12" height="11.99" fill="#e8b9bb"/>
<rect x="1464.66" y="2785.7" width="36.12" height="11.99" fill="#9898cb"/>
<rect x="1178.1" y="2797.39" width="36.12" height="11.99" fill="#c44a4f"/>
<rect x="1213.92" y="2797.39" width="36.12" height="11.99" fill="#8888c4"/>
<rect x="1249.74" y="2797.39" width="36.12" height="11.99" fill="#ce6a6e"/>
<rect x="1285.56" y="2797.39" width="36.12" height="11.99" fill="#be3a3f"/>
<rect x="1321.38" y="2797.39" width="36.12" height="11.99" fill="#9e9ecf"/>
<rect x="1357.2" y="2797.39" width="36.12" height="11.99" fill="#c44a4f"/>
<rect x="1393.02" y="2797.39" width="36.12" height="11.99" fill="#c14247"/>
<rect x="1428.84" y="2797.39" width="36.12" height="11.99" fill="#8888c4"/>
<rect x="1464.66" y="2797.39" width="36.12" height="11.99" fill="#c44a4f"/>
<rect x="1178.1" y="2809.08" width="36.12" height="11.99" fill="#efcecf"/>
<rect x="1213.92" y="2809.08" width="36.12" height="11.99" fill="#7272b9"/>
<rect x="1249.74" y="2809.08" width="36.12" height="11.99" fill="#e2a8aa"/>
<rect x="1285.56" y="2809.08" width="36.12" height="11.99" fill="#e2a8aa"/>
<rect x="1321.38" y="2809.08" width="36.12" height="11.99" fill="#b8b8dc"/>
<rect x="1357.2" y="2809.08" width="36.12" height="11.99" fill="#df9c9f"/>
<rect x="1393.02" y="2809.08" width="36.12" height="11.99" fill="#e1a2a5"/>
<rect x="1428.84" y="2809.08" width="36.12" height="11.99" fill="#ffffff"/>
<rect x="1464.66" y="2809.08" width="36.12" height="11.99" fill="#efcecf"/>
<rect x="1178.1" y="2820.77" width="36.12" height="11.99" fill="#4a4aa5"/>
<rect x="1213.92" y="2820.77" width="36.12" height="11.99" fill="#eabfc1"/>
<rect x="1249.74" y="2820.77" width="36.12" height="11.99" fill="#000080"/>
<rect x="1285.56" y="2820.77" width="36.12" height="11.99" fill="#2c2c96"/>
<rect x="1321.38" y="2820.77" width="36.12" height="11.99" fill="#e5b0b3"/>
<rect x="1357.2" y="2820.77" width="36.12" height="11.99" fill="#4a4aa5"/>
<rect x="1393.02" y="2820.77" width="36.12" height="11.99" fill="#7878bc"/>
<rect x="1428.84" y="2820.77" width="36.12" height="11.99" fill="#df9c9f"/>
<rect x="1464.66" y="2820.77" width="36.12" height="11.99" fill="#5a5aad"/>
<rect x="1178.1" y="2832.46" width="36.12" height="11.99" fill="#b8b8dc"/>
<rect x="1213.92" y="2832.46" width="36.12" height="11.99" fill="#efcecf"/>
<rect x="1249.74" y="2832.46" width="36.12" height="11.99" fill="#5a5aad"/>
<rect x="1285.56" y="2832.46" width="36.12" height="11.99" fill="#9e9ecf"/>
<rect x="1321.38" y="2832.46" width="36.12" height="11.99" fill="#d78689"/>
<rect x="1357.2" y="2832.46" width="36.12" height="11.99" fill="#7878bc"/>
<rect x="1393.02" y="2832.46" width="36.12" height="11.99" fill="#9e9ecf"/>
<rect x="1428.84" y="2832.46" width="36.12" height="11.99" fill="#e8b9bb"/>
<rect x="1464.66" y="2832.46" width="36.12" height="11.99" fill="#b8b8dc"/>
<rect x="1178.1" y="2844.15" width="36.12" height="11.99" fill="#5a5aad"/>
<rect x="1213.92" y="2844.15" width="36.12" height="11.99" fill="#fcf7f8"/>
<rect x="1249.74" y="2844.15" width="36.12" height="11.99" fill="#5a5aad"/>
<rect x="1285.56" y="2844.15" width="36.12" height="11.99" fill="#9e9ecf"/>
<rect x="1321.38" y="2844.15" width="36.12" height="11.99" fill="#f3f3f9"/>
<rect x="1357.2" y="2844.15" width="36.12" height="11.99" fill="#bebedf"/>
<rect x="1393.02" y="2844.15" width="36.12" height="11.99" fill="#bebedf"/>
<rect x="1428.84" y="2844.15" width="36.12" height="11.99" fill="#eabfc1"/>
<rect x="1464.66" y="2844.15" width="36.12" height="11.99" fill="#9898cb"/>
<rect x="1178.1" y="2855.84" width="36.12" height="11.99" fill="#fbf4f4"/>
<rect x="1213.92" y="2855.84" width="36.12" height="11.99" fill="#7e7ebf"/>
<rect x="1249.74" y="2855.84" width="36.12" height="11.99" fill="#ecc5c6"/>
<rect x="1285.56" y="2855.84" width="36.12" height="11.99" fill="#ffffff"/>
<rect x="1321.38" y="2855.84" width="36.12" height="11.99" fill="#f6f6fb"/>
<rect x="1357.2" y="2855.84" width="36.12" height="11.99" fill="#efeff7"/>
<rect x="1393.02" y="2855.84" width="36.12" height="11.99" fill="#d2d2e9"/>
<rect x="1428.84" y="2855.84" width="36.12" height="11.99" fill="#ffffff"/>
<rect x="1464.66" y="2855.84" width="36.12" height="11.99" fill="#e4e4f1"/>
<text x="1267.65" y="2612.59" font-size="16.5" text-anchor="middle" font-weight="bold" letter-spacing="0.5">*</text>
<text x="1196.01" y="2624.28" font-size="16.5" text-anchor="middle" font-weight="bold" letter-spacing="0.5">*</text>
<text x="1267.65" y="2624.28" font-size="16.5" text-anchor="middle" font-weight="bold" letter-spacing="0.5">*</text>
<text x="1303.47" y="2624.28" font-size="16.5" text-anchor="middle" font-weight="bold" letter-spacing="0.5">***</text>
<text x="1375.11" y="2624.28" font-size="16.5" text-anchor="middle" font-weight="bold" letter-spacing="0.5">***</text>
<text x="1410.93" y="2624.28" font-size="16.5" text-anchor="middle" font-weight="bold" letter-spacing="0.5">*</text>
<text x="1482.57" y="2624.28" font-size="16.5" text-anchor="middle" font-weight="bold" letter-spacing="0.5">*</text>
<text x="1231.83" y="2635.97" font-size="16.5" text-anchor="middle" font-weight="bold" letter-spacing="0.5">*</text>
<text x="1267.65" y="2635.97" font-size="16.5" text-anchor="middle" font-weight="bold" letter-spacing="0.5">*</text>
<text x="1196.01" y="2659.35" font-size="16.5" text-anchor="middle" font-weight="bold" letter-spacing="0.5">*</text>
<text x="1267.65" y="2659.35" font-size="16.5" text-anchor="middle" font-weight="bold" letter-spacing="0.5">**</text>
<text x="1303.47" y="2659.35" font-size="16.5" text-anchor="middle" font-weight="bold" letter-spacing="0.5">*</text>
<text x="1375.11" y="2659.35" font-size="16.5" text-anchor="middle" font-weight="bold" letter-spacing="0.5">*</text>
<text x="1410.93" y="2659.35" font-size="16.5" text-anchor="middle" font-weight="bold" letter-spacing="0.5">*</text>
<text x="1482.57" y="2659.35" font-size="16.5" text-anchor="middle" font-weight="bold" letter-spacing="0.5">*</text>
<text x="1196.01" y="2717.8" font-size="16.5" text-anchor="middle" font-weight="bold" letter-spacing="0.5">*</text>
<text x="1267.65" y="2717.8" font-size="16.5" text-anchor="middle" font-weight="bold" letter-spacing="0.5">*</text>
<text x="1303.47" y="2717.8" font-size="16.5" text-anchor="middle" font-weight="bold" letter-spacing="0.5">*</text>
<text x="1375.11" y="2717.8" font-size="16.5" text-anchor="middle" font-weight="bold" letter-spacing="0.5">*</text>
<text x="1410.93" y="2717.8" font-size="16.5" text-anchor="middle" font-weight="bold" letter-spacing="0.5">*</text>
<text x="1446.75" y="2717.8" font-size="16.5" text-anchor="middle" font-weight="bold" letter-spacing="0.5">*</text>
<text x="1482.57" y="2717.8" font-size="16.5" text-anchor="middle" font-weight="bold" letter-spacing="0.5">**</text>
<text x="1267.65" y="2752.87" font-size="16.5" text-anchor="middle" font-weight="bold" letter-spacing="0.5">**</text>
<text x="1303.47" y="2752.87" font-size="16.5" text-anchor="middle" font-weight="bold" letter-spacing="0.5">***</text>
<text x="1375.11" y="2752.87" font-size="16.5" text-anchor="middle" font-weight="bold" letter-spacing="0.5">**</text>
<text x="1410.93" y="2752.87" font-size="16.5" text-anchor="middle" font-weight="bold" letter-spacing="0.5">*</text>
<text x="1446.75" y="2752.87" font-size="16.5" text-anchor="middle" font-weight="bold" letter-spacing="0.5">*</text>
<text x="1482.57" y="2752.87" font-size="16.5" text-anchor="middle" font-weight="bold" letter-spacing="0.5">*</text>
<text x="1267.65" y="2764.56" font-size="16.5" text-anchor="middle" font-weight="bold" letter-spacing="0.5">**</text>
<text x="1303.47" y="2764.56" font-size="16.5" text-anchor="middle" font-weight="bold" letter-spacing="0.5">**</text>
<text x="1375.11" y="2764.56" font-size="16.5" text-anchor="middle" font-weight="bold" letter-spacing="0.5">*</text>
<text x="1267.65" y="2776.25" font-size="16.5" text-anchor="middle" font-weight="bold" letter-spacing="0.5">*</text>
<text x="1303.47" y="2776.25" font-size="16.5" text-anchor="middle" font-weight="bold" letter-spacing="0.5">*</text>
<text x="1267.65" y="2787.94" font-size="16.5" text-anchor="middle" font-weight="bold" letter-spacing="0.5">*</text>
<text x="1446.75" y="2787.94" font-size="16.5" text-anchor="middle" font-weight="bold" letter-spacing="0.5">*</text>
<text x="1267.65" y="2799.63" font-size="16.5" text-anchor="middle" font-weight="bold" letter-spacing="0.5">*</text>
<text x="1196.01" y="2811.32" font-size="16.5" text-anchor="middle" font-weight="bold" letter-spacing="0.5">**</text>
<text x="1267.65" y="2811.32" font-size="16.5" text-anchor="middle" font-weight="bold" letter-spacing="0.5">*</text>
<text x="1303.47" y="2811.32" font-size="16.5" text-anchor="middle" font-weight="bold" letter-spacing="0.5">***</text>
<text x="1375.11" y="2811.32" font-size="16.5" text-anchor="middle" font-weight="bold" letter-spacing="0.5">**</text>
<text x="1410.93" y="2811.32" font-size="16.5" text-anchor="middle" font-weight="bold" letter-spacing="0.5">**</text>
<text x="1482.57" y="2811.32" font-size="16.5" text-anchor="middle" font-weight="bold" letter-spacing="0.5">**</text>
<text x="1231.83" y="2823.01" font-size="16.5" text-anchor="middle" font-weight="bold" letter-spacing="0.5">*</text>
<text x="1196.01" y="2834.7" font-size="16.5" text-anchor="middle" font-weight="bold" letter-spacing="0.5">*</text>
<text x="1267.65" y="2834.7" font-size="16.5" text-anchor="middle" font-weight="bold" letter-spacing="0.5">***</text>
<text x="1303.47" y="2834.7" font-size="16.5" text-anchor="middle" font-weight="bold" letter-spacing="0.5">**</text>
<text x="1375.11" y="2834.7" font-size="16.5" text-anchor="middle" font-weight="bold" letter-spacing="0.5">*</text>
<text x="1482.57" y="2834.7" font-size="16.5" text-anchor="middle" font-weight="bold" letter-spacing="0.5">*</text>
<text x="1267.65" y="2846.39" font-size="16.5" text-anchor="middle" font-weight="bold" letter-spacing="0.5">*</text>
<text x="1196.01" y="2858.08" font-size="16.5" text-anchor="middle" font-weight="bold" letter-spacing="0.5">*</text>
<text x="1267.65" y="2858.08" font-size="16.5" text-anchor="middle" font-weight="bold" letter-spacing="0.5">*</text>
<text x="1509.5" y="2561.4" font-size="10.45" fill="#111">Bacteroides</text>
<text x="1509.5" y="2573.09" font-size="10.45" fill="#111">Christensenellaceae_R-7_group</text>
<text x="1509.5" y="2584.78" font-size="10.45" fill="#111">Romboutsia</text>
<text x="1509.5" y="2596.47" font-size="10.45" fill="#111">Phascolarctobacterium</text>
<text x="1509.5" y="2608.16" font-size="10.45" fill="#111">Peptococcus</text>
<text x="1509.5" y="2619.85" font-size="10.45" fill="#111">Erysipelatoclostridium</text>
<text x="1509.5" y="2631.54" font-size="10.45" fill="#111">Odoribacter</text>
<text x="1509.5" y="2643.23" font-size="10.45" fill="#111">Oscillibacter</text>
<text x="1509.5" y="2654.92" font-size="10.45" fill="#111">Faecalitalea</text>
<text x="1509.5" y="2666.61" font-size="10.45" fill="#111">Turicibacter</text>
<text x="1509.5" y="2678.3" font-size="10.45" fill="#111">Monoglobus</text>
<text x="1509.5" y="2689.99" font-size="10.45" fill="#111">Pseudoflavonifractor</text>
<text x="1509.5" y="2701.68" font-size="10.45" fill="#111">Coriobacteriaceae_UCG-002</text>
<text x="1509.5" y="2713.37" font-size="10.45" fill="#111">unclassified_o__Erysipelotrichales</text>
<text x="1509.5" y="2725.06" font-size="10.45" fill="#111">Ruminococcus_torques_group</text>
<text x="1509.5" y="2736.75" font-size="10.45" fill="#111">Desulfovibrio</text>
<text x="1509.5" y="2748.44" font-size="10.45" fill="#111">Sphaerochaeta</text>
<text x="1509.5" y="2760.13" font-size="10.45" fill="#111">Rikenellaceae_RC9_gut_group</text>
<text x="1509.5" y="2771.82" font-size="10.45" fill="#111">norank_f__F082</text>
<text x="1509.5" y="2783.51" font-size="10.45" fill="#111">unclassified_f__Coriobacteriaceae</text>
<text x="1509.5" y="2795.2" font-size="10.45" fill="#111">Enterorhabdus</text>
<text x="1509.5" y="2806.89" font-size="10.45" fill="#111">unclassified_f__Spirochaetaceae</text>
<text x="1509.5" y="2818.58" font-size="10.45" fill="#111">norank_f__Barnesiellaceae</text>
<text x="1509.5" y="2830.27" font-size="10.45" fill="#111">Sellimonas</text>
<text x="1509.5" y="2841.96" font-size="10.45" fill="#111">Oribacterium</text>
<text x="1509.5" y="2853.65" font-size="10.45" fill="#111">Subdoligranulum</text>
<text x="1509.5" y="2865.34" font-size="10.45" fill="#111">Alloprevotella</text>
<text x="1200.01" y="2879.03" font-size="13.6" text-anchor="end" fill="#111" transform="rotate(-58 1200.01 2879.03)">Duodenum Villus heigt</text>
<text x="1235.83" y="2879.03" font-size="13.6" text-anchor="end" fill="#111" transform="rotate(-58 1235.83 2879.03)">Duodenum Crypt depth</text>
<text x="1271.65" y="2879.03" font-size="13.6" text-anchor="end" fill="#111" transform="rotate(-58 1271.65 2879.03)">Duodenum V/C</text>
<text x="1307.47" y="2879.03" font-size="13.6" text-anchor="end" fill="#111" transform="rotate(-58 1307.47 2879.03)">Jejunum Villus heigt</text>
<text x="1343.29" y="2879.03" font-size="13.6" text-anchor="end" fill="#111" transform="rotate(-58 1343.29 2879.03)">Jejunum Crypt depth</text>
<text x="1379.11" y="2879.03" font-size="13.6" text-anchor="end" fill="#111" transform="rotate(-58 1379.11 2879.03)">Jejunum V/C</text>
<text x="1414.93" y="2879.03" font-size="13.6" text-anchor="end" fill="#111" transform="rotate(-58 1414.93 2879.03)">Ileum Villus heigt</text>
<text x="1450.75" y="2879.03" font-size="13.6" text-anchor="end" fill="#111" transform="rotate(-58 1450.75 2879.03)">Ileum Crypt depth</text>
<text x="1486.57" y="2879.03" font-size="13.6" text-anchor="end" fill="#111" transform="rotate(-58 1486.57 2879.03)">Ileum V/C</text>
<line x1="1159.9" y1="2569.43" x2="1178.1" y2="2569.43" stroke="#111" stroke-width="1.2"/>
<line x1="1159.9" y1="2581.12" x2="1178.1" y2="2581.12" stroke="#111" stroke-width="1.2"/>
<line x1="1159.9" y1="2568.84" x2="1159.9" y2="2581.72" stroke="#111" stroke-width="1.2"/>
<line x1="1156.6" y1="2557.74" x2="1178.1" y2="2557.74" stroke="#111" stroke-width="1.2"/>
<line x1="1156.6" y1="2575.28" x2="1159.9" y2="2575.28" stroke="#111" stroke-width="1.2"/>
<line x1="1156.6" y1="2557.14" x2="1156.6" y2="2575.88" stroke="#111" stroke-width="1.2"/>
<line x1="1156.9" y1="2592.82" x2="1178.1" y2="2592.82" stroke="#111" stroke-width="1.2"/>
<line x1="1156.9" y1="2604.51" x2="1178.1" y2="2604.51" stroke="#111" stroke-width="1.2"/>
<line x1="1156.9" y1="2592.22" x2="1156.9" y2="2605.11" stroke="#111" stroke-width="1.2"/>
<line x1="1164.3" y1="2639.58" x2="1178.1" y2="2639.58" stroke="#111" stroke-width="1.2"/>
<line x1="1164.3" y1="2651.26" x2="1178.1" y2="2651.26" stroke="#111" stroke-width="1.2"/>
<line x1="1164.3" y1="2638.98" x2="1164.3" y2="2651.86" stroke="#111" stroke-width="1.2"/>
<line x1="1156.9" y1="2627.89" x2="1178.1" y2="2627.89" stroke="#111" stroke-width="1.2"/>
<line x1="1156.9" y1="2645.42" x2="1164.3" y2="2645.42" stroke="#111" stroke-width="1.2"/>
<line x1="1156.9" y1="2627.29" x2="1156.9" y2="2646.02" stroke="#111" stroke-width="1.2"/>
<line x1="1149.2" y1="2616.2" x2="1178.1" y2="2616.2" stroke="#111" stroke-width="1.2"/>
<line x1="1149.2" y1="2636.65" x2="1156.9" y2="2636.65" stroke="#111" stroke-width="1.2"/>
<line x1="1149.2" y1="2615.6" x2="1149.2" y2="2637.25" stroke="#111" stroke-width="1.2"/>
<line x1="1141.8" y1="2598.66" x2="1156.9" y2="2598.66" stroke="#111" stroke-width="1.2"/>
<line x1="1141.8" y1="2626.42" x2="1149.2" y2="2626.42" stroke="#111" stroke-width="1.2"/>
<line x1="1141.8" y1="2598.06" x2="1141.8" y2="2627.02" stroke="#111" stroke-width="1.2"/>
<line x1="1135" y1="2566.51" x2="1156.6" y2="2566.51" stroke="#111" stroke-width="0.6"/>
<line x1="1135" y1="2612.54" x2="1141.8" y2="2612.54" stroke="#111" stroke-width="0.6"/>
<line x1="1135" y1="2565.91" x2="1135" y2="2613.14" stroke="#111" stroke-width="0.6"/>
<line x1="1168.3" y1="2686.34" x2="1178.1" y2="2686.34" stroke="#111" stroke-width="1.2"/>
<line x1="1168.3" y1="2698.03" x2="1178.1" y2="2698.03" stroke="#111" stroke-width="1.2"/>
<line x1="1168.3" y1="2685.74" x2="1168.3" y2="2698.62" stroke="#111" stroke-width="1.2"/>
<line x1="1164.6" y1="2674.64" x2="1178.1" y2="2674.64" stroke="#111" stroke-width="1.2"/>
<line x1="1164.6" y1="2692.18" x2="1168.3" y2="2692.18" stroke="#111" stroke-width="1.2"/>
<line x1="1164.6" y1="2674.05" x2="1164.6" y2="2692.78" stroke="#111" stroke-width="1.2"/>
<line x1="1161.8" y1="2662.95" x2="1178.1" y2="2662.95" stroke="#111" stroke-width="1.2"/>
<line x1="1161.8" y1="2683.41" x2="1164.6" y2="2683.41" stroke="#111" stroke-width="1.2"/>
<line x1="1161.8" y1="2662.36" x2="1161.8" y2="2684.01" stroke="#111" stroke-width="1.2"/>
<line x1="1166.8" y1="2756.47" x2="1178.1" y2="2756.47" stroke="#111" stroke-width="1.2"/>
<line x1="1166.8" y1="2768.16" x2="1178.1" y2="2768.16" stroke="#111" stroke-width="1.2"/>
<line x1="1166.8" y1="2755.88" x2="1166.8" y2="2768.76" stroke="#111" stroke-width="1.2"/>
<line x1="1162.1" y1="2744.78" x2="1178.1" y2="2744.78" stroke="#111" stroke-width="1.2"/>
<line x1="1162.1" y1="2762.32" x2="1166.8" y2="2762.32" stroke="#111" stroke-width="1.2"/>
<line x1="1162.1" y1="2744.18" x2="1162.1" y2="2762.92" stroke="#111" stroke-width="1.2"/>
<line x1="1160.6" y1="2733.1" x2="1178.1" y2="2733.1" stroke="#111" stroke-width="1.2"/>
<line x1="1160.6" y1="2753.55" x2="1162.1" y2="2753.55" stroke="#111" stroke-width="1.2"/>
<line x1="1160.6" y1="2732.5" x2="1160.6" y2="2754.15" stroke="#111" stroke-width="1.2"/>
<line x1="1158.7" y1="2721.41" x2="1178.1" y2="2721.41" stroke="#111" stroke-width="1.2"/>
<line x1="1158.7" y1="2743.32" x2="1160.6" y2="2743.32" stroke="#111" stroke-width="1.2"/>
<line x1="1158.7" y1="2720.81" x2="1158.7" y2="2743.92" stroke="#111" stroke-width="1.2"/>
<line x1="1153.5" y1="2709.72" x2="1178.1" y2="2709.72" stroke="#111" stroke-width="1.2"/>
<line x1="1153.5" y1="2732.36" x2="1158.7" y2="2732.36" stroke="#111" stroke-width="0.6"/>
<line x1="1153.5" y1="2709.12" x2="1153.5" y2="2732.96" stroke="#111" stroke-width="0.6"/>
<line x1="1147.3" y1="2673.18" x2="1161.8" y2="2673.18" stroke="#111" stroke-width="0.6"/>
<line x1="1147.3" y1="2721.04" x2="1153.5" y2="2721.04" stroke="#111" stroke-width="0.6"/>
<line x1="1147.3" y1="2672.58" x2="1147.3" y2="2721.64" stroke="#111" stroke-width="0.6"/>
<line x1="1161.8" y1="2803.24" x2="1178.1" y2="2803.24" stroke="#111" stroke-width="1.2"/>
<line x1="1161.8" y1="2814.93" x2="1178.1" y2="2814.93" stroke="#111" stroke-width="1.2"/>
<line x1="1161.8" y1="2802.64" x2="1161.8" y2="2815.53" stroke="#111" stroke-width="1.2"/>
<line x1="1159.1" y1="2791.55" x2="1178.1" y2="2791.55" stroke="#111" stroke-width="1.2"/>
<line x1="1159.1" y1="2809.08" x2="1161.8" y2="2809.08" stroke="#111" stroke-width="1.2"/>
<line x1="1159.1" y1="2790.95" x2="1159.1" y2="2809.68" stroke="#111" stroke-width="1.2"/>
<line x1="1154" y1="2779.86" x2="1178.1" y2="2779.86" stroke="#111" stroke-width="1.2"/>
<line x1="1154" y1="2800.31" x2="1159.1" y2="2800.31" stroke="#111" stroke-width="1.2"/>
<line x1="1154" y1="2779.26" x2="1154" y2="2800.91" stroke="#111" stroke-width="1.2"/>
<line x1="1159.1" y1="2826.62" x2="1178.1" y2="2826.62" stroke="#111" stroke-width="1.2"/>
<line x1="1159.1" y1="2838.31" x2="1178.1" y2="2838.31" stroke="#111" stroke-width="1.2"/>
<line x1="1159.1" y1="2826.02" x2="1159.1" y2="2838.91" stroke="#111" stroke-width="1.2"/>
<line x1="1151.5" y1="2849.99" x2="1178.1" y2="2849.99" stroke="#111" stroke-width="1.2"/>
<line x1="1151.5" y1="2861.68" x2="1178.1" y2="2861.68" stroke="#111" stroke-width="1.2"/>
<line x1="1151.5" y1="2849.39" x2="1151.5" y2="2862.28" stroke="#111" stroke-width="1.2"/>
<line x1="1144.6" y1="2832.46" x2="1159.1" y2="2832.46" stroke="#111" stroke-width="1.2"/>
<line x1="1144.6" y1="2855.84" x2="1151.5" y2="2855.84" stroke="#111" stroke-width="1.2"/>
<line x1="1144.6" y1="2831.86" x2="1144.6" y2="2856.44" stroke="#111" stroke-width="1.2"/>
<line x1="1139.9" y1="2790.08" x2="1154" y2="2790.08" stroke="#111" stroke-width="1.2"/>
<line x1="1139.9" y1="2844.15" x2="1144.6" y2="2844.15" stroke="#111" stroke-width="1.2"/>
<line x1="1139.9" y1="2789.48" x2="1139.9" y2="2844.75" stroke="#111" stroke-width="1.2"/>
<line x1="1121.8" y1="2697.11" x2="1147.3" y2="2697.11" stroke="#111" stroke-width="1.2"/>
<line x1="1121.8" y1="2817.12" x2="1139.9" y2="2817.12" stroke="#111" stroke-width="1.2"/>
<line x1="1121.8" y1="2696.51" x2="1121.8" y2="2817.72" stroke="#111" stroke-width="1.2"/>
<line x1="1093" y1="2589.53" x2="1135" y2="2589.53" stroke="#111" stroke-width="1.2"/>
<line x1="1093" y1="2757.11" x2="1121.8" y2="2757.11" stroke="#111" stroke-width="1.2"/>
<line x1="1093" y1="2588.93" x2="1093" y2="2757.71" stroke="#111" stroke-width="1.2"/>
<line x1="1267.65" y1="2540" x2="1267.65" y2="2551.9" stroke="#111" stroke-width="1.1"/>
<line x1="1303.47" y1="2540" x2="1303.47" y2="2551.9" stroke="#111" stroke-width="1.1"/>
<line x1="1267.1" y1="2540" x2="1304.02" y2="2540" stroke="#111" stroke-width="1.1"/>
<line x1="1339.29" y1="2536.2" x2="1339.29" y2="2551.9" stroke="#111" stroke-width="1.1"/>
<line x1="1375.11" y1="2536.2" x2="1375.11" y2="2551.9" stroke="#111" stroke-width="1.1"/>
<line x1="1338.74" y1="2536.2" x2="1375.66" y2="2536.2" stroke="#111" stroke-width="1.1"/>
<line x1="1285.56" y1="2533.3" x2="1285.56" y2="2540" stroke="#111" stroke-width="1.1"/>
<line x1="1357.2" y1="2533.3" x2="1357.2" y2="2536.2" stroke="#111" stroke-width="1.1"/>
<line x1="1285.01" y1="2533.3" x2="1357.75" y2="2533.3" stroke="#111" stroke-width="1.1"/>
<line x1="1231.83" y1="2532.9" x2="1231.83" y2="2551.9" stroke="#111" stroke-width="1.1"/>
<line x1="1321.38" y1="2532.9" x2="1321.38" y2="2533.3" stroke="#111" stroke-width="1.1"/>
<line x1="1231.28" y1="2532.9" x2="1321.93" y2="2532.9" stroke="#111" stroke-width="1.1"/>
<line x1="1196.01" y1="2524.6" x2="1196.01" y2="2551.9" stroke="#111" stroke-width="1.1"/>
<line x1="1276.61" y1="2524.6" x2="1276.61" y2="2532.9" stroke="#111" stroke-width="1.1"/>
<line x1="1195.46" y1="2524.6" x2="1277.15" y2="2524.6" stroke="#111" stroke-width="1.1"/>
<line x1="1446.75" y1="2527" x2="1446.75" y2="2551.9" stroke="#111" stroke-width="1.1"/>
<line x1="1482.57" y1="2527" x2="1482.57" y2="2551.9" stroke="#111" stroke-width="1.1"/>
<line x1="1446.2" y1="2527" x2="1483.12" y2="2527" stroke="#111" stroke-width="1.1"/>
<line x1="1410.93" y1="2516.1" x2="1410.93" y2="2551.9" stroke="#111" stroke-width="1.1"/>
<line x1="1464.66" y1="2516.1" x2="1464.66" y2="2527" stroke="#111" stroke-width="1.1"/>
<line x1="1410.38" y1="2516.1" x2="1465.21" y2="2516.1" stroke="#111" stroke-width="1.1"/>
<line x1="1236.31" y1="2468.3" x2="1236.31" y2="2524.6" stroke="#111" stroke-width="1.1"/>
<line x1="1437.79" y1="2468.3" x2="1437.79" y2="2516.1" stroke="#111" stroke-width="1.1"/>
<line x1="1235.76" y1="2468.3" x2="1438.34" y2="2468.3" stroke="#111" stroke-width="1.1"/>
<defs><linearGradient id="gl" x1="0" y1="0" x2="0" y2="1"><stop offset="0" stop-color="#b41a20"/><stop offset="0.04" stop-color="#ba2c31"/><stop offset="0.08" stop-color="#c03d42"/><stop offset="0.12" stop-color="#c54f54"/><stop offset="0.17" stop-color="#cb6165"/><stop offset="0.21" stop-color="#d17477"/><stop offset="0.25" stop-color="#d78689"/><stop offset="0.29" stop-color="#dd999b"/><stop offset="0.33" stop-color="#e4acae"/><stop offset="0.38" stop-color="#eabfc1"/><stop offset="0.42" stop-color="#f1d3d4"/><stop offset="0.46" stop-color="#f7e8e8"/><stop offset="0.5" stop-color="#ffffff"/><stop offset="0.54" stop-color="#e5e5f2"/><stop offset="0.58" stop-color="#cecee7"/><stop offset="0.62" stop-color="#b8b8dc"/><stop offset="0.67" stop-color="#a2a2d1"/><stop offset="0.71" stop-color="#8d8dc6"/><stop offset="0.75" stop-color="#7878bc"/><stop offset="0.79" stop-color="#6464b2"/><stop offset="0.83" stop-color="#4f4fa8"/><stop offset="0.88" stop-color="#3b3b9e"/><stop offset="0.92" stop-color="#272794"/><stop offset="0.96" stop-color="#14148a"/><stop offset="1" stop-color="#000080"/></linearGradient></defs>
<rect x="1718" y="2491" width="24" height="115" fill="url(#gl)"/>
<line x1="1742" y1="2512.56" x2="1745.5" y2="2512.56" stroke="#222" stroke-width="0.9"/>
<text x="1748.5" y="2516.45" font-size="10.8" fill="#111">0.5</text>
<line x1="1742" y1="2548.5" x2="1745.5" y2="2548.5" stroke="#222" stroke-width="0.9"/>
<text x="1748.5" y="2552.39" font-size="10.8" fill="#111">0</text>
<line x1="1742" y1="2584.44" x2="1745.5" y2="2584.44" stroke="#222" stroke-width="0.9"/>
<text x="1748.5" y="2588.33" font-size="10.8" fill="#111">-0.5</text>
</g>
</svg>
</body>
</html>
